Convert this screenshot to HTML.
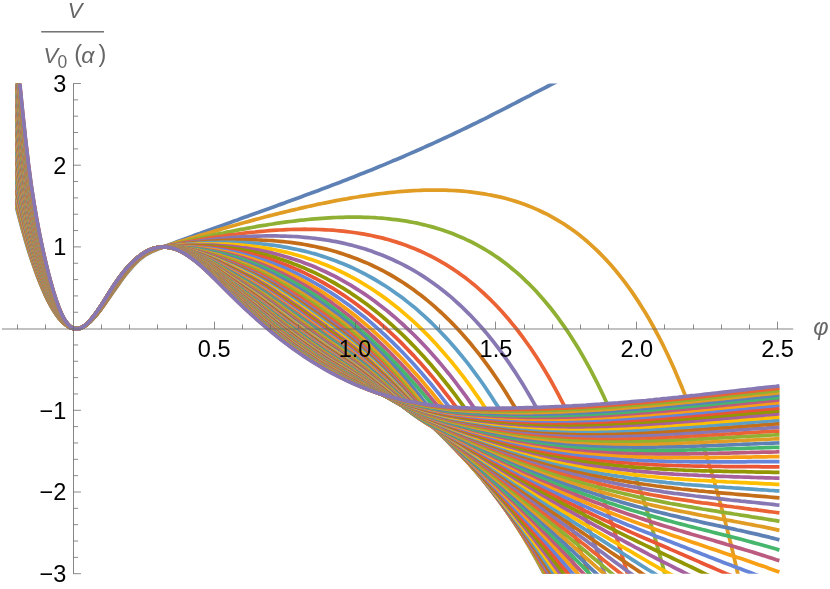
<!DOCTYPE html>
<html><head><meta charset="utf-8"><title>plot</title>
<style>
html,body{margin:0;padding:0;background:#fff;}
body{width:830px;height:589px;overflow:hidden;font-family:"Liberation Sans",sans-serif;}
svg{display:block}
#tx{position:absolute;left:0;top:0;width:830px;height:589px;will-change:transform;transform:translateZ(0);}
text{font-family:"Liberation Sans",sans-serif;fill:#000}
.it{font-style:italic;fill:#666}
</style></head><body>
<svg width="830" height="589" viewBox="0 0 830 589">
<defs><clipPath id="c"><rect x="0" y="83.4" width="830" height="490.3"/></clipPath></defs>
<rect width="830" height="589" fill="#fff"/>
<g clip-path="url(#c)" fill="none" stroke-width="3.75" stroke-linejoin="round" stroke-linecap="square">
<path d="M17.1,209.6 L19.9,220.4 L22.7,230.6 L25.5,240.4 L28.3,249.6 L31.1,258.4 L34.0,266.7 L36.8,274.5 L39.6,281.8 L42.4,288.6 L45.2,294.9 L48.0,300.7 L50.9,306.0 L53.7,310.7 L56.5,314.9 L59.3,318.6 L62.1,321.7 L64.9,324.2 L67.8,326.2 L70.6,327.7 L73.4,328.5 L76.2,328.7 L79.0,328.4 L81.9,327.4 L84.7,326.0 L87.5,324.0 L90.3,321.5 L93.1,318.7 L95.9,315.5 L98.8,312.1 L101.6,308.4 L104.4,304.5 L107.2,300.5 L110.0,296.4 L112.8,292.4 L115.7,288.3 L118.5,284.3 L121.3,280.4 L124.1,276.7 L126.9,273.1 L129.7,269.7 L132.6,266.4 L135.4,263.5 L138.2,260.7 L141.0,258.3 L143.8,256.2 L146.6,254.3 L149.5,252.8 L152.3,251.4 L155.1,250.2 L157.9,249.1 L160.7,248.0 L163.5,246.9 L167.1,245.5 L170.6,244.2 L174.1,242.9 L177.6,241.6 L181.2,240.3 L184.7,239.0 L188.2,237.7 L191.7,236.4 L195.2,235.1 L198.8,233.9 L202.3,232.6 L205.8,231.3 L209.3,230.0 L212.8,228.8 L216.4,227.5 L219.9,226.2 L223.4,225.0 L226.9,223.7 L230.4,222.4 L234.0,221.1 L237.5,219.9 L241.0,218.6 L244.5,217.3 L248.1,216.1 L251.6,214.8 L255.1,213.5 L258.6,212.3 L262.1,211.0 L265.7,209.7 L269.2,208.5 L272.7,207.2 L276.2,205.9 L279.7,204.6 L283.3,203.4 L286.8,202.1 L290.3,200.8 L293.8,199.5 L297.4,198.2 L300.9,196.9 L304.4,195.6 L307.9,194.3 L311.4,193.0 L315.0,191.7 L318.5,190.4 L322.0,189.1 L325.5,187.8 L329.0,186.4 L332.6,185.1 L336.1,183.8 L339.6,182.4 L343.1,181.0 L346.6,179.7 L350.2,178.3 L353.7,176.9 L357.2,175.5 L360.7,174.1 L364.3,172.7 L367.8,171.3 L371.3,169.9 L374.8,168.5 L378.3,167.0 L381.9,165.6 L385.4,164.1 L388.9,162.6 L392.4,161.1 L395.9,159.7 L399.5,158.2 L403.0,156.7 L406.5,155.1 L410.0,153.6 L413.6,152.1 L417.1,150.5 L420.6,149.0 L424.1,147.4 L427.6,145.8 L431.2,144.2 L434.7,142.6 L438.2,141.0 L441.7,139.4 L445.2,137.8 L448.8,136.1 L452.3,134.5 L455.8,132.8 L459.3,131.1 L462.9,129.4 L466.4,127.7 L469.9,126.0 L473.4,124.3 L476.9,122.6 L480.5,120.8 L484.0,119.1 L487.5,117.3 L491.0,115.5 L494.5,113.7 L498.1,111.9 L501.6,110.1 L505.1,108.3 L508.6,106.5 L512.1,104.7 L515.7,102.9 L519.2,101.0 L522.7,99.2 L526.2,97.4 L529.8,95.6 L533.3,93.7 L536.8,91.9 L540.3,90.1 L543.8,88.3 L547.4,86.5 L550.9,84.7 L554.4,82.9 L557.9,81.1 L561.4,79.3 L565.0,77.6 L568.5,75.8 L572.0,74.0 L575.5,72.3 L579.1,70.5 L582.6,68.8 L586.1,67.0 L589.6,65.3 L593.1,63.6 L596.7,61.9 L600.2,60.1 L603.7,58.4 L607.2,56.7 L610.7,55.0 L614.3,53.3 L617.8,51.6 L621.3,49.9 L624.8,48.2 L628.3,46.4 L631.9,44.7 L635.4,43.0 L638.9,41.3 L642.4,39.6 L646.0,37.9 L649.5,36.2 L653.0,34.5 L777.6,34.5" stroke="#5E81B5"/>
<path d="M17.1,207.7 L19.9,218.7 L22.7,229.1 L25.5,239.1 L28.3,248.5 L31.1,257.5 L34.0,265.9 L36.8,273.8 L39.6,281.2 L42.4,288.1 L45.2,294.5 L48.0,300.4 L50.9,305.7 L53.7,310.5 L56.5,314.8 L59.3,318.5 L62.1,321.6 L64.9,324.2 L67.8,326.2 L70.6,327.6 L73.4,328.5 L76.2,328.7 L79.0,328.4 L81.9,327.4 L84.7,325.9 L87.5,323.9 L90.3,321.5 L93.1,318.6 L95.9,315.4 L98.8,311.9 L101.6,308.2 L104.4,304.3 L107.2,300.2 L110.0,296.1 L112.8,291.9 L115.7,287.8 L118.5,283.8 L121.3,279.9 L124.1,276.1 L126.9,272.5 L129.7,269.1 L132.6,265.9 L135.4,262.9 L138.2,260.2 L141.0,257.8 L143.8,255.7 L146.6,253.9 L149.5,252.3 L152.3,251.0 L155.1,249.9 L157.9,248.8 L160.7,247.8 L163.5,246.9 L167.1,245.8 L170.6,244.7 L174.1,243.5 L177.6,242.4 L181.2,241.3 L184.7,240.2 L188.2,239.1 L191.7,238.0 L195.2,237.0 L198.8,235.9 L202.3,234.8 L205.8,233.8 L209.3,232.7 L212.8,231.7 L216.4,230.6 L219.9,229.6 L223.4,228.5 L226.9,227.5 L230.4,226.5 L234.0,225.5 L237.5,224.5 L241.0,223.5 L244.5,222.5 L248.1,221.6 L251.6,220.6 L255.1,219.6 L258.6,218.7 L262.1,217.8 L265.7,216.8 L269.2,215.9 L272.7,215.0 L276.2,214.1 L279.7,213.2 L283.3,212.4 L286.8,211.5 L290.3,210.6 L293.8,209.8 L297.4,209.0 L300.9,208.1 L304.4,207.3 L307.9,206.5 L311.4,205.8 L315.0,205.0 L318.5,204.2 L322.0,203.5 L325.5,202.8 L329.0,202.1 L332.6,201.4 L336.1,200.7 L339.6,200.0 L343.1,199.4 L346.6,198.8 L350.2,198.1 L353.7,197.5 L357.2,197.0 L360.7,196.4 L364.3,195.9 L367.8,195.4 L371.3,194.9 L374.8,194.4 L378.3,193.9 L381.9,193.5 L385.4,193.1 L388.9,192.7 L392.4,192.3 L395.9,192.0 L399.5,191.7 L403.0,191.4 L406.5,191.1 L410.0,190.9 L413.6,190.7 L417.1,190.5 L420.6,190.3 L424.1,190.2 L427.6,190.1 L431.2,190.1 L434.7,190.1 L438.2,190.1 L441.7,190.1 L445.2,190.2 L448.8,190.3 L452.3,190.5 L455.8,190.7 L459.3,190.9 L462.9,191.2 L466.4,191.5 L469.9,191.9 L473.4,192.3 L476.9,192.8 L480.5,193.3 L484.0,193.8 L487.5,194.5 L491.0,195.1 L494.5,195.8 L498.1,196.6 L501.6,197.4 L505.1,198.3 L508.6,199.3 L512.1,200.3 L515.7,201.4 L519.2,202.5 L522.7,203.8 L526.2,205.1 L529.8,206.4 L533.3,207.9 L536.8,209.4 L540.3,211.0 L543.8,212.7 L547.4,214.4 L550.9,216.3 L554.4,218.3 L557.9,220.3 L561.4,222.5 L565.0,224.7 L568.5,227.1 L572.0,229.5 L575.5,232.1 L579.1,234.8 L582.6,237.6 L586.1,240.5 L589.6,243.6 L593.1,246.8 L596.7,250.1 L600.2,253.6 L603.7,257.2 L607.2,260.9 L610.7,264.8 L614.3,268.9 L617.8,273.2 L621.3,277.6 L624.8,282.2 L628.3,286.9 L631.9,291.9 L635.4,297.1 L638.9,302.4 L642.4,308.0 L646.0,313.8 L649.5,319.8 L653.0,326.0 L656.5,332.5 L660.0,339.2 L663.6,346.2 L667.1,353.5 L670.6,361.0 L674.1,368.8 L677.6,376.9 L681.2,385.4 L684.7,394.1 L688.2,403.2 L691.7,412.6 L695.3,422.3 L698.8,432.5 L702.3,443.0 L705.8,453.9 L709.3,465.2 L712.9,476.9 L716.4,489.1 L719.9,501.7 L723.4,514.8 L726.9,528.4 L730.5,542.5 L734.0,557.1 L737.5,572.3 L741.0,588.0 L744.6,604.3 L748.1,621.2 L751.6,622.7 L777.6,622.7" stroke="#E19C24"/>
<path d="M17.1,205.7 L19.9,216.9 L22.7,227.6 L25.5,237.8 L28.3,247.4 L31.1,256.5 L34.0,265.1 L36.8,273.1 L39.6,280.6 L42.4,287.6 L45.2,294.1 L48.0,300.0 L50.9,305.4 L53.7,310.3 L56.5,314.6 L59.3,318.3 L62.1,321.5 L64.9,324.1 L67.8,326.2 L70.6,327.6 L73.4,328.5 L76.2,328.7 L79.0,328.4 L81.9,327.4 L84.7,325.9 L87.5,323.9 L90.3,321.5 L93.1,318.6 L95.9,315.3 L98.8,311.8 L101.6,308.0 L104.4,304.0 L107.2,299.9 L110.0,295.7 L112.8,291.5 L115.7,287.3 L118.5,283.2 L121.3,279.3 L124.1,275.5 L126.9,271.9 L129.7,268.5 L132.6,265.3 L135.4,262.4 L138.2,259.7 L141.0,257.3 L143.8,255.2 L146.6,253.4 L149.5,251.9 L152.3,250.6 L155.1,249.5 L157.9,248.5 L160.7,247.7 L163.5,246.9 L167.1,246.0 L170.6,245.1 L174.1,244.3 L177.6,243.4 L181.2,242.5 L184.7,241.7 L188.2,240.8 L191.7,240.0 L195.2,239.2 L198.8,238.4 L202.3,237.6 L205.8,236.8 L209.3,236.0 L212.8,235.2 L216.4,234.4 L219.9,233.7 L223.4,233.0 L226.9,232.2 L230.4,231.5 L234.0,230.8 L237.5,230.1 L241.0,229.4 L244.5,228.8 L248.1,228.1 L251.6,227.5 L255.1,226.9 L258.6,226.2 L262.1,225.6 L265.7,225.1 L269.2,224.5 L272.7,224.0 L276.2,223.4 L279.7,222.9 L283.3,222.4 L286.8,221.9 L290.3,221.5 L293.8,221.1 L297.4,220.6 L300.9,220.2 L304.4,219.9 L307.9,219.5 L311.4,219.2 L315.0,218.9 L318.5,218.6 L322.0,218.3 L325.5,218.1 L329.0,217.9 L332.6,217.7 L336.1,217.5 L339.6,217.4 L343.1,217.3 L346.6,217.2 L350.2,217.1 L353.7,217.1 L357.2,217.1 L360.7,217.2 L364.3,217.3 L367.8,217.4 L371.3,217.5 L374.8,217.7 L378.3,218.0 L381.9,218.2 L385.4,218.5 L388.9,218.9 L392.4,219.3 L395.9,219.7 L399.5,220.2 L403.0,220.7 L406.5,221.2 L410.0,221.9 L413.6,222.5 L417.1,223.2 L420.6,224.0 L424.1,224.8 L427.6,225.7 L431.2,226.6 L434.7,227.6 L438.2,228.7 L441.7,229.8 L445.2,231.0 L448.8,232.2 L452.3,233.6 L455.8,235.0 L459.3,236.4 L462.9,237.9 L466.4,239.6 L469.9,241.2 L473.4,243.0 L476.9,244.9 L480.5,246.8 L484.0,248.9 L487.5,251.0 L491.0,253.2 L494.5,255.5 L498.1,257.9 L501.6,260.4 L505.1,263.1 L508.6,265.8 L512.1,268.7 L515.7,271.6 L519.2,274.7 L522.7,277.9 L526.2,281.3 L529.8,284.7 L533.3,288.3 L536.8,292.1 L540.3,296.0 L543.8,300.0 L547.4,304.2 L550.9,308.5 L554.4,313.0 L557.9,317.7 L561.4,322.6 L565.0,327.6 L568.5,332.8 L572.0,338.2 L575.5,343.8 L579.1,349.6 L582.6,355.6 L586.1,361.8 L589.6,368.2 L593.1,374.9 L596.7,381.8 L600.2,389.0 L603.7,396.3 L607.2,404.0 L610.7,411.9 L614.3,420.1 L617.8,428.6 L621.3,437.4 L624.8,446.4 L628.3,455.8 L631.9,465.5 L635.4,475.5 L638.9,485.9 L642.4,496.7 L646.0,507.7 L649.5,519.2 L653.0,531.1 L656.5,543.3 L660.0,556.0 L663.6,569.1 L667.1,582.7 L670.6,596.7 L674.1,611.1 L677.6,622.7 L777.6,622.7" stroke="#8FB032"/>
<path d="M17.1,203.8 L19.9,215.2 L22.7,226.1 L25.5,236.5 L28.3,246.3 L31.1,255.6 L34.0,264.3 L36.8,272.4 L39.6,280.0 L42.4,287.1 L45.2,293.6 L48.0,299.6 L50.9,305.1 L53.7,310.0 L56.5,314.4 L59.3,318.2 L62.1,321.4 L64.9,324.1 L67.8,326.2 L70.6,327.6 L73.4,328.5 L76.2,328.7 L79.0,328.4 L81.9,327.4 L84.7,325.9 L87.5,323.9 L90.3,321.4 L93.1,318.5 L95.9,315.3 L98.8,311.7 L101.6,307.9 L104.4,303.9 L107.2,299.7 L110.0,295.5 L112.8,291.2 L115.7,287.0 L118.5,282.9 L121.3,278.9 L124.1,275.1 L126.9,271.5 L129.7,268.1 L132.6,264.9 L135.4,262.0 L138.2,259.4 L141.0,257.0 L143.8,254.9 L146.6,253.1 L149.5,251.6 L152.3,250.3 L155.1,249.3 L157.9,248.3 L160.7,247.6 L163.5,246.9 L167.1,246.2 L170.6,245.4 L174.1,244.7 L177.6,244.0 L181.2,243.3 L184.7,242.6 L188.2,241.9 L191.7,241.3 L195.2,240.6 L198.8,240.0 L202.3,239.4 L205.8,238.8 L209.3,238.2 L212.8,237.6 L216.4,237.0 L219.9,236.5 L223.4,236.0 L226.9,235.4 L230.4,234.9 L234.0,234.5 L237.5,234.0 L241.0,233.5 L244.5,233.1 L248.1,232.7 L251.6,232.3 L255.1,232.0 L258.6,231.6 L262.1,231.3 L265.7,231.0 L269.2,230.7 L272.7,230.4 L276.2,230.2 L279.7,230.0 L283.3,229.8 L286.8,229.6 L290.3,229.5 L293.8,229.4 L297.4,229.3 L300.9,229.3 L304.4,229.2 L307.9,229.3 L311.4,229.3 L315.0,229.4 L318.5,229.5 L322.0,229.6 L325.5,229.8 L329.0,230.0 L332.6,230.2 L336.1,230.5 L339.6,230.8 L343.1,231.2 L346.6,231.6 L350.2,232.0 L353.7,232.5 L357.2,233.0 L360.7,233.6 L364.3,234.2 L367.8,234.8 L371.3,235.5 L374.8,236.3 L378.3,237.1 L381.9,237.9 L385.4,238.9 L388.9,239.8 L392.4,240.9 L395.9,241.9 L399.5,243.1 L403.0,244.3 L406.5,245.5 L410.0,246.9 L413.6,248.3 L417.1,249.7 L420.6,251.3 L424.1,252.9 L427.6,254.6 L431.2,256.3 L434.7,258.2 L438.2,260.1 L441.7,262.1 L445.2,264.2 L448.8,266.4 L452.3,268.6 L455.8,271.0 L459.3,273.4 L462.9,276.0 L466.4,278.6 L469.9,281.4 L473.4,284.2 L476.9,287.2 L480.5,290.3 L484.0,293.5 L487.5,296.8 L491.0,300.2 L494.5,303.8 L498.1,307.5 L501.6,311.3 L505.1,315.2 L508.6,319.3 L512.1,323.6 L515.7,327.9 L519.2,332.5 L522.7,337.2 L526.2,342.0 L529.8,347.0 L533.3,352.2 L536.8,357.5 L540.3,363.1 L543.8,368.8 L547.4,374.7 L550.9,380.8 L554.4,387.1 L557.9,393.6 L561.4,400.3 L565.0,407.2 L568.5,414.4 L572.0,421.8 L575.5,429.4 L579.1,437.2 L582.6,445.3 L586.1,453.7 L589.6,462.3 L593.1,471.2 L596.7,480.4 L600.2,489.9 L603.7,499.6 L607.2,509.7 L610.7,520.0 L614.3,530.7 L617.8,541.7 L621.3,553.1 L624.8,564.8 L628.3,576.9 L631.9,589.3 L635.4,602.1 L638.9,615.3 L642.4,622.7 L777.6,622.7" stroke="#EB6235"/>
<path d="M17.1,201.8 L19.9,213.5 L22.7,224.6 L25.5,235.2 L28.3,245.2 L31.1,254.7 L34.0,263.5 L36.8,271.7 L39.6,279.4 L42.4,286.6 L45.2,293.2 L48.0,299.3 L50.9,304.8 L53.7,309.8 L56.5,314.2 L59.3,318.1 L62.1,321.4 L64.9,324.0 L67.8,326.1 L70.6,327.6 L73.4,328.5 L76.2,328.7 L79.0,328.4 L81.9,327.4 L84.7,325.9 L87.5,323.9 L90.3,321.4 L93.1,318.5 L95.9,315.2 L98.8,311.6 L101.6,307.8 L104.4,303.7 L107.2,299.6 L110.0,295.3 L112.8,291.0 L115.7,286.8 L118.5,282.6 L121.3,278.7 L124.1,274.9 L126.9,271.2 L129.7,267.8 L132.6,264.7 L135.4,261.8 L138.2,259.1 L141.0,256.7 L143.8,254.7 L146.6,252.9 L149.5,251.4 L152.3,250.1 L155.1,249.1 L157.9,248.2 L160.7,247.5 L163.5,246.9 L167.1,246.3 L170.6,245.6 L174.1,245.0 L177.6,244.5 L181.2,243.9 L184.7,243.3 L188.2,242.8 L191.7,242.3 L195.2,241.8 L198.8,241.3 L202.3,240.8 L205.8,240.3 L209.3,239.9 L212.8,239.5 L216.4,239.1 L219.9,238.7 L223.4,238.4 L226.9,238.0 L230.4,237.7 L234.0,237.4 L237.5,237.2 L241.0,236.9 L244.5,236.7 L248.1,236.5 L251.6,236.3 L255.1,236.2 L258.6,236.1 L262.1,236.0 L265.7,235.9 L269.2,235.9 L272.7,235.9 L276.2,235.9 L279.7,236.0 L283.3,236.0 L286.8,236.2 L290.3,236.3 L293.8,236.5 L297.4,236.7 L300.9,237.0 L304.4,237.3 L307.9,237.6 L311.4,238.0 L315.0,238.4 L318.5,238.8 L322.0,239.3 L325.5,239.9 L329.0,240.4 L332.6,241.1 L336.1,241.7 L339.6,242.4 L343.1,243.2 L346.6,244.0 L350.2,244.8 L353.7,245.8 L357.2,246.7 L360.7,247.7 L364.3,248.8 L367.8,249.9 L371.3,251.1 L374.8,252.4 L378.3,253.7 L381.9,255.0 L385.4,256.5 L388.9,258.0 L392.4,259.5 L395.9,261.2 L399.5,262.9 L403.0,264.6 L406.5,266.5 L410.0,268.4 L413.6,270.4 L417.1,272.5 L420.6,274.7 L424.1,276.9 L427.6,279.3 L431.2,281.7 L434.7,284.2 L438.2,286.8 L441.7,289.5 L445.2,292.3 L448.8,295.2 L452.3,298.2 L455.8,301.3 L459.3,304.5 L462.9,307.9 L466.4,311.3 L469.9,314.8 L473.4,318.5 L476.9,322.3 L480.5,326.2 L484.0,330.3 L487.5,334.4 L491.0,338.7 L494.5,343.2 L498.1,347.8 L501.6,352.5 L505.1,357.4 L508.6,362.4 L512.1,367.6 L515.7,372.9 L519.2,378.4 L522.7,384.1 L526.2,389.9 L529.8,396.0 L533.3,402.1 L536.8,408.5 L540.3,415.1 L543.8,421.9 L547.4,428.8 L550.9,436.0 L554.4,443.4 L557.9,450.9 L561.4,458.8 L565.0,466.8 L568.5,475.0 L572.0,483.5 L575.5,492.3 L579.1,501.3 L582.6,510.5 L586.1,520.0 L589.6,529.8 L593.1,539.8 L596.7,550.1 L600.2,560.7 L603.7,571.6 L607.2,582.8 L610.7,594.3 L614.3,606.2 L617.8,618.3 L621.3,622.7 L777.6,622.7" stroke="#8778B3"/>
<path d="M17.1,199.9 L19.9,211.8 L22.7,223.1 L25.5,234.0 L28.3,244.1 L31.1,253.7 L34.0,262.7 L36.8,271.0 L39.6,278.8 L42.4,286.0 L45.2,292.7 L48.0,298.9 L50.9,304.5 L53.7,309.6 L56.5,314.0 L59.3,318.0 L62.1,321.3 L64.9,324.0 L67.8,326.1 L70.6,327.6 L73.4,328.5 L76.2,328.8 L79.0,328.4 L81.9,327.5 L84.7,325.9 L87.5,323.9 L90.3,321.4 L93.1,318.5 L95.9,315.2 L98.8,311.6 L101.6,307.7 L104.4,303.6 L107.2,299.4 L110.0,295.1 L112.8,290.8 L115.7,286.6 L118.5,282.4 L121.3,278.4 L124.1,274.6 L126.9,271.0 L129.7,267.6 L132.6,264.4 L135.4,261.5 L138.2,258.9 L141.0,256.6 L143.8,254.5 L146.6,252.7 L149.5,251.2 L152.3,250.0 L155.1,248.9 L157.9,248.1 L160.7,247.4 L163.5,246.9 L167.1,246.4 L170.6,245.8 L174.1,245.3 L177.6,244.8 L181.2,244.4 L184.7,243.9 L188.2,243.5 L191.7,243.1 L195.2,242.7 L198.8,242.3 L202.3,242.0 L205.8,241.7 L209.3,241.4 L212.8,241.1 L216.4,240.9 L219.9,240.6 L223.4,240.5 L226.9,240.3 L230.4,240.1 L234.0,240.0 L237.5,239.9 L241.0,239.9 L244.5,239.8 L248.1,239.8 L251.6,239.9 L255.1,239.9 L258.6,240.0 L262.1,240.2 L265.7,240.3 L269.2,240.5 L272.7,240.7 L276.2,241.0 L279.7,241.3 L283.3,241.6 L286.8,242.0 L290.3,242.4 L293.8,242.9 L297.4,243.4 L300.9,243.9 L304.4,244.5 L307.9,245.1 L311.4,245.8 L315.0,246.5 L318.5,247.3 L322.0,248.1 L325.5,248.9 L329.0,249.8 L332.6,250.8 L336.1,251.8 L339.6,252.9 L343.1,254.0 L346.6,255.2 L350.2,256.4 L353.7,257.7 L357.2,259.0 L360.7,260.4 L364.3,261.9 L367.8,263.4 L371.3,265.0 L374.8,266.7 L378.3,268.4 L381.9,270.2 L385.4,272.1 L388.9,274.0 L392.4,276.0 L395.9,278.1 L399.5,280.3 L403.0,282.5 L406.5,284.9 L410.0,287.3 L413.6,289.8 L417.1,292.4 L420.6,295.0 L424.1,297.8 L427.6,300.6 L431.2,303.6 L434.7,306.6 L438.2,309.8 L441.7,313.0 L445.2,316.4 L448.8,319.8 L452.3,323.4 L455.8,327.0 L459.3,330.8 L462.9,334.7 L466.4,338.7 L469.9,342.8 L473.4,347.1 L476.9,351.4 L480.5,355.9 L484.0,360.6 L487.5,365.3 L491.0,370.2 L494.5,375.3 L498.1,380.5 L501.6,385.8 L505.1,391.3 L508.6,396.9 L512.1,402.7 L515.7,408.6 L519.2,414.7 L522.7,421.0 L526.2,427.4 L529.8,434.0 L533.3,440.8 L536.8,447.8 L540.3,454.9 L543.8,462.3 L547.4,469.8 L550.9,477.5 L554.4,485.5 L557.9,493.6 L561.4,501.9 L565.0,510.5 L568.5,519.3 L572.0,528.3 L575.5,537.5 L579.1,547.0 L582.6,556.7 L586.1,566.6 L589.6,576.8 L593.1,587.3 L596.7,598.0 L600.2,608.9 L603.7,620.2 L607.2,622.7 L777.6,622.7" stroke="#C56E1A"/>
<path d="M17.1,198.0 L19.9,210.1 L22.7,221.6 L25.5,232.7 L28.3,243.0 L31.1,252.8 L34.0,261.9 L36.8,270.3 L39.6,278.2 L42.4,285.5 L45.2,292.3 L48.0,298.5 L50.9,304.2 L53.7,309.3 L56.5,313.9 L59.3,317.8 L62.1,321.2 L64.9,323.9 L67.8,326.1 L70.6,327.6 L73.4,328.5 L76.2,328.8 L79.0,328.4 L81.9,327.5 L84.7,325.9 L87.5,323.9 L90.3,321.4 L93.1,318.4 L95.9,315.1 L98.8,311.5 L101.6,307.6 L104.4,303.5 L107.2,299.3 L110.0,295.0 L112.8,290.6 L115.7,286.4 L118.5,282.2 L121.3,278.2 L124.1,274.4 L126.9,270.8 L129.7,267.4 L132.6,264.2 L135.4,261.4 L138.2,258.7 L141.0,256.4 L143.8,254.3 L146.6,252.6 L149.5,251.1 L152.3,249.9 L155.1,248.8 L157.9,248.0 L160.7,247.4 L163.5,246.9 L167.1,246.4 L170.6,246.0 L174.1,245.6 L177.6,245.2 L181.2,244.8 L184.7,244.5 L188.2,244.1 L191.7,243.8 L195.2,243.6 L198.8,243.3 L202.3,243.1 L205.8,242.9 L209.3,242.7 L212.8,242.6 L216.4,242.5 L219.9,242.4 L223.4,242.4 L226.9,242.3 L230.4,242.4 L234.0,242.4 L237.5,242.5 L241.0,242.6 L244.5,242.7 L248.1,242.9 L251.6,243.1 L255.1,243.4 L258.6,243.7 L262.1,244.0 L265.7,244.4 L269.2,244.8 L272.7,245.2 L276.2,245.7 L279.7,246.2 L283.3,246.8 L286.8,247.4 L290.3,248.1 L293.8,248.8 L297.4,249.5 L300.9,250.3 L304.4,251.1 L307.9,252.0 L311.4,253.0 L315.0,253.9 L318.5,255.0 L322.0,256.1 L325.5,257.2 L329.0,258.4 L332.6,259.7 L336.1,261.0 L339.6,262.4 L343.1,263.8 L346.6,265.3 L350.2,266.8 L353.7,268.4 L357.2,270.1 L360.7,271.9 L364.3,273.7 L367.8,275.6 L371.3,277.5 L374.8,279.5 L378.3,281.6 L381.9,283.8 L385.4,286.0 L388.9,288.3 L392.4,290.7 L395.9,293.2 L399.5,295.7 L403.0,298.3 L406.5,301.1 L410.0,303.9 L413.6,306.7 L417.1,309.7 L420.6,312.8 L424.1,315.9 L427.6,319.2 L431.2,322.5 L434.7,326.0 L438.2,329.5 L441.7,333.2 L445.2,336.9 L448.8,340.8 L452.3,344.7 L455.8,348.8 L459.3,353.0 L462.9,357.3 L466.4,361.7 L469.9,366.2 L473.4,370.8 L476.9,375.6 L480.5,380.5 L484.0,385.5 L487.5,390.7 L491.0,396.0 L494.5,401.4 L498.1,406.9 L501.6,412.6 L505.1,418.5 L508.6,424.4 L512.1,430.6 L515.7,436.8 L519.2,443.3 L522.7,449.9 L526.2,456.6 L529.8,463.5 L533.3,470.6 L536.8,477.8 L540.3,485.3 L543.8,492.9 L547.4,500.6 L550.9,508.6 L554.4,516.7 L557.9,525.0 L561.4,533.5 L565.0,542.3 L568.5,551.2 L572.0,560.3 L575.5,569.6 L579.1,579.1 L582.6,588.9 L586.1,598.8 L589.6,609.0 L593.1,619.4 L596.7,622.7 L777.6,622.7" stroke="#5D9EC7"/>
<path d="M17.1,196.0 L19.9,208.3 L22.7,220.1 L25.5,231.4 L28.3,242.0 L31.1,251.8 L34.0,261.0 L36.8,269.6 L39.6,277.6 L42.4,285.0 L45.2,291.8 L48.0,298.2 L50.9,303.9 L53.7,309.1 L56.5,313.7 L59.3,317.7 L62.1,321.1 L64.9,323.9 L67.8,326.0 L70.6,327.6 L73.4,328.5 L76.2,328.8 L79.0,328.4 L81.9,327.5 L84.7,325.9 L87.5,323.9 L90.3,321.3 L93.1,318.4 L95.9,315.1 L98.8,311.4 L101.6,307.5 L104.4,303.4 L107.2,299.2 L110.0,294.8 L112.8,290.5 L115.7,286.2 L118.5,282.0 L121.3,278.0 L124.1,274.2 L126.9,270.6 L129.7,267.2 L132.6,264.1 L135.4,261.2 L138.2,258.6 L141.0,256.2 L143.8,254.2 L146.6,252.4 L149.5,251.0 L152.3,249.7 L155.1,248.7 L157.9,247.9 L160.7,247.3 L163.5,246.9 L167.1,246.5 L170.6,246.1 L174.1,245.8 L177.6,245.5 L181.2,245.2 L184.7,244.9 L188.2,244.7 L191.7,244.5 L195.2,244.3 L198.8,244.2 L202.3,244.1 L205.8,244.0 L209.3,244.0 L212.8,244.0 L216.4,244.0 L219.9,244.0 L223.4,244.1 L226.9,244.2 L230.4,244.4 L234.0,244.6 L237.5,244.8 L241.0,245.1 L244.5,245.4 L248.1,245.8 L251.6,246.2 L255.1,246.6 L258.6,247.1 L262.1,247.6 L265.7,248.1 L269.2,248.7 L272.7,249.4 L276.2,250.0 L279.7,250.8 L283.3,251.6 L286.8,252.4 L290.3,253.3 L293.8,254.2 L297.4,255.2 L300.9,256.2 L304.4,257.2 L307.9,258.4 L311.4,259.6 L315.0,260.8 L318.5,262.1 L322.0,263.4 L325.5,264.8 L329.0,266.3 L332.6,267.8 L336.1,269.4 L339.6,271.0 L343.1,272.7 L346.6,274.5 L350.2,276.3 L353.7,278.2 L357.2,280.2 L360.7,282.2 L364.3,284.3 L367.8,286.5 L371.3,288.7 L374.8,291.0 L378.3,293.4 L381.9,295.9 L385.4,298.4 L388.9,301.0 L392.4,303.7 L395.9,306.5 L399.5,309.3 L403.0,312.3 L406.5,315.3 L410.0,318.4 L413.6,321.6 L417.1,324.9 L420.6,328.2 L424.1,331.7 L427.6,335.2 L431.2,338.9 L434.7,342.6 L438.2,346.5 L441.7,350.4 L445.2,354.4 L448.8,358.6 L452.3,362.8 L455.8,367.2 L459.3,371.6 L462.9,376.2 L466.4,380.9 L469.9,385.7 L473.4,390.6 L476.9,395.6 L480.5,400.7 L484.0,406.0 L487.5,411.4 L491.0,416.9 L494.5,422.5 L498.1,428.3 L501.6,434.2 L505.1,440.2 L508.6,446.4 L512.1,452.7 L515.7,459.1 L519.2,465.7 L522.7,472.4 L526.2,479.3 L529.8,486.3 L533.3,493.4 L536.8,500.8 L540.3,508.2 L543.8,515.9 L547.4,523.7 L550.9,531.6 L554.4,539.7 L557.9,548.0 L561.4,556.5 L565.0,565.1 L568.5,573.9 L572.0,582.9 L575.5,592.1 L579.1,601.4 L582.6,611.0 L586.1,620.7 L589.6,622.7 L777.6,622.7" stroke="#FFBF00"/>
<path d="M17.1,194.1 L19.9,206.6 L22.7,218.6 L25.5,230.1 L28.3,240.9 L31.1,250.9 L34.0,260.2 L36.8,268.9 L39.6,277.0 L42.4,284.5 L45.2,291.4 L48.0,297.8 L50.9,303.6 L53.7,308.9 L56.5,313.5 L59.3,317.6 L62.1,321.0 L64.9,323.8 L67.8,326.0 L70.6,327.6 L73.4,328.5 L76.2,328.8 L79.0,328.4 L81.9,327.5 L84.7,325.9 L87.5,323.9 L90.3,321.3 L93.1,318.4 L95.9,315.0 L98.8,311.4 L101.6,307.4 L104.4,303.3 L107.2,299.1 L110.0,294.7 L112.8,290.4 L115.7,286.1 L118.5,281.9 L121.3,277.9 L124.1,274.0 L126.9,270.4 L129.7,267.0 L132.6,263.9 L135.4,261.0 L138.2,258.4 L141.0,256.1 L143.8,254.1 L146.6,252.3 L149.5,250.8 L152.3,249.6 L155.1,248.6 L157.9,247.8 L160.7,247.3 L163.5,246.9 L167.1,246.6 L170.6,246.3 L174.1,246.0 L177.6,245.8 L181.2,245.6 L184.7,245.4 L188.2,245.2 L191.7,245.1 L195.2,245.1 L198.8,245.0 L202.3,245.0 L205.8,245.1 L209.3,245.1 L212.8,245.2 L216.4,245.4 L219.9,245.6 L223.4,245.8 L226.9,246.0 L230.4,246.3 L234.0,246.7 L237.5,247.0 L241.0,247.5 L244.5,247.9 L248.1,248.4 L251.6,249.0 L255.1,249.6 L258.6,250.2 L262.1,250.9 L265.7,251.6 L269.2,252.4 L272.7,253.2 L276.2,254.1 L279.7,255.0 L283.3,256.0 L286.8,257.0 L290.3,258.1 L293.8,259.2 L297.4,260.4 L300.9,261.6 L304.4,262.9 L307.9,264.2 L311.4,265.6 L315.0,267.1 L318.5,268.6 L322.0,270.2 L325.5,271.8 L329.0,273.5 L332.6,275.2 L336.1,277.0 L339.6,278.9 L343.1,280.9 L346.6,282.9 L350.2,284.9 L353.7,287.1 L357.2,289.3 L360.7,291.5 L364.3,293.9 L367.8,296.3 L371.3,298.8 L374.8,301.3 L378.3,304.0 L381.9,306.7 L385.4,309.4 L388.9,312.3 L392.4,315.2 L395.9,318.2 L399.5,321.3 L403.0,324.5 L406.5,327.8 L410.0,331.1 L413.6,334.5 L417.1,338.0 L420.6,341.6 L424.1,345.3 L427.6,349.1 L431.2,353.0 L434.7,356.9 L438.2,361.0 L441.7,365.1 L445.2,369.4 L448.8,373.7 L452.3,378.2 L455.8,382.7 L459.3,387.3 L462.9,392.1 L466.4,396.9 L469.9,401.9 L473.4,406.9 L476.9,412.1 L480.5,417.4 L484.0,422.8 L487.5,428.3 L491.0,433.9 L494.5,439.6 L498.1,445.5 L501.6,451.5 L505.1,457.6 L508.6,463.8 L512.1,470.1 L515.7,476.6 L519.2,483.2 L522.7,489.9 L526.2,496.8 L529.8,503.8 L533.3,510.9 L536.8,518.2 L540.3,525.6 L543.8,533.1 L547.4,540.8 L550.9,548.6 L554.4,556.6 L557.9,564.7 L561.4,573.0 L565.0,581.4 L568.5,590.0 L572.0,598.7 L575.5,607.6 L579.1,616.6 L582.6,622.7 L777.6,622.7" stroke="#A5609D"/>
<path d="M17.1,192.1 L19.9,204.9 L22.7,217.1 L25.5,228.8 L28.3,239.8 L31.1,250.0 L34.0,259.4 L36.8,268.2 L39.6,276.4 L42.4,284.0 L45.2,291.0 L48.0,297.4 L50.9,303.3 L53.7,308.6 L56.5,313.3 L59.3,317.4 L62.1,320.9 L64.9,323.8 L67.8,326.0 L70.6,327.6 L73.4,328.5 L76.2,328.8 L79.0,328.4 L81.9,327.5 L84.7,325.9 L87.5,323.8 L90.3,321.3 L93.1,318.3 L95.9,315.0 L98.8,311.3 L101.6,307.4 L104.4,303.2 L107.2,299.0 L110.0,294.6 L112.8,290.2 L115.7,285.9 L118.5,281.7 L121.3,277.7 L124.1,273.9 L126.9,270.3 L129.7,266.9 L132.6,263.8 L135.4,260.9 L138.2,258.3 L141.0,256.0 L143.8,254.0 L146.6,252.2 L149.5,250.7 L152.3,249.5 L155.1,248.5 L157.9,247.8 L160.7,247.2 L163.5,246.9 L167.1,246.6 L170.6,246.4 L174.1,246.2 L177.6,246.0 L181.2,245.9 L184.7,245.8 L188.2,245.7 L191.7,245.7 L195.2,245.7 L198.8,245.8 L202.3,245.9 L205.8,246.0 L209.3,246.2 L212.8,246.4 L216.4,246.7 L219.9,247.0 L223.4,247.3 L226.9,247.7 L230.4,248.1 L234.0,248.6 L237.5,249.1 L241.0,249.7 L244.5,250.3 L248.1,250.9 L251.6,251.6 L255.1,252.4 L258.6,253.2 L262.1,254.0 L265.7,254.9 L269.2,255.9 L272.7,256.8 L276.2,257.9 L279.7,259.0 L283.3,260.1 L286.8,261.3 L290.3,262.6 L293.8,263.9 L297.4,265.2 L300.9,266.7 L304.4,268.1 L307.9,269.7 L311.4,271.2 L315.0,272.9 L318.5,274.6 L322.0,276.4 L325.5,278.2 L329.0,280.1 L332.6,282.0 L336.1,284.0 L339.6,286.1 L343.1,288.2 L346.6,290.4 L350.2,292.7 L353.7,295.1 L357.2,297.5 L360.7,299.9 L364.3,302.5 L367.8,305.1 L371.3,307.8 L374.8,310.5 L378.3,313.4 L381.9,316.3 L385.4,319.2 L388.9,322.3 L392.4,325.4 L395.9,328.6 L399.5,331.9 L403.0,335.2 L406.5,338.7 L410.0,342.2 L413.6,345.8 L417.1,349.5 L420.6,353.3 L424.1,357.1 L427.6,361.0 L431.2,365.1 L434.7,369.2 L438.2,373.4 L441.7,377.7 L445.2,382.0 L448.8,386.5 L452.3,391.1 L455.8,395.7 L459.3,400.5 L462.9,405.3 L466.4,410.3 L469.9,415.3 L473.4,420.5 L476.9,425.7 L480.5,431.0 L484.0,436.5 L487.5,442.0 L491.0,447.7 L494.5,453.5 L498.1,459.3 L501.6,465.3 L505.1,471.4 L508.6,477.6 L512.1,483.9 L515.7,490.3 L519.2,496.8 L522.7,503.5 L526.2,510.2 L529.8,517.1 L533.3,524.1 L536.8,531.2 L540.3,538.5 L543.8,545.9 L547.4,553.4 L550.9,561.0 L554.4,568.7 L557.9,576.6 L561.4,584.6 L565.0,592.7 L568.5,601.0 L572.0,609.4 L575.5,617.9 L579.1,622.7 L777.6,622.7" stroke="#929600"/>
<path d="M17.1,190.2 L19.9,203.2 L22.7,215.6 L25.5,227.5 L28.3,238.7 L31.1,249.0 L34.0,258.6 L36.8,267.5 L39.6,275.8 L42.4,283.4 L45.2,290.5 L48.0,297.0 L50.9,303.0 L53.7,308.4 L56.5,313.2 L59.3,317.3 L62.1,320.9 L64.9,323.7 L67.8,326.0 L70.6,327.5 L73.4,328.5 L76.2,328.8 L79.0,328.4 L81.9,327.5 L84.7,325.9 L87.5,323.8 L90.3,321.3 L93.1,318.3 L95.9,314.9 L98.8,311.3 L101.6,307.3 L104.4,303.1 L107.2,298.8 L110.0,294.5 L112.8,290.1 L115.7,285.8 L118.5,281.6 L121.3,277.5 L124.1,273.7 L126.9,270.1 L129.7,266.7 L132.6,263.6 L135.4,260.8 L138.2,258.2 L141.0,255.9 L143.8,253.8 L146.6,252.1 L149.5,250.6 L152.3,249.4 L155.1,248.4 L157.9,247.7 L160.7,247.2 L163.5,246.9 L167.1,246.7 L170.6,246.5 L174.1,246.4 L177.6,246.3 L181.2,246.2 L184.7,246.2 L188.2,246.2 L191.7,246.3 L195.2,246.4 L198.8,246.5 L202.3,246.7 L205.8,247.0 L209.3,247.3 L212.8,247.6 L216.4,247.9 L219.9,248.3 L223.4,248.8 L226.9,249.3 L230.4,249.9 L234.0,250.4 L237.5,251.1 L241.0,251.8 L244.5,252.5 L248.1,253.3 L251.6,254.1 L255.1,255.0 L258.6,256.0 L262.1,256.9 L265.7,258.0 L269.2,259.1 L272.7,260.2 L276.2,261.4 L279.7,262.7 L283.3,264.0 L286.8,265.3 L290.3,266.7 L293.8,268.2 L297.4,269.7 L300.9,271.3 L304.4,272.9 L307.9,274.6 L311.4,276.4 L315.0,278.2 L318.5,280.1 L322.0,282.0 L325.5,284.0 L329.0,286.1 L332.6,288.2 L336.1,290.4 L339.6,292.6 L343.1,294.9 L346.6,297.3 L350.2,299.7 L353.7,302.2 L357.2,304.8 L360.7,307.5 L364.3,310.2 L367.8,312.9 L371.3,315.8 L374.8,318.7 L378.3,321.7 L381.9,324.8 L385.4,327.9 L388.9,331.1 L392.4,334.4 L395.9,337.7 L399.5,341.1 L403.0,344.6 L406.5,348.2 L410.0,351.9 L413.6,355.6 L417.1,359.4 L420.6,363.3 L424.1,367.3 L427.6,371.3 L431.2,375.4 L434.7,379.6 L438.2,383.9 L441.7,388.3 L445.2,392.8 L448.8,397.3 L452.3,402.0 L455.8,406.7 L459.3,411.5 L462.9,416.4 L466.4,421.4 L469.9,426.4 L473.4,431.6 L476.9,436.9 L480.5,442.2 L484.0,447.6 L487.5,453.2 L491.0,458.8 L494.5,464.5 L498.1,470.4 L501.6,476.3 L505.1,482.3 L508.6,488.4 L512.1,494.6 L515.7,500.9 L519.2,507.4 L522.7,513.9 L526.2,520.5 L529.8,527.2 L533.3,534.0 L536.8,541.0 L540.3,548.0 L543.8,555.2 L547.4,562.4 L550.9,569.8 L554.4,577.3 L557.9,584.9 L561.4,592.6 L565.0,600.4 L568.5,608.3 L572.0,616.4 L575.5,622.7 L777.6,622.7" stroke="#E95536"/>
<path d="M17.1,188.3 L19.9,201.5 L22.7,214.1 L25.5,226.2 L28.3,237.6 L31.1,248.1 L34.0,257.8 L36.8,266.8 L39.6,275.2 L42.4,282.9 L45.2,290.1 L48.0,296.7 L50.9,302.7 L53.7,308.1 L56.5,313.0 L59.3,317.2 L62.1,320.8 L64.9,323.7 L67.8,325.9 L70.6,327.5 L73.4,328.5 L76.2,328.8 L79.0,328.4 L81.9,327.5 L84.7,325.9 L87.5,323.8 L90.3,321.3 L93.1,318.3 L95.9,314.9 L98.8,311.2 L101.6,307.2 L104.4,303.1 L107.2,298.7 L110.0,294.4 L112.8,290.0 L115.7,285.6 L118.5,281.4 L121.3,277.4 L124.1,273.6 L126.9,270.0 L129.7,266.6 L132.6,263.5 L135.4,260.6 L138.2,258.0 L141.0,255.7 L143.8,253.7 L146.6,252.0 L149.5,250.5 L152.3,249.3 L155.1,248.4 L157.9,247.6 L160.7,247.2 L163.5,246.9 L167.1,246.7 L170.6,246.6 L174.1,246.5 L177.6,246.5 L181.2,246.5 L184.7,246.6 L188.2,246.7 L191.7,246.8 L195.2,247.0 L198.8,247.3 L202.3,247.5 L205.8,247.9 L209.3,248.2 L212.8,248.7 L216.4,249.1 L219.9,249.6 L223.4,250.2 L226.9,250.8 L230.4,251.5 L234.0,252.2 L237.5,252.9 L241.0,253.7 L244.5,254.6 L248.1,255.5 L251.6,256.5 L255.1,257.5 L258.6,258.6 L262.1,259.7 L265.7,260.8 L269.2,262.1 L272.7,263.3 L276.2,264.7 L279.7,266.1 L283.3,267.5 L286.8,269.0 L290.3,270.6 L293.8,272.2 L297.4,273.9 L300.9,275.6 L304.4,277.4 L307.9,279.2 L311.4,281.1 L315.0,283.1 L318.5,285.1 L322.0,287.2 L325.5,289.3 L329.0,291.5 L332.6,293.8 L336.1,296.1 L339.6,298.5 L343.1,301.0 L346.6,303.5 L350.2,306.1 L353.7,308.7 L357.2,311.4 L360.7,314.2 L364.3,317.0 L367.8,319.9 L371.3,322.9 L374.8,326.0 L378.3,329.1 L381.9,332.3 L385.4,335.5 L388.9,338.8 L392.4,342.2 L395.9,345.7 L399.5,349.2 L403.0,352.8 L406.5,356.5 L410.0,360.2 L413.6,364.1 L417.1,368.0 L420.6,371.9 L424.1,376.0 L427.6,380.1 L431.2,384.3 L434.7,388.6 L438.2,392.9 L441.7,397.3 L445.2,401.8 L448.8,406.4 L452.3,411.1 L455.8,415.8 L459.3,420.6 L462.9,425.5 L466.4,430.5 L469.9,435.6 L473.4,440.7 L476.9,446.0 L480.5,451.3 L484.0,456.7 L487.5,462.1 L491.0,467.7 L494.5,473.4 L498.1,479.1 L501.6,484.9 L505.1,490.8 L508.6,496.8 L512.1,502.9 L515.7,509.1 L519.2,515.4 L522.7,521.7 L526.2,528.2 L529.8,534.7 L533.3,541.4 L536.8,548.1 L540.3,554.9 L543.8,561.8 L547.4,568.8 L550.9,575.9 L554.4,583.1 L557.9,590.4 L561.4,597.8 L565.0,605.3 L568.5,612.8 L572.0,620.5 L575.5,622.7 L777.6,622.7" stroke="#6685D9"/>
<path d="M17.1,186.3 L19.9,199.7 L22.7,212.6 L25.5,224.9 L28.3,236.5 L31.1,247.1 L34.0,257.0 L36.8,266.1 L39.6,274.6 L42.4,282.4 L45.2,289.6 L48.0,296.3 L50.9,302.4 L53.7,307.9 L56.5,312.8 L59.3,317.1 L62.1,320.7 L64.9,323.6 L67.8,325.9 L70.6,327.5 L73.4,328.5 L76.2,328.8 L79.0,328.4 L81.9,327.5 L84.7,325.9 L87.5,323.8 L90.3,321.2 L93.1,318.2 L95.9,314.9 L98.8,311.1 L101.6,307.2 L104.4,303.0 L107.2,298.7 L110.0,294.2 L112.8,289.8 L115.7,285.5 L118.5,281.3 L121.3,277.3 L124.1,273.4 L126.9,269.8 L129.7,266.4 L132.6,263.3 L135.4,260.5 L138.2,257.9 L141.0,255.6 L143.8,253.6 L146.6,251.9 L149.5,250.4 L152.3,249.2 L155.1,248.3 L157.9,247.6 L160.7,247.1 L163.5,246.9 L167.1,246.8 L170.6,246.7 L174.1,246.7 L177.6,246.7 L181.2,246.8 L184.7,247.0 L188.2,247.1 L191.7,247.3 L195.2,247.6 L198.8,247.9 L202.3,248.3 L205.8,248.7 L209.3,249.2 L212.8,249.7 L216.4,250.2 L219.9,250.9 L223.4,251.5 L226.9,252.2 L230.4,253.0 L234.0,253.8 L237.5,254.7 L241.0,255.6 L244.5,256.6 L248.1,257.6 L251.6,258.7 L255.1,259.8 L258.6,261.0 L262.1,262.2 L265.7,263.5 L269.2,264.9 L272.7,266.3 L276.2,267.7 L279.7,269.2 L283.3,270.8 L286.8,272.4 L290.3,274.1 L293.8,275.9 L297.4,277.7 L300.9,279.5 L304.4,281.4 L307.9,283.4 L311.4,285.4 L315.0,287.5 L318.5,289.7 L322.0,291.9 L325.5,294.1 L329.0,296.5 L332.6,298.9 L336.1,301.3 L339.6,303.8 L343.1,306.4 L346.6,309.0 L350.2,311.7 L353.7,314.5 L357.2,317.3 L360.7,320.2 L364.3,323.1 L367.8,326.2 L371.3,329.2 L374.8,332.4 L378.3,335.6 L381.9,338.9 L385.4,342.2 L388.9,345.6 L392.4,349.1 L395.9,352.6 L399.5,356.2 L403.0,359.9 L406.5,363.7 L410.0,367.5 L413.6,371.4 L417.1,375.3 L420.6,379.3 L424.1,383.4 L427.6,387.6 L431.2,391.8 L434.7,396.1 L438.2,400.5 L441.7,404.9 L445.2,409.4 L448.8,414.0 L452.3,418.7 L455.8,423.4 L459.3,428.2 L462.9,433.1 L466.4,438.0 L469.9,443.1 L473.4,448.2 L476.9,453.3 L480.5,458.6 L484.0,463.9 L487.5,469.3 L491.0,474.8 L494.5,480.3 L498.1,486.0 L501.6,491.7 L505.1,497.5 L508.6,503.3 L512.1,509.3 L515.7,515.3 L519.2,521.4 L522.7,527.6 L526.2,533.8 L529.8,540.2 L533.3,546.6 L536.8,553.1 L540.3,559.6 L543.8,566.3 L547.4,573.0 L550.9,579.9 L554.4,586.8 L557.9,593.8 L561.4,600.8 L565.0,608.0 L568.5,615.2 L572.0,622.5 L575.5,622.7 L777.6,622.7" stroke="#F89F13"/>
<path d="M17.1,184.4 L19.9,198.0 L22.7,211.1 L25.5,223.6 L28.3,235.4 L31.1,246.2 L34.0,256.2 L36.8,265.4 L39.6,274.0 L42.4,281.9 L45.2,289.2 L48.0,295.9 L50.9,302.1 L53.7,307.7 L56.5,312.6 L59.3,316.9 L62.1,320.6 L64.9,323.6 L67.8,325.9 L70.6,327.5 L73.4,328.5 L76.2,328.8 L79.0,328.4 L81.9,327.5 L84.7,325.9 L87.5,323.8 L90.3,321.2 L93.1,318.2 L95.9,314.8 L98.8,311.1 L101.6,307.1 L104.4,302.9 L107.2,298.6 L110.0,294.1 L112.8,289.7 L115.7,285.4 L118.5,281.1 L121.3,277.1 L124.1,273.3 L126.9,269.7 L129.7,266.3 L132.6,263.2 L135.4,260.4 L138.2,257.8 L141.0,255.5 L143.8,253.5 L146.6,251.8 L149.5,250.3 L152.3,249.1 L155.1,248.2 L157.9,247.5 L160.7,247.1 L163.5,246.9 L167.1,246.8 L170.6,246.8 L174.1,246.9 L177.6,247.0 L181.2,247.1 L184.7,247.3 L188.2,247.5 L191.7,247.8 L195.2,248.2 L198.8,248.6 L202.3,249.0 L205.8,249.5 L209.3,250.1 L212.8,250.7 L216.4,251.3 L219.9,252.0 L223.4,252.8 L226.9,253.6 L230.4,254.4 L234.0,255.3 L237.5,256.3 L241.0,257.3 L244.5,258.4 L248.1,259.5 L251.6,260.7 L255.1,262.0 L258.6,263.2 L262.1,264.6 L265.7,266.0 L269.2,267.5 L272.7,269.0 L276.2,270.5 L279.7,272.2 L283.3,273.8 L286.8,275.6 L290.3,277.4 L293.8,279.2 L297.4,281.1 L300.9,283.1 L304.4,285.1 L307.9,287.2 L311.4,289.4 L315.0,291.5 L318.5,293.8 L322.0,296.1 L325.5,298.5 L329.0,300.9 L332.6,303.4 L336.1,306.0 L339.6,308.6 L343.1,311.3 L346.6,314.0 L350.2,316.8 L353.7,319.6 L357.2,322.6 L360.7,325.5 L364.3,328.6 L367.8,331.7 L371.3,334.8 L374.8,338.0 L378.3,341.3 L381.9,344.7 L385.4,348.1 L388.9,351.5 L392.4,355.1 L395.9,358.7 L399.5,362.3 L403.0,366.1 L406.5,369.8 L410.0,373.7 L413.6,377.6 L417.1,381.6 L420.6,385.6 L424.1,389.7 L427.6,393.9 L431.2,398.2 L434.7,402.5 L438.2,406.8 L441.7,411.3 L445.2,415.8 L448.8,420.3 L452.3,425.0 L455.8,429.6 L459.3,434.4 L462.9,439.2 L466.4,444.1 L469.9,449.1 L473.4,454.1 L476.9,459.2 L480.5,464.4 L484.0,469.6 L487.5,474.9 L491.0,480.3 L494.5,485.8 L498.1,491.3 L501.6,496.8 L505.1,502.5 L508.6,508.2 L512.1,514.0 L515.7,519.8 L519.2,525.7 L522.7,531.7 L526.2,537.8 L529.8,543.9 L533.3,550.1 L536.8,556.4 L540.3,562.7 L543.8,569.1 L547.4,575.6 L550.9,582.2 L554.4,588.8 L557.9,595.5 L561.4,602.3 L565.0,609.1 L568.5,616.0 L572.0,622.7 L777.6,622.7" stroke="#BC5B80"/>
<path d="M17.1,182.4 L19.9,196.3 L22.7,209.6 L25.5,222.4 L28.3,234.3 L31.1,245.2 L34.0,255.4 L36.8,264.7 L39.6,273.4 L42.4,281.4 L45.2,288.8 L48.0,295.6 L50.9,301.8 L53.7,307.4 L56.5,312.4 L59.3,316.8 L62.1,320.5 L64.9,323.5 L67.8,325.9 L70.6,327.5 L73.4,328.5 L76.2,328.8 L79.0,328.4 L81.9,327.5 L84.7,325.9 L87.5,323.8 L90.3,321.2 L93.1,318.2 L95.9,314.8 L98.8,311.0 L101.6,307.0 L104.4,302.8 L107.2,298.5 L110.0,294.0 L112.8,289.6 L115.7,285.2 L118.5,281.0 L121.3,277.0 L124.1,273.1 L126.9,269.5 L129.7,266.2 L132.6,263.1 L135.4,260.2 L138.2,257.7 L141.0,255.4 L143.8,253.4 L146.6,251.7 L149.5,250.2 L152.3,249.1 L155.1,248.1 L157.9,247.5 L160.7,247.1 L163.5,246.9 L167.1,246.9 L170.6,246.9 L174.1,247.0 L177.6,247.2 L181.2,247.4 L184.7,247.6 L188.2,247.9 L191.7,248.3 L195.2,248.7 L198.8,249.2 L202.3,249.7 L205.8,250.3 L209.3,250.9 L212.8,251.6 L216.4,252.3 L219.9,253.1 L223.4,253.9 L226.9,254.8 L230.4,255.8 L234.0,256.8 L237.5,257.9 L241.0,259.0 L244.5,260.1 L248.1,261.4 L251.6,262.6 L255.1,264.0 L258.6,265.4 L262.1,266.8 L265.7,268.3 L269.2,269.9 L272.7,271.5 L276.2,273.1 L279.7,274.9 L283.3,276.6 L286.8,278.5 L290.3,280.4 L293.8,282.3 L297.4,284.3 L300.9,286.4 L304.4,288.5 L307.9,290.7 L311.4,292.9 L315.0,295.2 L318.5,297.6 L322.0,300.0 L325.5,302.4 L329.0,305.0 L332.6,307.5 L336.1,310.2 L339.6,312.9 L343.1,315.6 L346.6,318.4 L350.2,321.3 L353.7,324.2 L357.2,327.2 L360.7,330.3 L364.3,333.4 L367.8,336.5 L371.3,339.7 L374.8,343.0 L378.3,346.3 L381.9,349.7 L385.4,353.2 L388.9,356.7 L392.4,360.3 L395.9,363.9 L399.5,367.6 L403.0,371.3 L406.5,375.2 L410.0,379.0 L413.6,383.0 L417.1,386.9 L420.6,391.0 L424.1,395.1 L427.6,399.3 L431.2,403.5 L434.7,407.8 L438.2,412.1 L441.7,416.5 L445.2,421.0 L448.8,425.5 L452.3,430.1 L455.8,434.8 L459.3,439.5 L462.9,444.2 L466.4,449.1 L469.9,454.0 L473.4,458.9 L476.9,463.9 L480.5,469.0 L484.0,474.1 L487.5,479.3 L491.0,484.6 L494.5,489.9 L498.1,495.2 L501.6,500.7 L505.1,506.2 L508.6,511.7 L512.1,517.4 L515.7,523.0 L519.2,528.8 L522.7,534.6 L526.2,540.4 L529.8,546.4 L533.3,552.3 L536.8,558.4 L540.3,564.5 L543.8,570.7 L547.4,576.9 L550.9,583.2 L554.4,589.5 L557.9,595.9 L561.4,602.4 L565.0,608.9 L568.5,615.5 L572.0,622.2 L575.5,622.7 L777.6,622.7" stroke="#47B66D"/>
<path d="M17.1,180.5 L19.9,194.6 L22.7,208.1 L25.5,221.1 L28.3,233.2 L31.1,244.3 L34.0,254.6 L36.8,264.0 L39.6,272.8 L42.4,280.8 L45.2,288.3 L48.0,295.2 L50.9,301.5 L53.7,307.2 L56.5,312.3 L59.3,316.7 L62.1,320.4 L64.9,323.5 L67.8,325.8 L70.6,327.5 L73.4,328.5 L76.2,328.8 L79.0,328.4 L81.9,327.5 L84.7,325.9 L87.5,323.8 L90.3,321.2 L93.1,318.2 L95.9,314.7 L98.8,311.0 L101.6,307.0 L104.4,302.8 L107.2,298.4 L110.0,294.0 L112.8,289.5 L115.7,285.2 L118.5,281.0 L121.3,276.9 L124.1,273.1 L126.9,269.5 L129.7,266.2 L132.6,263.1 L135.4,260.2 L138.2,257.7 L141.0,255.4 L143.8,253.4 L146.6,251.7 L149.5,250.2 L152.3,249.0 L155.1,248.1 L157.9,247.5 L160.7,247.1 L163.5,246.9 L167.1,246.9 L170.6,247.0 L174.1,247.1 L177.6,247.3 L181.2,247.5 L184.7,247.9 L188.2,248.2 L191.7,248.7 L195.2,249.2 L198.8,249.8 L202.3,250.4 L205.8,251.0 L209.3,251.8 L212.8,252.6 L216.4,253.4 L219.9,254.3 L223.4,255.2 L226.9,256.2 L230.4,257.3 L234.0,258.4 L237.5,259.5 L241.0,260.7 L244.5,262.0 L248.1,263.3 L251.6,264.6 L255.1,266.0 L258.6,267.5 L262.1,269.0 L265.7,270.6 L269.2,272.3 L272.7,274.0 L276.2,275.8 L279.7,277.6 L283.3,279.5 L286.8,281.4 L290.3,283.4 L293.8,285.4 L297.4,287.5 L300.9,289.6 L304.4,291.8 L307.9,294.0 L311.4,296.3 L315.0,298.7 L318.5,301.1 L322.0,303.5 L325.5,306.0 L329.0,308.5 L332.6,311.1 L336.1,313.7 L339.6,316.4 L343.1,319.2 L346.6,322.0 L350.2,324.9 L353.7,327.9 L357.2,330.9 L360.7,334.0 L364.3,337.2 L367.8,340.4 L371.3,343.7 L374.8,347.1 L378.3,350.5 L381.9,354.0 L385.4,357.5 L388.9,361.2 L392.4,364.8 L395.9,368.6 L399.5,372.4 L403.0,376.3 L406.5,380.3 L410.0,384.3 L413.6,388.4 L417.1,392.6 L420.6,396.9 L424.1,401.3 L427.6,405.7 L431.2,410.3 L434.7,414.9 L438.2,419.7 L441.7,424.5 L445.2,429.4 L448.8,434.3 L452.3,439.1 L455.8,443.6 L459.3,447.7 L462.9,451.8 L466.4,456.0 L469.9,460.2 L473.4,464.5 L476.9,468.9 L480.5,473.5 L484.0,478.1 L487.5,482.8 L491.0,487.6 L494.5,492.5 L498.1,497.5 L501.6,502.6 L505.1,507.8 L508.6,513.1 L512.1,518.5 L515.7,524.1 L519.2,529.8 L522.7,535.5 L526.2,541.5 L529.8,547.6 L533.3,553.8 L536.8,560.1 L540.3,566.6 L543.8,573.1 L547.4,579.6 L550.9,585.9 L554.4,591.8 L557.9,597.3 L561.4,602.5 L565.0,607.4 L568.5,611.9 L572.0,616.1 L575.5,620.0 L579.1,622.7 L777.6,622.7" stroke="#5E81B5"/>
<path d="M17.1,178.6 L19.9,192.9 L22.7,206.6 L25.5,219.8 L28.3,232.1 L31.1,243.4 L34.0,253.8 L36.8,263.3 L39.6,272.2 L42.4,280.3 L45.2,287.9 L48.0,294.8 L50.9,301.2 L53.7,307.0 L56.5,312.1 L59.3,316.6 L62.1,320.3 L64.9,323.4 L67.8,325.8 L70.6,327.5 L73.4,328.5 L76.2,328.8 L79.0,328.4 L81.9,327.5 L84.7,325.9 L87.5,323.8 L90.3,321.2 L93.1,318.1 L95.9,314.7 L98.8,311.0 L101.6,307.0 L104.4,302.7 L107.2,298.4 L110.0,293.9 L112.8,289.5 L115.7,285.1 L118.5,280.9 L121.3,276.9 L124.1,273.1 L126.9,269.5 L129.7,266.1 L132.6,263.0 L135.4,260.2 L138.2,257.7 L141.0,255.4 L143.8,253.4 L146.6,251.7 L149.5,250.2 L152.3,249.0 L155.1,248.1 L157.9,247.5 L160.7,247.0 L163.5,246.9 L167.1,246.9 L170.6,247.0 L174.1,247.2 L177.6,247.4 L181.2,247.7 L184.7,248.1 L188.2,248.5 L191.7,249.1 L195.2,249.6 L198.8,250.3 L202.3,251.0 L205.8,251.8 L209.3,252.6 L212.8,253.5 L216.4,254.4 L219.9,255.4 L223.4,256.5 L226.9,257.6 L230.4,258.7 L234.0,259.9 L237.5,261.1 L241.0,262.4 L244.5,263.7 L248.1,265.1 L251.6,266.5 L255.1,268.0 L258.6,269.5 L262.1,271.1 L265.7,272.8 L269.2,274.6 L272.7,276.4 L276.2,278.3 L279.7,280.2 L283.3,282.1 L286.8,284.1 L290.3,286.2 L293.8,288.3 L297.4,290.4 L300.9,292.6 L304.4,294.8 L307.9,297.1 L311.4,299.5 L315.0,301.8 L318.5,304.3 L322.0,306.7 L325.5,309.2 L329.0,311.8 L332.6,314.4 L336.1,317.0 L339.6,319.6 L343.1,322.4 L346.6,325.2 L350.2,328.1 L353.7,331.1 L357.2,334.1 L360.7,337.2 L364.3,340.5 L367.8,343.7 L371.3,347.1 L374.8,350.5 L378.3,354.0 L381.9,357.6 L385.4,361.2 L388.9,364.9 L392.4,368.7 L395.9,372.5 L399.5,376.4 L403.0,380.4 L406.5,384.5 L410.0,388.6 L413.6,392.8 L417.1,397.1 L420.6,401.4 L424.1,405.8 L427.6,410.2 L431.2,414.7 L434.7,419.2 L438.2,423.7 L441.7,428.2 L445.2,432.7 L448.8,437.1 L452.3,441.4 L455.8,445.6 L459.3,449.7 L462.9,453.7 L466.4,457.8 L469.9,461.9 L473.4,466.2 L476.9,470.6 L480.5,475.1 L484.0,479.6 L487.5,484.3 L491.0,489.0 L494.5,493.8 L498.1,498.7 L501.6,503.7 L505.1,508.8 L508.6,514.0 L512.1,519.3 L515.7,524.7 L519.2,530.2 L522.7,535.8 L526.2,541.6 L529.8,547.5 L533.3,553.5 L536.8,559.6 L540.3,565.9 L543.8,572.3 L547.4,578.5 L550.9,584.6 L554.4,590.4 L557.9,595.9 L561.4,601.0 L565.0,605.7 L568.5,610.2 L572.0,614.4 L575.5,618.3 L579.1,621.9 L582.6,622.7 L777.6,622.7" stroke="#E19C24"/>
<path d="M17.1,176.6 L19.9,191.1 L22.7,205.1 L25.5,218.5 L28.3,231.0 L31.1,242.4 L34.0,253.0 L36.8,262.6 L39.6,271.6 L42.4,279.8 L45.2,287.4 L48.0,294.5 L50.9,300.9 L53.7,306.7 L56.5,311.9 L59.3,316.4 L62.1,320.3 L64.9,323.4 L67.8,325.8 L70.6,327.5 L73.4,328.5 L76.2,328.8 L79.0,328.5 L81.9,327.5 L84.7,325.9 L87.5,323.8 L90.3,321.2 L93.1,318.1 L95.9,314.7 L98.8,310.9 L101.6,306.9 L104.4,302.7 L107.2,298.3 L110.0,293.9 L112.8,289.5 L115.7,285.1 L118.5,280.9 L121.3,276.9 L124.1,273.0 L126.9,269.5 L129.7,266.1 L132.6,263.0 L135.4,260.2 L138.2,257.7 L141.0,255.4 L143.8,253.4 L146.6,251.7 L149.5,250.2 L152.3,249.0 L155.1,248.1 L157.9,247.5 L160.7,247.0 L163.5,246.9 L167.1,246.9 L170.6,247.0 L174.1,247.2 L177.6,247.5 L181.2,247.8 L184.7,248.3 L188.2,248.8 L191.7,249.4 L195.2,250.1 L198.8,250.8 L202.3,251.6 L205.8,252.5 L209.3,253.4 L212.8,254.4 L216.4,255.4 L219.9,256.5 L223.4,257.6 L226.9,258.8 L230.4,260.0 L234.0,261.3 L237.5,262.6 L241.0,264.0 L244.5,265.4 L248.1,266.8 L251.6,268.3 L255.1,269.8 L258.6,271.4 L262.1,273.1 L265.7,274.9 L269.2,276.7 L272.7,278.6 L276.2,280.6 L279.7,282.5 L283.3,284.6 L286.8,286.6 L290.3,288.7 L293.8,290.9 L297.4,293.1 L300.9,295.4 L304.4,297.6 L307.9,300.0 L311.4,302.3 L315.0,304.8 L318.5,307.2 L322.0,309.7 L325.5,312.2 L329.0,314.8 L332.6,317.4 L336.1,320.0 L339.6,322.6 L343.1,325.3 L346.6,328.1 L350.2,331.0 L353.7,334.0 L357.2,337.0 L360.7,340.2 L364.3,343.4 L367.8,346.7 L371.3,350.0 L374.8,353.5 L378.3,357.0 L381.9,360.6 L385.4,364.3 L388.9,368.0 L392.4,371.8 L395.9,375.6 L399.5,379.6 L403.0,383.6 L406.5,387.6 L410.0,391.7 L413.6,395.9 L417.1,400.1 L420.6,404.3 L424.1,408.6 L427.6,412.9 L431.2,417.2 L434.7,421.5 L438.2,425.8 L441.7,430.1 L445.2,434.3 L448.8,438.5 L452.3,442.7 L455.8,446.8 L459.3,450.8 L462.9,454.9 L466.4,458.9 L469.9,463.1 L473.4,467.3 L476.9,471.7 L480.5,476.1 L484.0,480.6 L487.5,485.2 L491.0,489.8 L494.5,494.6 L498.1,499.4 L501.6,504.3 L505.1,509.2 L508.6,514.3 L512.1,519.5 L515.7,524.7 L519.2,530.1 L522.7,535.5 L526.2,541.1 L529.8,546.7 L533.3,552.5 L536.8,558.4 L540.3,564.4 L543.8,570.6 L547.4,576.6 L550.9,582.5 L554.4,588.2 L557.9,593.5 L561.4,598.5 L565.0,603.2 L568.5,607.6 L572.0,611.8 L575.5,615.6 L579.1,619.3 L582.6,622.6 L586.1,622.7 L777.6,622.7" stroke="#8FB032"/>
<path d="M17.1,174.7 L19.9,189.4 L22.7,203.7 L25.5,217.2 L28.3,229.9 L31.1,241.5 L34.0,252.2 L36.8,261.9 L39.6,271.0 L42.4,279.3 L45.2,287.0 L48.0,294.1 L50.9,300.6 L53.7,306.5 L56.5,311.7 L59.3,316.3 L62.1,320.2 L64.9,323.3 L67.8,325.8 L70.6,327.5 L73.4,328.5 L76.2,328.8 L79.0,328.5 L81.9,327.5 L84.7,325.9 L87.5,323.8 L90.3,321.1 L93.1,318.1 L95.9,314.7 L98.8,310.9 L101.6,306.9 L104.4,302.7 L107.2,298.3 L110.0,293.9 L112.8,289.4 L115.7,285.1 L118.5,280.9 L121.3,276.8 L124.1,273.0 L126.9,269.4 L129.7,266.1 L132.6,263.0 L135.4,260.2 L138.2,257.6 L141.0,255.4 L143.8,253.4 L146.6,251.7 L149.5,250.2 L152.3,249.0 L155.1,248.1 L157.9,247.5 L160.7,247.0 L163.5,246.9 L167.1,246.9 L170.6,247.0 L174.1,247.3 L177.6,247.6 L181.2,248.0 L184.7,248.5 L188.2,249.1 L191.7,249.7 L195.2,250.5 L198.8,251.3 L202.3,252.2 L205.8,253.1 L209.3,254.1 L212.8,255.2 L216.4,256.3 L219.9,257.5 L223.4,258.7 L226.9,260.0 L230.4,261.3 L234.0,262.6 L237.5,264.0 L241.0,265.5 L244.5,266.9 L248.1,268.4 L251.6,270.0 L255.1,271.6 L258.6,273.2 L262.1,275.0 L265.7,276.8 L269.2,278.7 L272.7,280.7 L276.2,282.7 L279.7,284.8 L283.3,286.9 L286.8,289.0 L290.3,291.2 L293.8,293.4 L297.4,295.6 L300.9,297.9 L304.4,300.2 L307.9,302.6 L311.4,305.0 L315.0,307.5 L318.5,309.9 L322.0,312.5 L325.5,315.0 L329.0,317.6 L332.6,320.1 L336.1,322.7 L339.6,325.3 L343.1,328.0 L346.6,330.8 L350.2,333.7 L353.7,336.6 L357.2,339.7 L360.7,342.8 L364.3,346.0 L367.8,349.3 L371.3,352.7 L374.8,356.1 L378.3,359.6 L381.9,363.2 L385.4,366.8 L388.9,370.5 L392.4,374.3 L395.9,378.1 L399.5,382.0 L403.0,386.0 L406.5,390.0 L410.0,394.0 L413.6,398.1 L417.1,402.2 L420.6,406.4 L424.1,410.6 L427.6,414.7 L431.2,418.9 L434.7,423.1 L438.2,427.3 L441.7,431.5 L445.2,435.6 L448.8,439.7 L452.3,443.8 L455.8,447.8 L459.3,451.8 L462.9,455.8 L466.4,459.9 L469.9,464.0 L473.4,468.2 L476.9,472.4 L480.5,476.8 L484.0,481.2 L487.5,485.7 L491.0,490.2 L494.5,494.9 L498.1,499.6 L501.6,504.3 L505.1,509.2 L508.6,514.1 L512.1,519.1 L515.7,524.2 L519.2,529.4 L522.7,534.6 L526.2,540.0 L529.8,545.4 L533.3,551.0 L536.8,556.6 L540.3,562.5 L543.8,568.3 L547.4,574.2 L550.9,580.0 L554.4,585.5 L557.9,590.7 L561.4,595.7 L565.0,600.4 L568.5,604.8 L572.0,608.9 L575.5,612.8 L579.1,616.4 L582.6,619.8 L586.1,622.7 L777.6,622.7" stroke="#EB6235"/>
<path d="M17.1,172.7 L19.9,187.7 L22.7,202.2 L25.5,215.9 L28.3,228.8 L31.1,240.5 L34.0,251.3 L36.8,261.2 L39.6,270.3 L42.4,278.8 L45.2,286.5 L48.0,293.7 L50.9,300.3 L53.7,306.3 L56.5,311.6 L59.3,316.2 L62.1,320.1 L64.9,323.3 L67.8,325.7 L70.6,327.5 L73.4,328.5 L76.2,328.8 L79.0,328.5 L81.9,327.5 L84.7,325.9 L87.5,323.7 L90.3,321.1 L93.1,318.1 L95.9,314.6 L98.8,310.9 L101.6,306.8 L104.4,302.6 L107.2,298.2 L110.0,293.8 L112.8,289.4 L115.7,285.0 L118.5,280.8 L121.3,276.8 L124.1,273.0 L126.9,269.4 L129.7,266.1 L132.6,263.0 L135.4,260.2 L138.2,257.6 L141.0,255.4 L143.8,253.4 L146.6,251.7 L149.5,250.2 L152.3,249.0 L155.1,248.1 L157.9,247.4 L160.7,247.0 L163.5,246.9 L167.1,246.9 L170.6,247.1 L174.1,247.3 L177.6,247.7 L181.2,248.1 L184.7,248.7 L188.2,249.3 L191.7,250.0 L195.2,250.8 L198.8,251.7 L202.3,252.7 L205.8,253.7 L209.3,254.8 L212.8,256.0 L216.4,257.2 L219.9,258.4 L223.4,259.7 L226.9,261.1 L230.4,262.5 L234.0,263.9 L237.5,265.4 L241.0,266.9 L244.5,268.4 L248.1,270.0 L251.6,271.6 L255.1,273.2 L258.6,274.9 L262.1,276.8 L265.7,278.7 L269.2,280.7 L272.7,282.7 L276.2,284.8 L279.7,286.9 L283.3,289.0 L286.8,291.2 L290.3,293.4 L293.8,295.7 L297.4,298.0 L300.9,300.3 L304.4,302.7 L307.9,305.1 L311.4,307.5 L315.0,310.0 L318.5,312.5 L322.0,315.0 L325.5,317.5 L329.0,320.1 L332.6,322.7 L336.1,325.3 L339.6,327.9 L343.1,330.5 L346.6,333.3 L350.2,336.2 L353.7,339.1 L357.2,342.1 L360.7,345.2 L364.3,348.4 L367.8,351.7 L371.3,355.0 L374.8,358.4 L378.3,361.9 L381.9,365.4 L385.4,369.0 L388.9,372.7 L392.4,376.4 L395.9,380.2 L399.5,384.1 L403.0,388.0 L406.5,391.9 L410.0,395.9 L413.6,399.9 L417.1,403.9 L420.6,408.0 L424.1,412.1 L427.6,416.2 L431.2,420.3 L434.7,424.4 L438.2,428.5 L441.7,432.5 L445.2,436.6 L448.8,440.7 L452.3,444.7 L455.8,448.6 L459.3,452.6 L462.9,456.5 L466.4,460.5 L469.9,464.5 L473.4,468.6 L476.9,472.8 L480.5,477.1 L484.0,481.4 L487.5,485.8 L491.0,490.2 L494.5,494.7 L498.1,499.3 L501.6,503.9 L505.1,508.7 L508.6,513.4 L512.1,518.3 L515.7,523.2 L519.2,528.2 L522.7,533.3 L526.2,538.4 L529.8,543.7 L533.3,549.0 L536.8,554.4 L540.3,560.0 L543.8,565.7 L547.4,571.3 L550.9,576.9 L554.4,582.3 L557.9,587.4 L561.4,592.4 L565.0,597.0 L568.5,601.5 L572.0,605.6 L575.5,609.5 L579.1,613.2 L582.6,616.6 L586.1,619.9 L589.6,622.7 L777.6,622.7" stroke="#8778B3"/>
<path d="M17.1,170.8 L19.9,186.0 L22.7,200.7 L25.5,214.6 L28.3,227.7 L31.1,239.6 L34.0,250.5 L36.8,260.5 L39.6,269.7 L42.4,278.2 L45.2,286.1 L48.0,293.4 L50.9,300.0 L53.7,306.0 L56.5,311.4 L59.3,316.1 L62.1,320.0 L64.9,323.2 L67.8,325.7 L70.6,327.4 L73.4,328.5 L76.2,328.8 L79.0,328.5 L81.9,327.5 L84.7,325.9 L87.5,323.7 L90.3,321.1 L93.1,318.0 L95.9,314.6 L98.8,310.8 L101.6,306.8 L104.4,302.6 L107.2,298.2 L110.0,293.8 L112.8,289.3 L115.7,285.0 L118.5,280.8 L121.3,276.8 L124.1,273.0 L126.9,269.4 L129.7,266.0 L132.6,263.0 L135.4,260.2 L138.2,257.6 L141.0,255.4 L143.8,253.4 L146.6,251.7 L149.5,250.2 L152.3,249.0 L155.1,248.1 L157.9,247.4 L160.7,247.0 L163.5,246.9 L167.1,246.9 L170.6,247.1 L174.1,247.4 L177.6,247.7 L181.2,248.2 L184.7,248.8 L188.2,249.5 L191.7,250.3 L195.2,251.2 L198.8,252.2 L202.3,253.2 L205.8,254.3 L209.3,255.5 L212.8,256.7 L216.4,258.0 L219.9,259.3 L223.4,260.7 L226.9,262.1 L230.4,263.6 L234.0,265.1 L237.5,266.6 L241.0,268.2 L244.5,269.8 L248.1,271.4 L251.6,273.1 L255.1,274.8 L258.6,276.6 L262.1,278.5 L265.7,280.4 L269.2,282.5 L272.7,284.5 L276.2,286.7 L279.7,288.8 L283.3,291.0 L286.8,293.3 L290.3,295.6 L293.8,297.9 L297.4,300.2 L300.9,302.6 L304.4,305.0 L307.9,307.4 L311.4,309.8 L315.0,312.3 L318.5,314.8 L322.0,317.4 L325.5,319.9 L329.0,322.5 L332.6,325.0 L336.1,327.6 L339.6,330.2 L343.1,332.9 L346.6,335.7 L350.2,338.5 L353.7,341.4 L357.2,344.4 L360.7,347.4 L364.3,350.6 L367.8,353.8 L371.3,357.1 L374.8,360.5 L378.3,363.9 L381.9,367.4 L385.4,371.0 L388.9,374.6 L392.4,378.3 L395.9,382.0 L399.5,385.8 L403.0,389.6 L406.5,393.5 L410.0,397.4 L413.6,401.3 L417.1,405.3 L420.6,409.3 L424.1,413.3 L427.6,417.3 L431.2,421.3 L434.7,425.4 L438.2,429.4 L441.7,433.4 L445.2,437.3 L448.8,441.3 L452.3,445.2 L455.8,449.1 L459.3,453.0 L462.9,456.9 L466.4,460.8 L469.9,464.8 L473.4,468.8 L476.9,472.9 L480.5,477.1 L484.0,481.3 L487.5,485.6 L491.0,489.9 L494.5,494.3 L498.1,498.7 L501.6,503.2 L505.1,507.8 L508.6,512.4 L512.1,517.1 L515.7,521.9 L519.2,526.7 L522.7,531.6 L526.2,536.5 L529.8,541.6 L533.3,546.7 L536.8,551.9 L540.3,557.2 L543.8,562.6 L547.4,568.0 L550.9,573.3 L554.4,578.5 L557.9,583.6 L561.4,588.5 L565.0,593.2 L568.5,597.7 L572.0,601.9 L575.5,605.9 L579.1,609.6 L582.6,613.1 L586.1,616.4 L589.6,619.5 L593.1,622.5 L596.7,622.7 L777.6,622.7" stroke="#C56E1A"/>
<path d="M17.1,168.9 L19.9,184.2 L22.7,199.2 L25.5,213.3 L28.3,226.6 L31.1,238.7 L34.0,249.7 L36.8,259.8 L39.6,269.1 L42.4,277.7 L45.2,285.7 L48.0,293.0 L50.9,299.7 L53.7,305.8 L56.5,311.2 L59.3,315.9 L62.1,319.9 L64.9,323.2 L67.8,325.7 L70.6,327.4 L73.4,328.5 L76.2,328.8 L79.0,328.5 L81.9,327.5 L84.7,325.9 L87.5,323.7 L90.3,321.1 L93.1,318.0 L95.9,314.6 L98.8,310.8 L101.6,306.8 L104.4,302.5 L107.2,298.2 L110.0,293.7 L112.8,289.3 L115.7,284.9 L118.5,280.7 L121.3,276.7 L124.1,272.9 L126.9,269.4 L129.7,266.0 L132.6,263.0 L135.4,260.1 L138.2,257.6 L141.0,255.4 L143.8,253.4 L146.6,251.7 L149.5,250.2 L152.3,249.0 L155.1,248.1 L157.9,247.4 L160.7,247.0 L163.5,246.9 L167.1,246.9 L170.6,247.1 L174.1,247.4 L177.6,247.8 L181.2,248.4 L184.7,249.0 L188.2,249.8 L191.7,250.6 L195.2,251.5 L198.8,252.6 L202.3,253.7 L205.8,254.9 L209.3,256.1 L212.8,257.4 L216.4,258.8 L219.9,260.2 L223.4,261.7 L226.9,263.2 L230.4,264.7 L234.0,266.3 L237.5,267.9 L241.0,269.5 L244.5,271.1 L248.1,272.8 L251.6,274.5 L255.1,276.3 L258.6,278.1 L262.1,280.1 L265.7,282.1 L269.2,284.2 L272.7,286.3 L276.2,288.5 L279.7,290.7 L283.3,293.0 L286.8,295.3 L290.3,297.6 L293.8,299.9 L297.4,302.3 L300.9,304.7 L304.4,307.1 L307.9,309.5 L311.4,312.0 L315.0,314.5 L318.5,317.0 L322.0,319.6 L325.5,322.2 L329.0,324.7 L332.6,327.3 L336.1,329.8 L339.6,332.4 L343.1,335.0 L346.6,337.8 L350.2,340.6 L353.7,343.5 L357.2,346.4 L360.7,349.5 L364.3,352.6 L367.8,355.8 L371.3,359.0 L374.8,362.3 L378.3,365.7 L381.9,369.2 L385.4,372.7 L388.9,376.3 L392.4,379.9 L395.9,383.6 L399.5,387.3 L403.0,391.1 L406.5,394.9 L410.0,398.7 L413.6,402.6 L417.1,406.5 L420.6,410.4 L424.1,414.3 L427.6,418.3 L431.2,422.2 L434.7,426.2 L438.2,430.1 L441.7,434.0 L445.2,438.0 L448.8,441.8 L452.3,445.7 L455.8,449.5 L459.3,453.3 L462.9,457.1 L466.4,460.9 L469.9,464.8 L473.4,468.7 L476.9,472.7 L480.5,476.8 L484.0,480.9 L487.5,485.1 L491.0,489.3 L494.5,493.5 L498.1,497.8 L501.6,502.2 L505.1,506.6 L508.6,511.1 L512.1,515.6 L515.7,520.2 L519.2,524.8 L522.7,529.5 L526.2,534.3 L529.8,539.1 L533.3,544.0 L536.8,548.9 L540.3,554.0 L543.8,559.1 L547.4,564.3 L550.9,569.4 L554.4,574.6 L557.9,579.6 L561.4,584.5 L565.0,589.3 L568.5,593.7 L572.0,597.9 L575.5,601.9 L579.1,605.7 L582.6,609.3 L586.1,612.6 L589.6,615.8 L593.1,618.8 L596.7,621.6 L600.2,622.7 L777.6,622.7" stroke="#5D9EC7"/>
<path d="M17.1,166.9 L19.9,182.5 L22.7,197.7 L25.5,212.1 L28.3,225.5 L31.1,237.7 L34.0,248.9 L36.8,259.1 L39.6,268.5 L42.4,277.2 L45.2,285.2 L48.0,292.6 L50.9,299.4 L53.7,305.6 L56.5,311.0 L59.3,315.8 L62.1,319.8 L64.9,323.1 L67.8,325.7 L70.6,327.4 L73.4,328.5 L76.2,328.8 L79.0,328.5 L81.9,327.5 L84.7,325.9 L87.5,323.7 L90.3,321.1 L93.1,318.0 L95.9,314.6 L98.8,310.8 L101.6,306.7 L104.4,302.5 L107.2,298.1 L110.0,293.7 L112.8,289.2 L115.7,284.9 L118.5,280.7 L121.3,276.7 L124.1,272.9 L126.9,269.3 L129.7,266.0 L132.6,262.9 L135.4,260.1 L138.2,257.6 L141.0,255.3 L143.8,253.4 L146.6,251.6 L149.5,250.2 L152.3,249.0 L155.1,248.1 L157.9,247.4 L160.7,247.0 L163.5,246.9 L167.1,246.9 L170.6,247.1 L174.1,247.4 L177.6,247.9 L181.2,248.5 L184.7,249.2 L188.2,250.0 L191.7,250.9 L195.2,251.9 L198.8,253.0 L202.3,254.1 L205.8,255.4 L209.3,256.7 L212.8,258.1 L216.4,259.5 L219.9,261.0 L223.4,262.5 L226.9,264.1 L230.4,265.7 L234.0,267.3 L237.5,269.0 L241.0,270.7 L244.5,272.4 L248.1,274.1 L251.6,275.9 L255.1,277.7 L258.6,279.6 L262.1,281.6 L265.7,283.7 L269.2,285.8 L272.7,288.0 L276.2,290.2 L279.7,292.5 L283.3,294.8 L286.8,297.1 L290.3,299.5 L293.8,301.8 L297.4,304.2 L300.9,306.7 L304.4,309.1 L307.9,311.6 L311.4,314.1 L315.0,316.6 L318.5,319.1 L322.0,321.7 L325.5,324.2 L329.0,326.8 L332.6,329.3 L336.1,331.9 L339.6,334.5 L343.1,337.1 L346.6,339.8 L350.2,342.6 L353.7,345.4 L357.2,348.3 L360.7,351.3 L364.3,354.4 L367.8,357.6 L371.3,360.8 L374.8,364.0 L378.3,367.4 L381.9,370.8 L385.4,374.3 L388.9,377.8 L392.4,381.4 L395.9,385.0 L399.5,388.6 L403.0,392.3 L406.5,396.1 L410.0,399.9 L413.6,403.7 L417.1,407.5 L420.6,411.4 L424.1,415.2 L427.6,419.1 L431.2,423.0 L434.7,426.8 L438.2,430.7 L441.7,434.5 L445.2,438.4 L448.8,442.2 L452.3,445.9 L455.8,449.7 L459.3,453.4 L462.9,457.1 L466.4,460.9 L469.9,464.7 L473.4,468.5 L476.9,472.4 L480.5,476.3 L484.0,480.3 L487.5,484.3 L491.0,488.4 L494.5,492.5 L498.1,496.7 L501.6,500.9 L505.1,505.2 L508.6,509.5 L512.1,513.9 L515.7,518.3 L519.2,522.7 L522.7,527.2 L526.2,531.8 L529.8,536.4 L533.3,541.1 L536.8,545.8 L540.3,550.7 L543.8,555.5 L547.4,560.5 L550.9,565.4 L554.4,570.3 L557.9,575.3 L561.4,580.1 L565.0,584.7 L568.5,589.2 L572.0,593.5 L575.5,597.6 L579.1,601.4 L582.6,605.0 L586.1,608.5 L589.6,611.7 L593.1,614.8 L596.7,617.7 L600.2,620.5 L603.7,622.7 L777.6,622.7" stroke="#FFBF00"/>
<path d="M17.1,165.0 L19.9,180.8 L22.7,196.2 L25.5,210.8 L28.3,224.4 L31.1,236.8 L34.0,248.1 L36.8,258.5 L39.6,267.9 L42.4,276.7 L45.2,284.8 L48.0,292.3 L50.9,299.1 L53.7,305.3 L56.5,310.9 L59.3,315.7 L62.1,319.8 L64.9,323.1 L67.8,325.6 L70.6,327.4 L73.4,328.5 L76.2,328.8 L79.0,328.5 L81.9,327.5 L84.7,325.9 L87.5,323.7 L90.3,321.1 L93.1,318.0 L95.9,314.5 L98.8,310.7 L101.6,306.7 L104.4,302.5 L107.2,298.1 L110.0,293.6 L112.8,289.2 L115.7,284.9 L118.5,280.7 L121.3,276.7 L124.1,272.9 L126.9,269.3 L129.7,266.0 L132.6,262.9 L135.4,260.1 L138.2,257.6 L141.0,255.3 L143.8,253.4 L146.6,251.6 L149.5,250.2 L152.3,249.0 L155.1,248.1 L157.9,247.4 L160.7,247.0 L163.5,246.9 L167.1,246.9 L170.6,247.1 L174.1,247.5 L177.6,248.0 L181.2,248.6 L184.7,249.3 L188.2,250.2 L191.7,251.1 L195.2,252.2 L198.8,253.3 L202.3,254.6 L205.8,255.9 L209.3,257.3 L212.8,258.7 L216.4,260.3 L219.9,261.8 L223.4,263.4 L226.9,265.0 L230.4,266.7 L234.0,268.4 L237.5,270.1 L241.0,271.9 L244.5,273.6 L248.1,275.4 L251.6,277.2 L255.1,279.1 L258.6,281.0 L262.1,283.1 L265.7,285.2 L269.2,287.4 L272.7,289.6 L276.2,291.9 L279.7,294.2 L283.3,296.5 L286.8,298.9 L290.3,301.3 L293.8,303.7 L297.4,306.1 L300.9,308.5 L304.4,311.0 L307.9,313.5 L311.4,316.0 L315.0,318.5 L318.5,321.1 L322.0,323.6 L325.5,326.2 L329.0,328.8 L332.6,331.3 L336.1,333.8 L339.6,336.4 L343.1,339.0 L346.6,341.6 L350.2,344.4 L353.7,347.2 L357.2,350.1 L360.7,353.1 L364.3,356.1 L367.8,359.2 L371.3,362.4 L374.8,365.6 L378.3,368.9 L381.9,372.3 L385.4,375.7 L388.9,379.2 L392.4,382.7 L395.9,386.2 L399.5,389.9 L403.0,393.5 L406.5,397.2 L410.0,400.9 L413.6,404.6 L417.1,408.4 L420.6,412.2 L424.1,416.0 L427.6,419.8 L431.2,423.6 L434.7,427.4 L438.2,431.1 L441.7,434.9 L445.2,438.7 L448.8,442.4 L452.3,446.1 L455.8,449.7 L459.3,453.4 L462.9,457.0 L466.4,460.6 L469.9,464.3 L473.4,468.0 L476.9,471.8 L480.5,475.6 L484.0,479.5 L487.5,483.4 L491.0,487.4 L494.5,491.4 L498.1,495.4 L501.6,499.5 L505.1,503.6 L508.6,507.7 L512.1,511.9 L515.7,516.2 L519.2,520.5 L522.7,524.8 L526.2,529.1 L529.8,533.6 L533.3,538.0 L536.8,542.5 L540.3,547.1 L543.8,551.7 L547.4,556.4 L550.9,561.1 L554.4,565.9 L557.9,570.7 L561.4,575.4 L565.0,580.1 L568.5,584.6 L572.0,588.8 L575.5,592.9 L579.1,596.8 L582.6,600.5 L586.1,604.0 L589.6,607.3 L593.1,610.5 L596.7,613.5 L600.2,616.3 L603.7,619.0 L607.2,621.6 L610.7,622.7 L777.6,622.7" stroke="#A5609D"/>
<path d="M17.1,163.0 L19.9,179.1 L22.7,194.7 L25.5,209.5 L28.3,223.3 L31.1,235.8 L34.0,247.3 L36.8,257.8 L39.6,267.3 L42.4,276.2 L45.2,284.3 L48.0,291.9 L50.9,298.8 L53.7,305.1 L56.5,310.7 L59.3,315.5 L62.1,319.7 L64.9,323.0 L67.8,325.6 L70.6,327.4 L73.4,328.5 L76.2,328.8 L79.0,328.5 L81.9,327.5 L84.7,325.9 L87.5,323.7 L90.3,321.0 L93.1,318.0 L95.9,314.5 L98.8,310.7 L101.6,306.7 L104.4,302.4 L107.2,298.0 L110.0,293.6 L112.8,289.2 L115.7,284.8 L118.5,280.6 L121.3,276.6 L124.1,272.8 L126.9,269.3 L129.7,266.0 L132.6,262.9 L135.4,260.1 L138.2,257.6 L141.0,255.3 L143.8,253.3 L146.6,251.6 L149.5,250.2 L152.3,249.0 L155.1,248.1 L157.9,247.4 L160.7,247.0 L163.5,246.9 L167.1,247.0 L170.6,247.2 L174.1,247.5 L177.6,248.0 L181.2,248.7 L184.7,249.4 L188.2,250.4 L191.7,251.4 L195.2,252.5 L198.8,253.7 L202.3,255.0 L205.8,256.4 L209.3,257.8 L212.8,259.4 L216.4,260.9 L219.9,262.6 L223.4,264.2 L226.9,265.9 L230.4,267.7 L234.0,269.4 L237.5,271.2 L241.0,273.0 L244.5,274.8 L248.1,276.6 L251.6,278.5 L255.1,280.4 L258.6,282.4 L262.1,284.5 L265.7,286.6 L269.2,288.9 L272.7,291.2 L276.2,293.5 L279.7,295.8 L283.3,298.2 L286.8,300.6 L290.3,303.0 L293.8,305.4 L297.4,307.9 L300.9,310.3 L304.4,312.8 L307.9,315.3 L311.4,317.8 L315.0,320.4 L318.5,322.9 L322.0,325.5 L325.5,328.0 L329.0,330.6 L332.6,333.1 L336.1,335.6 L339.6,338.2 L343.1,340.8 L346.6,343.4 L350.2,346.1 L353.7,348.9 L357.2,351.8 L360.7,354.7 L364.3,357.7 L367.8,360.8 L371.3,363.9 L374.8,367.1 L378.3,370.4 L381.9,373.7 L385.4,377.0 L388.9,380.4 L392.4,383.9 L395.9,387.4 L399.5,391.0 L403.0,394.5 L406.5,398.2 L410.0,401.8 L413.6,405.5 L417.1,409.2 L420.6,412.9 L424.1,416.6 L427.6,420.3 L431.2,424.0 L434.7,427.8 L438.2,431.5 L441.7,435.2 L445.2,438.8 L448.8,442.5 L452.3,446.1 L455.8,449.6 L459.3,453.2 L462.9,456.7 L466.4,460.2 L469.9,463.8 L473.4,467.4 L476.9,471.1 L480.5,474.8 L484.0,478.6 L487.5,482.3 L491.0,486.2 L494.5,490.0 L498.1,493.9 L501.6,497.8 L505.1,501.8 L508.6,505.8 L512.1,509.8 L515.7,513.9 L519.2,518.0 L522.7,522.2 L526.2,526.3 L529.8,530.6 L533.3,534.8 L536.8,539.1 L540.3,543.5 L543.8,547.9 L547.4,552.3 L550.9,556.8 L554.4,561.3 L557.9,565.9 L561.4,570.5 L565.0,575.0 L568.5,579.4 L572.0,583.7 L575.5,587.8 L579.1,591.8 L582.6,595.5 L586.1,599.1 L589.6,602.6 L593.1,605.8 L596.7,608.9 L600.2,611.8 L603.7,614.6 L607.2,617.3 L610.7,619.8 L614.3,622.2 L617.8,622.7 L777.6,622.7" stroke="#929600"/>
<path d="M17.1,161.1 L19.9,177.4 L22.7,193.2 L25.5,208.2 L28.3,222.2 L31.1,234.9 L34.0,246.5 L36.8,257.1 L39.6,266.7 L42.4,275.6 L45.2,283.9 L48.0,291.5 L50.9,298.5 L53.7,304.9 L56.5,310.5 L59.3,315.4 L62.1,319.6 L64.9,323.0 L67.8,325.6 L70.6,327.4 L73.4,328.5 L76.2,328.8 L79.0,328.5 L81.9,327.5 L84.7,325.9 L87.5,323.7 L90.3,321.0 L93.1,317.9 L95.9,314.5 L98.8,310.7 L101.6,306.6 L104.4,302.4 L107.2,298.0 L110.0,293.5 L112.8,289.1 L115.7,284.8 L118.5,280.6 L121.3,276.6 L124.1,272.8 L126.9,269.3 L129.7,265.9 L132.6,262.9 L135.4,260.1 L138.2,257.6 L141.0,255.3 L143.8,253.3 L146.6,251.6 L149.5,250.2 L152.3,249.0 L155.1,248.1 L157.9,247.4 L160.7,247.0 L163.5,246.9 L167.1,247.0 L170.6,247.2 L174.1,247.6 L177.6,248.1 L181.2,248.8 L184.7,249.6 L188.2,250.5 L191.7,251.6 L195.2,252.8 L198.8,254.0 L202.3,255.4 L205.8,256.9 L209.3,258.4 L212.8,260.0 L216.4,261.6 L219.9,263.3 L223.4,265.0 L226.9,266.8 L230.4,268.6 L234.0,270.4 L237.5,272.2 L241.0,274.1 L244.5,275.9 L248.1,277.8 L251.6,279.7 L255.1,281.7 L258.6,283.7 L262.1,285.8 L265.7,288.0 L269.2,290.3 L272.7,292.7 L276.2,295.0 L279.7,297.4 L283.3,299.8 L286.8,302.2 L290.3,304.6 L293.8,307.1 L297.4,309.5 L300.9,312.0 L304.4,314.5 L307.9,317.0 L311.4,319.6 L315.0,322.1 L318.5,324.7 L322.0,327.2 L325.5,329.8 L329.0,332.3 L332.6,334.9 L336.1,337.4 L339.6,339.9 L343.1,342.4 L346.6,345.0 L350.2,347.7 L353.7,350.5 L357.2,353.3 L360.7,356.2 L364.3,359.2 L367.8,362.2 L371.3,365.3 L374.8,368.5 L378.3,371.7 L381.9,374.9 L385.4,378.3 L388.9,381.6 L392.4,385.0 L395.9,388.5 L399.5,392.0 L403.0,395.5 L406.5,399.1 L410.0,402.6 L413.6,406.2 L417.1,409.9 L420.6,413.5 L424.1,417.1 L427.6,420.8 L431.2,424.4 L434.7,428.1 L438.2,431.7 L441.7,435.3 L445.2,438.9 L448.8,442.4 L452.3,446.0 L455.8,449.4 L459.3,452.9 L462.9,456.3 L466.4,459.7 L469.9,463.2 L473.4,466.7 L476.9,470.2 L480.5,473.8 L484.0,477.5 L487.5,481.1 L491.0,484.8 L494.5,488.6 L498.1,492.3 L501.6,496.1 L505.1,499.9 L508.6,503.8 L512.1,507.6 L515.7,511.5 L519.2,515.5 L522.7,519.4 L526.2,523.4 L529.8,527.5 L533.3,531.5 L536.8,535.6 L540.3,539.7 L543.8,543.9 L547.4,548.1 L550.9,552.4 L554.4,556.7 L557.9,561.0 L561.4,565.4 L565.0,569.7 L568.5,574.0 L572.0,578.3 L575.5,582.5 L579.1,586.5 L582.6,590.3 L586.1,594.0 L589.6,597.4 L593.1,600.8 L596.7,603.9 L600.2,607.0 L603.7,609.8 L607.2,612.6 L610.7,615.2 L614.3,617.7 L617.8,620.1 L621.3,622.4 L624.8,622.7 L777.6,622.7" stroke="#E95536"/>
<path d="M17.1,159.1 L19.9,175.6 L22.7,191.7 L25.5,206.9 L28.3,221.1 L31.1,234.0 L34.0,245.7 L36.8,256.4 L39.6,266.1 L42.4,275.1 L45.2,283.5 L48.0,291.2 L50.9,298.2 L53.7,304.6 L56.5,310.3 L59.3,315.3 L62.1,319.5 L64.9,322.9 L67.8,325.5 L70.6,327.4 L73.4,328.5 L76.2,328.8 L79.0,328.5 L81.9,327.5 L84.7,325.9 L87.5,323.7 L90.3,321.0 L93.1,317.9 L95.9,314.4 L98.8,310.6 L101.6,306.6 L104.4,302.3 L107.2,297.9 L110.0,293.5 L112.8,289.1 L115.7,284.7 L118.5,280.5 L121.3,276.6 L124.1,272.8 L126.9,269.2 L129.7,265.9 L132.6,262.9 L135.4,260.1 L138.2,257.6 L141.0,255.3 L143.8,253.3 L146.6,251.6 L149.5,250.2 L152.3,249.0 L155.1,248.1 L157.9,247.4 L160.7,247.0 L163.5,246.9 L167.1,247.0 L170.6,247.2 L174.1,247.6 L177.6,248.2 L181.2,248.9 L184.7,249.7 L188.2,250.7 L191.7,251.8 L195.2,253.1 L198.8,254.4 L202.3,255.8 L205.8,257.3 L209.3,258.9 L212.8,260.5 L216.4,262.2 L219.9,264.0 L223.4,265.8 L226.9,267.6 L230.4,269.4 L234.0,271.3 L237.5,273.2 L241.0,275.1 L244.5,277.0 L248.1,278.9 L251.6,280.9 L255.1,282.9 L258.6,285.0 L262.1,287.1 L265.7,289.4 L269.2,291.7 L272.7,294.1 L276.2,296.4 L279.7,298.9 L283.3,301.3 L286.8,303.7 L290.3,306.2 L293.8,308.7 L297.4,311.1 L300.9,313.6 L304.4,316.2 L307.9,318.7 L311.4,321.2 L315.0,323.8 L318.5,326.3 L322.0,328.9 L325.5,331.4 L329.0,334.0 L332.6,336.5 L336.1,339.0 L339.6,341.5 L343.1,344.0 L346.6,346.6 L350.2,349.3 L353.7,352.0 L357.2,354.8 L360.7,357.7 L364.3,360.6 L367.8,363.6 L371.3,366.7 L374.8,369.8 L378.3,372.9 L381.9,376.1 L385.4,379.4 L388.9,382.7 L392.4,386.1 L395.9,389.5 L399.5,392.9 L403.0,396.4 L406.5,399.9 L410.0,403.4 L413.6,406.9 L417.1,410.5 L420.6,414.0 L424.1,417.6 L427.6,421.2 L431.2,424.7 L434.7,428.3 L438.2,431.8 L441.7,435.3 L445.2,438.8 L448.8,442.3 L452.3,445.7 L455.8,449.1 L459.3,452.4 L462.9,455.8 L466.4,459.1 L469.9,462.5 L473.4,465.9 L476.9,469.3 L480.5,472.8 L484.0,476.3 L487.5,479.8 L491.0,483.4 L494.5,487.0 L498.1,490.6 L501.6,494.2 L505.1,497.9 L508.6,501.6 L512.1,505.3 L515.7,509.1 L519.2,512.8 L522.7,516.6 L526.2,520.5 L529.8,524.3 L533.3,528.2 L536.8,532.1 L540.3,536.0 L543.8,540.0 L547.4,543.9 L550.9,548.0 L554.4,552.0 L557.9,556.1 L561.4,560.3 L565.0,564.4 L568.5,568.6 L572.0,572.7 L575.5,576.8 L579.1,580.8 L582.6,584.7 L586.1,588.4 L589.6,592.0 L593.1,595.4 L596.7,598.6 L600.2,601.7 L603.7,604.7 L607.2,607.5 L610.7,610.3 L614.3,612.8 L617.8,615.3 L621.3,617.7 L624.8,620.0 L628.3,622.1 L631.9,622.7 L777.6,622.7" stroke="#6685D9"/>
<path d="M17.1,157.2 L19.9,173.9 L22.7,190.2 L25.5,205.6 L28.3,220.0 L31.1,233.0 L34.0,244.9 L36.8,255.7 L39.6,265.5 L42.4,274.6 L45.2,283.0 L48.0,290.8 L50.9,297.9 L53.7,304.4 L56.5,310.1 L59.3,315.2 L62.1,319.4 L64.9,322.9 L67.8,325.5 L70.6,327.4 L73.4,328.5 L76.2,328.8 L79.0,328.5 L81.9,327.5 L84.7,325.9 L87.5,323.7 L90.3,321.0 L93.1,317.9 L95.9,314.4 L98.8,310.6 L101.6,306.6 L104.4,302.3 L107.2,297.9 L110.0,293.5 L112.8,289.0 L115.7,284.7 L118.5,280.5 L121.3,276.5 L124.1,272.7 L126.9,269.2 L129.7,265.9 L132.6,262.8 L135.4,260.1 L138.2,257.5 L141.0,255.3 L143.8,253.3 L146.6,251.6 L149.5,250.2 L152.3,249.0 L155.1,248.1 L157.9,247.4 L160.7,247.0 L163.5,246.9 L167.1,247.0 L170.6,247.2 L174.1,247.6 L177.6,248.2 L181.2,249.0 L184.7,249.9 L188.2,250.9 L191.7,252.0 L195.2,253.3 L198.8,254.7 L202.3,256.2 L205.8,257.7 L209.3,259.4 L212.8,261.1 L216.4,262.9 L219.9,264.7 L223.4,266.5 L226.9,268.4 L230.4,270.3 L234.0,272.2 L237.5,274.2 L241.0,276.1 L244.5,278.1 L248.1,280.0 L251.6,282.0 L255.1,284.0 L258.6,286.1 L262.1,288.3 L265.7,290.6 L269.2,293.0 L272.7,295.4 L276.2,297.9 L279.7,300.3 L283.3,302.7 L286.8,305.2 L290.3,307.7 L293.8,310.2 L297.4,312.7 L300.9,315.2 L304.4,317.7 L307.9,320.2 L311.4,322.8 L315.0,325.3 L318.5,327.9 L322.0,330.5 L325.5,333.0 L329.0,335.6 L332.6,338.0 L336.1,340.5 L339.6,343.0 L343.1,345.5 L346.6,348.1 L350.2,350.7 L353.7,353.4 L357.2,356.2 L360.7,359.0 L364.3,361.9 L367.8,364.9 L371.3,367.9 L374.8,371.0 L378.3,374.1 L381.9,377.3 L385.4,380.5 L388.9,383.8 L392.4,387.1 L395.9,390.4 L399.5,393.8 L403.0,397.2 L406.5,400.6 L410.0,404.0 L413.6,407.5 L417.1,411.0 L420.6,414.5 L424.1,418.0 L427.6,421.5 L431.2,425.0 L434.7,428.4 L438.2,431.9 L441.7,435.3 L445.2,438.7 L448.8,442.1 L452.3,445.4 L455.8,448.7 L459.3,451.9 L462.9,455.2 L466.4,458.4 L469.9,461.6 L473.4,464.9 L476.9,468.3 L480.5,471.6 L484.0,475.0 L487.5,478.4 L491.0,481.9 L494.5,485.3 L498.1,488.8 L501.6,492.3 L505.1,495.8 L508.6,499.4 L512.1,502.9 L515.7,506.5 L519.2,510.1 L522.7,513.8 L526.2,517.4 L529.8,521.1 L533.3,524.8 L536.8,528.5 L540.3,532.2 L543.8,536.0 L547.4,539.8 L550.9,543.6 L554.4,547.4 L557.9,551.3 L561.4,555.2 L565.0,559.1 L568.5,563.1 L572.0,567.1 L575.5,571.1 L579.1,575.0 L582.6,578.8 L586.1,582.5 L589.6,586.1 L593.1,589.6 L596.7,593.0 L600.2,596.1 L603.7,599.2 L607.2,602.1 L610.7,604.9 L614.3,607.6 L617.8,610.2 L621.3,612.6 L624.8,615.0 L628.3,617.3 L631.9,619.4 L635.4,621.5 L638.9,622.7 L777.6,622.7" stroke="#F89F13"/>
<path d="M17.1,155.3 L19.9,172.2 L22.7,188.7 L25.5,204.3 L28.3,218.9 L31.1,232.1 L34.0,244.1 L36.8,255.0 L39.6,264.9 L42.4,274.1 L45.2,282.6 L48.0,290.4 L50.9,297.6 L53.7,304.2 L56.5,310.0 L59.3,315.0 L62.1,319.3 L64.9,322.8 L67.8,325.5 L70.6,327.4 L73.4,328.5 L76.2,328.8 L79.0,328.5 L81.9,327.5 L84.7,325.8 L87.5,323.7 L90.3,321.0 L93.1,317.9 L95.9,314.4 L98.8,310.6 L101.6,306.5 L104.4,302.3 L107.2,297.9 L110.0,293.4 L112.8,289.0 L115.7,284.6 L118.5,280.5 L121.3,276.5 L124.1,272.7 L126.9,269.2 L129.7,265.9 L132.6,262.8 L135.4,260.0 L138.2,257.5 L141.0,255.3 L143.8,253.3 L146.6,251.6 L149.5,250.2 L152.3,249.0 L155.1,248.1 L157.9,247.4 L160.7,247.0 L163.5,246.9 L167.1,247.0 L170.6,247.2 L174.1,247.7 L177.6,248.3 L181.2,249.0 L184.7,250.0 L188.2,251.1 L191.7,252.3 L195.2,253.6 L198.8,255.0 L202.3,256.5 L205.8,258.2 L209.3,259.9 L212.8,261.6 L216.4,263.4 L219.9,265.3 L223.4,267.2 L226.9,269.2 L230.4,271.1 L234.0,273.1 L237.5,275.1 L241.0,277.1 L244.5,279.1 L248.1,281.1 L251.6,283.1 L255.1,285.2 L258.6,287.3 L262.1,289.6 L265.7,291.9 L269.2,294.3 L272.7,296.7 L276.2,299.2 L279.7,301.6 L283.3,304.1 L286.8,306.6 L290.3,309.1 L293.8,311.6 L297.4,314.1 L300.9,316.7 L304.4,319.2 L307.9,321.7 L311.4,324.3 L315.0,326.8 L318.5,329.4 L322.0,332.0 L325.5,334.5 L329.0,337.0 L332.6,339.5 L336.1,342.0 L339.6,344.4 L343.1,346.9 L346.6,349.5 L350.2,352.1 L353.7,354.8 L357.2,357.5 L360.7,360.3 L364.3,363.2 L367.8,366.1 L371.3,369.1 L374.8,372.1 L378.3,375.2 L381.9,378.3 L385.4,381.5 L388.9,384.7 L392.4,388.0 L395.9,391.3 L399.5,394.6 L403.0,397.9 L406.5,401.3 L410.0,404.7 L413.6,408.1 L417.1,411.5 L420.6,414.9 L424.1,418.3 L427.6,421.7 L431.2,425.1 L434.7,428.5 L438.2,431.9 L441.7,435.2 L445.2,438.5 L448.8,441.8 L452.3,445.0 L455.8,448.2 L459.3,451.4 L462.9,454.5 L466.4,457.6 L469.9,460.8 L473.4,463.9 L476.9,467.2 L480.5,470.4 L484.0,473.7 L487.5,477.0 L491.0,480.3 L494.5,483.6 L498.1,486.9 L501.6,490.3 L505.1,493.7 L508.6,497.1 L512.1,500.5 L515.7,504.0 L519.2,507.4 L522.7,510.9 L526.2,514.4 L529.8,517.9 L533.3,521.4 L536.8,524.9 L540.3,528.5 L543.8,532.1 L547.4,535.6 L550.9,539.2 L554.4,542.9 L557.9,546.5 L561.4,550.2 L565.0,553.9 L568.5,557.7 L572.0,561.4 L575.5,565.2 L579.1,569.0 L582.6,572.7 L586.1,576.4 L589.6,580.0 L593.1,583.5 L596.7,586.9 L600.2,590.2 L603.7,593.3 L607.2,596.3 L610.7,599.2 L614.3,602.0 L617.8,604.6 L621.3,607.2 L624.8,609.6 L628.3,612.0 L631.9,614.3 L635.4,616.4 L638.9,618.5 L642.4,620.5 L646.0,622.5 L649.5,622.7 L777.6,622.7" stroke="#BC5B80"/>
<path d="M17.1,153.3 L19.9,170.5 L22.7,187.2 L25.5,203.0 L28.3,217.8 L31.1,231.1 L34.0,243.3 L36.8,254.3 L39.6,264.3 L42.4,273.6 L45.2,282.1 L48.0,290.1 L50.9,297.3 L53.7,303.9 L56.5,309.8 L59.3,314.9 L62.1,319.2 L64.9,322.8 L67.8,325.5 L70.6,327.4 L73.4,328.5 L76.2,328.8 L79.0,328.5 L81.9,327.5 L84.7,325.8 L87.5,323.7 L90.3,321.0 L93.1,317.9 L95.9,314.4 L98.8,310.6 L101.6,306.5 L104.4,302.2 L107.2,297.8 L110.0,293.4 L112.8,288.9 L115.7,284.6 L118.5,280.4 L121.3,276.5 L124.1,272.7 L126.9,269.1 L129.7,265.9 L132.6,262.8 L135.4,260.0 L138.2,257.5 L141.0,255.3 L143.8,253.3 L146.6,251.6 L149.5,250.2 L152.3,249.0 L155.1,248.1 L157.9,247.4 L160.7,247.0 L163.5,246.9 L167.1,247.0 L170.6,247.2 L174.1,247.7 L177.6,248.3 L181.2,249.1 L184.7,250.1 L188.2,251.2 L191.7,252.5 L195.2,253.8 L198.8,255.3 L202.3,256.9 L205.8,258.6 L209.3,260.3 L212.8,262.1 L216.4,264.0 L219.9,265.9 L223.4,267.9 L226.9,269.9 L230.4,271.9 L234.0,273.9 L237.5,276.0 L241.0,278.0 L244.5,280.0 L248.1,282.1 L251.6,284.2 L255.1,286.3 L258.6,288.4 L262.1,290.7 L265.7,293.1 L269.2,295.5 L272.7,298.0 L276.2,300.5 L279.7,303.0 L283.3,305.5 L286.8,308.0 L290.3,310.5 L293.8,313.0 L297.4,315.5 L300.9,318.1 L304.4,320.6 L307.9,323.2 L311.4,325.7 L315.0,328.3 L318.5,330.8 L322.0,333.4 L325.5,335.9 L329.0,338.4 L332.6,340.9 L336.1,343.3 L339.6,345.8 L343.1,348.3 L346.6,350.8 L350.2,353.4 L353.7,356.1 L357.2,358.8 L360.7,361.6 L364.3,364.4 L367.8,367.3 L371.3,370.2 L374.8,373.2 L378.3,376.3 L381.9,379.4 L385.4,382.5 L388.9,385.7 L392.4,388.8 L395.9,392.1 L399.5,395.3 L403.0,398.6 L406.5,401.9 L410.0,405.2 L413.6,408.6 L417.1,411.9 L420.6,415.2 L424.1,418.6 L427.6,421.9 L431.2,425.2 L434.7,428.5 L438.2,431.8 L441.7,435.0 L445.2,438.3 L448.8,441.5 L452.3,444.6 L455.8,447.7 L459.3,450.7 L462.9,453.7 L466.4,456.8 L469.9,459.8 L473.4,462.9 L476.9,466.0 L480.5,469.1 L484.0,472.3 L487.5,475.4 L491.0,478.6 L494.5,481.8 L498.1,485.1 L501.6,488.3 L505.1,491.5 L508.6,494.8 L512.1,498.1 L515.7,501.4 L519.2,504.7 L522.7,508.0 L526.2,511.3 L529.8,514.7 L533.3,518.0 L536.8,521.4 L540.3,524.8 L543.8,528.1 L547.4,531.5 L550.9,535.0 L554.4,538.4 L557.9,541.8 L561.4,545.3 L565.0,548.8 L568.5,552.3 L572.0,555.8 L575.5,559.4 L579.1,562.9 L582.6,566.5 L586.1,570.1 L589.6,573.7 L593.1,577.2 L596.7,580.6 L600.2,583.9 L603.7,587.1 L607.2,590.1 L610.7,593.1 L614.3,595.9 L617.8,598.7 L621.3,601.3 L624.8,603.9 L628.3,606.3 L631.9,608.7 L635.4,610.9 L638.9,613.1 L642.4,615.2 L646.0,617.2 L649.5,619.2 L653.0,621.1 L656.5,622.7 L777.6,622.7" stroke="#47B66D"/>
<path d="M17.1,151.4 L19.9,168.8 L22.7,185.7 L25.5,201.8 L28.3,216.7 L31.1,230.2 L34.0,242.4 L36.8,253.6 L39.6,263.7 L42.4,273.0 L45.2,281.7 L48.0,289.7 L50.9,297.0 L53.7,303.7 L56.5,309.6 L59.3,314.8 L62.1,319.2 L64.9,322.7 L67.8,325.4 L70.6,327.3 L73.4,328.5 L76.2,328.8 L79.0,328.5 L81.9,327.5 L84.7,325.8 L87.5,323.6 L90.3,321.0 L93.1,317.8 L95.9,314.3 L98.8,310.5 L101.6,306.4 L104.4,302.2 L107.2,297.8 L110.0,293.3 L112.8,288.9 L115.7,284.6 L118.5,280.4 L121.3,276.4 L124.1,272.7 L126.9,269.1 L129.7,265.8 L132.6,262.8 L135.4,260.0 L138.2,257.5 L141.0,255.3 L143.8,253.3 L146.6,251.6 L149.5,250.2 L152.3,249.0 L155.1,248.1 L157.9,247.4 L160.7,247.0 L163.5,246.9 L167.1,247.0 L170.6,247.3 L174.1,247.7 L177.6,248.4 L181.2,249.2 L184.7,250.2 L188.2,251.4 L191.7,252.7 L195.2,254.1 L198.8,255.6 L202.3,257.2 L205.8,259.0 L209.3,260.8 L212.8,262.6 L216.4,264.6 L219.9,266.5 L223.4,268.6 L226.9,270.6 L230.4,272.6 L234.0,274.7 L237.5,276.8 L241.0,278.9 L244.5,281.0 L248.1,283.1 L251.6,285.2 L255.1,287.4 L258.6,289.6 L262.1,291.9 L265.7,294.3 L269.2,296.7 L272.7,299.2 L276.2,301.7 L279.7,304.2 L283.3,306.7 L286.8,309.3 L290.3,311.8 L293.8,314.3 L297.4,316.9 L300.9,319.4 L304.4,322.0 L307.9,324.5 L311.4,327.1 L315.0,329.6 L318.5,332.2 L322.0,334.7 L325.5,337.2 L329.0,339.7 L332.6,342.2 L336.1,344.7 L339.6,347.1 L343.1,349.6 L346.6,352.1 L350.2,354.7 L353.7,357.3 L357.2,360.0 L360.7,362.8 L364.3,365.6 L367.8,368.4 L371.3,371.3 L374.8,374.3 L378.3,377.3 L381.9,380.3 L385.4,383.4 L388.9,386.5 L392.4,389.7 L395.9,392.9 L399.5,396.1 L403.0,399.3 L406.5,402.5 L410.0,405.8 L413.6,409.0 L417.1,412.3 L420.6,415.5 L424.1,418.8 L427.6,422.0 L431.2,425.3 L434.7,428.5 L438.2,431.7 L441.7,434.8 L445.2,437.9 L448.8,441.0 L452.3,444.1 L455.8,447.1 L459.3,450.0 L462.9,453.0 L466.4,455.9 L469.9,458.9 L473.4,461.8 L476.9,464.8 L480.5,467.8 L484.0,470.8 L487.5,473.9 L491.0,477.0 L494.5,480.0 L498.1,483.1 L501.6,486.2 L505.1,489.3 L508.6,492.5 L512.1,495.6 L515.7,498.8 L519.2,501.9 L522.7,505.1 L526.2,508.3 L529.8,511.4 L533.3,514.6 L536.8,517.8 L540.3,521.1 L543.8,524.3 L547.4,527.5 L550.9,530.7 L554.4,534.0 L557.9,537.3 L561.4,540.5 L565.0,543.8 L568.5,547.1 L572.0,550.4 L575.5,553.8 L579.1,557.1 L582.6,560.5 L586.1,563.9 L589.6,567.3 L593.1,570.7 L596.7,574.0 L600.2,577.2 L603.7,580.4 L607.2,583.5 L610.7,586.5 L614.3,589.4 L617.8,592.2 L621.3,595.0 L624.8,597.6 L628.3,600.2 L631.9,602.6 L635.4,605.0 L638.9,607.3 L642.4,609.5 L646.0,611.6 L649.5,613.6 L653.0,615.6 L656.5,617.5 L660.0,619.3 L663.6,621.1 L667.1,622.7 L777.6,622.7" stroke="#5E81B5"/>
<path d="M17.1,149.4 L19.9,167.0 L22.7,184.2 L25.5,200.5 L28.3,215.6 L31.1,229.3 L34.0,241.6 L36.8,252.9 L39.6,263.1 L42.4,272.5 L45.2,281.2 L48.0,289.3 L50.9,296.7 L53.7,303.5 L56.5,309.4 L59.3,314.7 L62.1,319.1 L64.9,322.7 L67.8,325.4 L70.6,327.3 L73.4,328.5 L76.2,328.8 L79.0,328.5 L81.9,327.5 L84.7,325.8 L87.5,323.6 L90.3,320.9 L93.1,317.8 L95.9,314.3 L98.8,310.5 L101.6,306.4 L104.4,302.1 L107.2,297.7 L110.0,293.3 L112.8,288.9 L115.7,284.5 L118.5,280.4 L121.3,276.4 L124.1,272.6 L126.9,269.1 L129.7,265.8 L132.6,262.8 L135.4,260.0 L138.2,257.5 L141.0,255.3 L143.8,253.3 L146.6,251.6 L149.5,250.2 L152.3,249.0 L155.1,248.1 L157.9,247.4 L160.7,247.0 L163.5,246.9 L167.1,247.0 L170.6,247.3 L174.1,247.8 L177.6,248.4 L181.2,249.3 L184.7,250.3 L188.2,251.5 L191.7,252.8 L195.2,254.3 L198.8,255.9 L202.3,257.6 L205.8,259.3 L209.3,261.2 L212.8,263.1 L216.4,265.1 L219.9,267.1 L223.4,269.2 L226.9,271.3 L230.4,273.4 L234.0,275.5 L237.5,277.6 L241.0,279.8 L244.5,281.9 L248.1,284.0 L251.6,286.2 L255.1,288.4 L258.6,290.7 L262.1,293.0 L265.7,295.4 L269.2,297.8 L272.7,300.4 L276.2,302.9 L279.7,305.4 L283.3,308.0 L286.8,310.5 L290.3,313.1 L293.8,315.6 L297.4,318.2 L300.9,320.7 L304.4,323.3 L307.9,325.8 L311.4,328.4 L315.0,331.0 L318.5,333.5 L322.0,336.0 L325.5,338.5 L329.0,341.0 L332.6,343.5 L336.1,345.9 L339.6,348.4 L343.1,350.8 L346.6,353.3 L350.2,355.9 L353.7,358.5 L357.2,361.2 L360.7,363.9 L364.3,366.7 L367.8,369.5 L371.3,372.4 L374.8,375.3 L378.3,378.3 L381.9,381.3 L385.4,384.3 L388.9,387.4 L392.4,390.5 L395.9,393.6 L399.5,396.8 L403.0,399.9 L406.5,403.1 L410.0,406.3 L413.6,409.5 L417.1,412.7 L420.6,415.8 L424.1,419.0 L427.6,422.2 L431.2,425.3 L434.7,428.4 L438.2,431.5 L441.7,434.6 L445.2,437.6 L448.8,440.6 L452.3,443.5 L455.8,446.4 L459.3,449.3 L462.9,452.1 L466.4,455.0 L469.9,457.8 L473.4,460.7 L476.9,463.6 L480.5,466.5 L484.0,469.4 L487.5,472.3 L491.0,475.3 L494.5,478.2 L498.1,481.2 L501.6,484.2 L505.1,487.1 L508.6,490.1 L512.1,493.1 L515.7,496.2 L519.2,499.2 L522.7,502.2 L526.2,505.2 L529.8,508.3 L533.3,511.3 L536.8,514.4 L540.3,517.4 L543.8,520.5 L547.4,523.5 L550.9,526.6 L554.4,529.7 L557.9,532.8 L561.4,535.9 L565.0,539.0 L568.5,542.1 L572.0,545.2 L575.5,548.3 L579.1,551.5 L582.6,554.6 L586.1,557.8 L589.6,561.0 L593.1,564.1 L596.7,567.3 L600.2,570.4 L603.7,573.5 L607.2,576.6 L610.7,579.6 L614.3,582.6 L617.8,585.5 L621.3,588.3 L624.8,591.0 L628.3,593.6 L631.9,596.2 L635.4,598.6 L638.9,601.0 L642.4,603.2 L646.0,605.4 L649.5,607.5 L653.0,609.6 L656.5,611.6 L660.0,613.5 L663.6,615.4 L667.1,617.1 L670.6,618.9 L674.1,620.6 L677.6,622.2 L681.2,622.7 L777.6,622.7" stroke="#E19C24"/>
<path d="M17.1,147.5 L19.9,165.3 L22.7,182.7 L25.5,199.2 L28.3,214.5 L31.1,228.3 L34.0,240.8 L36.8,252.2 L39.6,262.5 L42.4,272.0 L45.2,280.8 L48.0,289.0 L50.9,296.4 L53.7,303.2 L56.5,309.3 L59.3,314.5 L62.1,319.0 L64.9,322.6 L67.8,325.4 L70.6,327.3 L73.4,328.5 L76.2,328.8 L79.0,328.5 L81.9,327.5 L84.7,325.8 L87.5,323.6 L90.3,320.9 L93.1,317.8 L95.9,314.3 L98.8,310.5 L101.6,306.4 L104.4,302.1 L107.2,297.7 L110.0,293.2 L112.8,288.8 L115.7,284.5 L118.5,280.3 L121.3,276.4 L124.1,272.6 L126.9,269.1 L129.7,265.8 L132.6,262.8 L135.4,260.0 L138.2,257.5 L141.0,255.3 L143.8,253.3 L146.6,251.6 L149.5,250.2 L152.3,249.0 L155.1,248.1 L157.9,247.4 L160.7,247.0 L163.5,246.9 L167.1,247.0 L170.6,247.3 L174.1,247.8 L177.6,248.5 L181.2,249.4 L184.7,250.4 L188.2,251.7 L191.7,253.0 L195.2,254.5 L198.8,256.2 L202.3,257.9 L205.8,259.7 L209.3,261.6 L212.8,263.6 L216.4,265.6 L219.9,267.7 L223.4,269.8 L226.9,272.0 L230.4,274.1 L234.0,276.3 L237.5,278.4 L241.0,280.6 L244.5,282.8 L248.1,285.0 L251.6,287.1 L255.1,289.3 L258.6,291.6 L262.1,294.0 L265.7,296.4 L269.2,299.0 L272.7,301.5 L276.2,304.1 L279.7,306.6 L283.3,309.2 L286.8,311.7 L290.3,314.3 L293.8,316.8 L297.4,319.4 L300.9,322.0 L304.4,324.5 L307.9,327.1 L311.4,329.7 L315.0,332.2 L318.5,334.8 L322.0,337.3 L325.5,339.8 L329.0,342.3 L332.6,344.7 L336.1,347.1 L339.6,349.5 L343.1,351.9 L346.6,354.4 L350.2,357.0 L353.7,359.6 L357.2,362.2 L360.7,365.0 L364.3,367.7 L367.8,370.5 L371.3,373.4 L374.8,376.3 L378.3,379.2 L381.9,382.2 L385.4,385.2 L388.9,388.2 L392.4,391.3 L395.9,394.4 L399.5,397.5 L403.0,400.6 L406.5,403.7 L410.0,406.8 L413.6,409.9 L417.1,413.0 L420.6,416.1 L424.1,419.2 L427.6,422.3 L431.2,425.3 L434.7,428.3 L438.2,431.3 L441.7,434.3 L445.2,437.2 L448.8,440.1 L452.3,443.0 L455.8,445.8 L459.3,448.5 L462.9,451.3 L466.4,454.0 L469.9,456.7 L473.4,459.5 L476.9,462.3 L480.5,465.1 L484.0,467.9 L487.5,470.7 L491.0,473.6 L494.5,476.4 L498.1,479.2 L501.6,482.1 L505.1,485.0 L508.6,487.8 L512.1,490.7 L515.7,493.6 L519.2,496.5 L522.7,499.3 L526.2,502.2 L529.8,505.1 L533.3,508.0 L536.8,510.9 L540.3,513.8 L543.8,516.7 L547.4,519.6 L550.9,522.5 L554.4,525.5 L557.9,528.4 L561.4,531.3 L565.0,534.2 L568.5,537.1 L572.0,540.1 L575.5,543.0 L579.1,545.9 L582.6,548.9 L586.1,551.8 L589.6,554.8 L593.1,557.7 L596.7,560.7 L600.2,563.7 L603.7,566.7 L607.2,569.7 L610.7,572.6 L614.3,575.6 L617.8,578.5 L621.3,581.3 L624.8,584.1 L628.3,586.7 L631.9,589.3 L635.4,591.8 L638.9,594.2 L642.4,596.5 L646.0,598.8 L649.5,601.0 L653.0,603.1 L656.5,605.2 L660.0,607.2 L663.6,609.1 L667.1,611.0 L670.6,612.8 L674.1,614.6 L677.6,616.3 L681.2,618.0 L684.7,619.6 L688.2,621.2 L691.7,622.7 L695.3,622.7 L777.6,622.7" stroke="#8FB032"/>
<path d="M17.1,145.6 L19.9,163.6 L22.7,181.2 L25.5,197.9 L28.3,213.4 L31.1,227.4 L34.0,240.0 L36.8,251.5 L39.6,261.9 L42.4,271.5 L45.2,280.4 L48.0,288.6 L50.9,296.2 L53.7,303.0 L56.5,309.1 L59.3,314.4 L62.1,318.9 L64.9,322.6 L67.8,325.4 L70.6,327.3 L73.4,328.5 L76.2,328.9 L79.0,328.5 L81.9,327.5 L84.7,325.8 L87.5,323.6 L90.3,320.9 L93.1,317.8 L95.9,314.3 L98.8,310.4 L101.6,306.3 L104.4,302.1 L107.2,297.7 L110.0,293.2 L112.8,288.8 L115.7,284.4 L118.5,280.3 L121.3,276.3 L124.1,272.6 L126.9,269.0 L129.7,265.8 L132.6,262.7 L135.4,260.0 L138.2,257.5 L141.0,255.2 L143.8,253.3 L146.6,251.6 L149.5,250.2 L152.3,249.0 L155.1,248.1 L157.9,247.4 L160.7,247.0 L163.5,246.9 L167.1,247.0 L170.6,247.3 L174.1,247.8 L177.6,248.5 L181.2,249.4 L184.7,250.5 L188.2,251.8 L191.7,253.2 L195.2,254.8 L198.8,256.4 L202.3,258.2 L205.8,260.1 L209.3,262.0 L212.8,264.1 L216.4,266.1 L219.9,268.3 L223.4,270.4 L226.9,272.6 L230.4,274.8 L234.0,277.0 L237.5,279.2 L241.0,281.4 L244.5,283.6 L248.1,285.8 L251.6,288.1 L255.1,290.3 L258.6,292.7 L262.1,295.0 L265.7,297.5 L269.2,300.0 L272.7,302.6 L276.2,305.2 L279.7,307.7 L283.3,310.3 L286.8,312.9 L290.3,315.5 L293.8,318.0 L297.4,320.6 L300.9,323.2 L304.4,325.7 L307.9,328.3 L311.4,330.9 L315.0,333.4 L318.5,336.0 L322.0,338.5 L325.5,341.0 L329.0,343.4 L332.6,345.9 L336.1,348.3 L339.6,350.7 L343.1,353.1 L346.6,355.6 L350.2,358.1 L353.7,360.7 L357.2,363.3 L360.7,366.0 L364.3,368.7 L367.8,371.5 L371.3,374.3 L374.8,377.2 L378.3,380.1 L381.9,383.1 L385.4,386.1 L388.9,389.1 L392.4,392.1 L395.9,395.1 L399.5,398.2 L403.0,401.2 L406.5,404.3 L410.0,407.3 L413.6,410.4 L417.1,413.4 L420.6,416.4 L424.1,419.4 L427.6,422.4 L431.2,425.3 L434.7,428.3 L438.2,431.1 L441.7,434.0 L445.2,436.8 L448.8,439.6 L452.3,442.4 L455.8,445.1 L459.3,447.7 L462.9,450.4 L466.4,453.0 L469.9,455.7 L473.4,458.3 L476.9,461.0 L480.5,463.7 L484.0,466.4 L487.5,469.1 L491.0,471.8 L494.5,474.6 L498.1,477.3 L501.6,480.0 L505.1,482.8 L508.6,485.5 L512.1,488.3 L515.7,491.0 L519.2,493.8 L522.7,496.5 L526.2,499.3 L529.8,502.0 L533.3,504.8 L536.8,507.5 L540.3,510.3 L543.8,513.1 L547.4,515.8 L550.9,518.6 L554.4,521.3 L557.9,524.1 L561.4,526.8 L565.0,529.6 L568.5,532.3 L572.0,535.1 L575.5,537.8 L579.1,540.6 L582.6,543.4 L586.1,546.1 L589.6,548.9 L593.1,551.7 L596.7,554.5 L600.2,557.3 L603.7,560.1 L607.2,562.9 L610.7,565.7 L614.3,568.5 L617.8,571.3 L621.3,574.0 L624.8,576.7 L628.3,579.3 L631.9,581.9 L635.4,584.4 L638.9,586.8 L642.4,589.2 L646.0,591.6 L649.5,593.8 L653.0,596.0 L656.5,598.2 L660.0,600.3 L663.6,602.3 L667.1,604.3 L670.6,606.2 L674.1,608.1 L677.6,609.9 L681.2,611.6 L684.7,613.4 L688.2,615.0 L691.7,616.6 L695.3,618.2 L698.8,619.7 L702.3,621.2 L705.8,622.7 L709.3,622.7 L777.6,622.7" stroke="#EB6235"/>
<path d="M17.1,143.6 L19.9,161.9 L22.7,179.7 L25.5,196.6 L28.3,212.3 L31.1,226.4 L34.0,239.2 L36.8,250.8 L39.6,261.3 L42.4,271.0 L45.2,279.9 L48.0,288.2 L50.9,295.9 L53.7,302.8 L56.5,308.9 L59.3,314.3 L62.1,318.8 L64.9,322.5 L67.8,325.3 L70.6,327.3 L73.4,328.5 L76.2,328.9 L79.0,328.5 L81.9,327.5 L84.7,325.8 L87.5,323.6 L90.3,320.9 L93.1,317.8 L95.9,314.2 L98.8,310.4 L101.6,306.3 L104.4,302.0 L107.2,297.6 L110.0,293.2 L112.8,288.7 L115.7,284.4 L118.5,280.2 L121.3,276.3 L124.1,272.5 L126.9,269.0 L129.7,265.7 L132.6,262.7 L135.4,260.0 L138.2,257.5 L141.0,255.2 L143.8,253.3 L146.6,251.6 L149.5,250.2 L152.3,249.0 L155.1,248.1 L157.9,247.4 L160.7,247.0 L163.5,246.9 L167.1,247.0 L170.6,247.3 L174.1,247.8 L177.6,248.6 L181.2,249.5 L184.7,250.6 L188.2,251.9 L191.7,253.4 L195.2,255.0 L198.8,256.7 L202.3,258.5 L205.8,260.4 L209.3,262.4 L212.8,264.5 L216.4,266.6 L219.9,268.8 L223.4,271.0 L226.9,273.2 L230.4,275.5 L234.0,277.7 L237.5,280.0 L241.0,282.2 L244.5,284.5 L248.1,286.7 L251.6,289.0 L255.1,291.3 L258.6,293.6 L262.1,296.0 L265.7,298.5 L269.2,301.1 L272.7,303.6 L276.2,306.2 L279.7,308.8 L283.3,311.4 L286.8,314.0 L290.3,316.6 L293.8,319.2 L297.4,321.8 L300.9,324.3 L304.4,326.9 L307.9,329.5 L311.4,332.0 L315.0,334.6 L318.5,337.1 L322.0,339.6 L325.5,342.1 L329.0,344.6 L332.6,347.0 L336.1,349.4 L339.6,351.7 L343.1,354.1 L346.6,356.6 L350.2,359.1 L353.7,361.7 L357.2,364.3 L360.7,367.0 L364.3,369.7 L367.8,372.5 L371.3,375.3 L374.8,378.1 L378.3,381.0 L381.9,384.0 L385.4,386.9 L388.9,389.9 L392.4,392.8 L395.9,395.8 L399.5,398.8 L403.0,401.8 L406.5,404.8 L410.0,407.8 L413.6,410.8 L417.1,413.8 L420.6,416.7 L424.1,419.6 L427.6,422.5 L431.2,425.3 L434.7,428.2 L438.2,430.9 L441.7,433.7 L445.2,436.4 L448.8,439.1 L452.3,441.7 L455.8,444.3 L459.3,446.9 L462.9,449.5 L466.4,452.0 L469.9,454.6 L473.4,457.1 L476.9,459.7 L480.5,462.3 L484.0,464.9 L487.5,467.5 L491.0,470.1 L494.5,472.7 L498.1,475.4 L501.6,478.0 L505.1,480.6 L508.6,483.2 L512.1,485.9 L515.7,488.5 L519.2,491.1 L522.7,493.7 L526.2,496.4 L529.8,499.0 L533.3,501.6 L536.8,504.2 L540.3,506.8 L543.8,509.5 L547.4,512.1 L550.9,514.7 L554.4,517.3 L557.9,519.9 L561.4,522.5 L565.0,525.1 L568.5,527.7 L572.0,530.3 L575.5,532.9 L579.1,535.4 L582.6,538.0 L586.1,540.6 L589.6,543.2 L593.1,545.8 L596.7,548.4 L600.2,551.0 L603.7,553.6 L607.2,556.2 L610.7,558.8 L614.3,561.4 L617.8,564.0 L621.3,566.6 L624.8,569.2 L628.3,571.7 L631.9,574.2 L635.4,576.7 L638.9,579.2 L642.4,581.6 L646.0,584.0 L649.5,586.3 L653.0,588.6 L656.5,590.8 L660.0,593.0 L663.6,595.1 L667.1,597.1 L670.6,599.1 L674.1,601.0 L677.6,602.9 L681.2,604.7 L684.7,606.5 L688.2,608.2 L691.7,609.9 L695.3,611.6 L698.8,613.2 L702.3,614.7 L705.8,616.3 L709.3,617.7 L712.9,619.2 L716.4,620.6 L719.9,622.0 L723.4,622.7 L777.6,622.7" stroke="#8778B3"/>
<path d="M17.1,141.7 L19.9,160.2 L22.7,178.2 L25.5,195.3 L28.3,211.2 L31.1,225.5 L34.0,238.4 L36.8,250.1 L39.6,260.7 L42.4,270.4 L45.2,279.5 L48.0,287.9 L50.9,295.6 L53.7,302.5 L56.5,308.7 L59.3,314.2 L62.1,318.7 L64.9,322.5 L67.8,325.3 L70.6,327.3 L73.4,328.5 L76.2,328.9 L79.0,328.5 L81.9,327.5 L84.7,325.8 L87.5,323.6 L90.3,320.9 L93.1,317.7 L95.9,314.2 L98.8,310.4 L101.6,306.3 L104.4,302.0 L107.2,297.6 L110.0,293.1 L112.8,288.7 L115.7,284.4 L118.5,280.2 L121.3,276.3 L124.1,272.5 L126.9,269.0 L129.7,265.7 L132.6,262.7 L135.4,260.0 L138.2,257.5 L141.0,255.2 L143.8,253.3 L146.6,251.6 L149.5,250.2 L152.3,249.0 L155.1,248.1 L157.9,247.4 L160.7,247.0 L163.5,246.9 L167.1,247.0 L170.6,247.3 L174.1,247.9 L177.6,248.6 L181.2,249.6 L184.7,250.7 L188.2,252.1 L191.7,253.6 L195.2,255.2 L198.8,256.9 L202.3,258.8 L205.8,260.8 L209.3,262.8 L212.8,264.9 L216.4,267.1 L219.9,269.3 L223.4,271.6 L226.9,273.8 L230.4,276.1 L234.0,278.4 L237.5,280.7 L241.0,283.0 L244.5,285.3 L248.1,287.6 L251.6,289.8 L255.1,292.2 L258.6,294.5 L262.1,297.0 L265.7,299.5 L269.2,302.1 L272.7,304.7 L276.2,307.3 L279.7,309.9 L283.3,312.5 L286.8,315.1 L290.3,317.7 L293.8,320.3 L297.4,322.9 L300.9,325.5 L304.4,328.0 L307.9,330.6 L311.4,333.1 L315.0,335.7 L318.5,338.2 L322.0,340.7 L325.5,343.2 L329.0,345.7 L332.6,348.1 L336.1,350.4 L339.6,352.8 L343.1,355.1 L346.6,357.6 L350.2,360.1 L353.7,362.7 L357.2,365.3 L360.7,367.9 L364.3,370.7 L367.8,373.4 L371.3,376.2 L374.8,379.0 L378.3,381.9 L381.9,384.8 L385.4,387.7 L388.9,390.7 L392.4,393.6 L395.9,396.6 L399.5,399.5 L403.0,402.5 L406.5,405.4 L410.0,408.4 L413.6,411.3 L417.1,414.2 L420.6,417.0 L424.1,419.8 L427.6,422.6 L431.2,425.4 L434.7,428.1 L438.2,430.8 L441.7,433.4 L445.2,436.0 L448.8,438.6 L452.3,441.1 L455.8,443.6 L459.3,446.1 L462.9,448.5 L466.4,451.0 L469.9,453.5 L473.4,455.9 L476.9,458.4 L480.5,460.9 L484.0,463.4 L487.5,465.9 L491.0,468.4 L494.5,470.9 L498.1,473.4 L501.6,475.9 L505.1,478.5 L508.6,481.0 L512.1,483.5 L515.7,486.0 L519.2,488.5 L522.7,491.0 L526.2,493.5 L529.8,496.0 L533.3,498.5 L536.8,501.0 L540.3,503.5 L543.8,505.9 L547.4,508.4 L550.9,510.9 L554.4,513.4 L557.9,515.8 L561.4,518.3 L565.0,520.7 L568.5,523.2 L572.0,525.6 L575.5,528.0 L579.1,530.5 L582.6,532.9 L586.1,535.3 L589.6,537.7 L593.1,540.1 L596.7,542.5 L600.2,545.0 L603.7,547.4 L607.2,549.8 L610.7,552.2 L614.3,554.6 L617.8,557.0 L621.3,559.4 L624.8,561.8 L628.3,564.2 L631.9,566.6 L635.4,569.0 L638.9,571.4 L642.4,573.8 L646.0,576.2 L649.5,578.5 L653.0,580.8 L656.5,583.0 L660.0,585.2 L663.6,587.3 L667.1,589.3 L670.6,591.3 L674.1,593.3 L677.6,595.2 L681.2,597.1 L684.7,598.9 L688.2,600.7 L691.7,602.4 L695.3,604.1 L698.8,605.8 L702.3,607.4 L705.8,609.0 L709.3,610.6 L712.9,612.1 L716.4,613.6 L719.9,615.1 L723.4,616.6 L726.9,618.0 L730.5,619.3 L734.0,620.7 L737.5,622.0 L741.0,622.7 L777.6,622.7" stroke="#C56E1A"/>
<path d="M17.1,139.7 L19.9,158.4 L22.7,176.7 L25.5,194.0 L28.3,210.1 L31.1,224.6 L34.0,237.6 L36.8,249.4 L39.6,260.1 L42.4,269.9 L45.2,279.0 L48.0,287.5 L50.9,295.3 L53.7,302.3 L56.5,308.6 L59.3,314.0 L62.1,318.7 L64.9,322.4 L67.8,325.3 L70.6,327.3 L73.4,328.5 L76.2,328.9 L79.0,328.5 L81.9,327.5 L84.7,325.8 L87.5,323.6 L90.3,320.9 L93.1,317.7 L95.9,314.2 L98.8,310.3 L101.6,306.2 L104.4,301.9 L107.2,297.5 L110.0,293.1 L112.8,288.6 L115.7,284.3 L118.5,280.2 L121.3,276.2 L124.1,272.5 L126.9,269.0 L129.7,265.7 L132.6,262.7 L135.4,259.9 L138.2,257.4 L141.0,255.2 L143.8,253.3 L146.6,251.6 L149.5,250.2 L152.3,249.0 L155.1,248.1 L157.9,247.4 L160.7,247.0 L163.5,246.9 L167.1,247.0 L170.6,247.3 L174.1,247.9 L177.6,248.7 L181.2,249.7 L184.7,250.8 L188.2,252.2 L191.7,253.7 L195.2,255.4 L198.8,257.2 L202.3,259.1 L205.8,261.1 L209.3,263.2 L212.8,265.3 L216.4,267.6 L219.9,269.8 L223.4,272.1 L226.9,274.4 L230.4,276.8 L234.0,279.1 L237.5,281.4 L241.0,283.7 L244.5,286.1 L248.1,288.4 L251.6,290.7 L255.1,293.1 L258.6,295.5 L262.1,298.0 L265.7,300.5 L269.2,303.1 L272.7,305.7 L276.2,308.3 L279.7,310.9 L283.3,313.5 L286.8,316.1 L290.3,318.8 L293.8,321.4 L297.4,323.9 L300.9,326.5 L304.4,329.1 L307.9,331.7 L311.4,334.2 L315.0,336.8 L318.5,339.3 L322.0,341.8 L325.5,344.2 L329.0,346.7 L332.6,349.1 L336.1,351.4 L339.6,353.8 L343.1,356.2 L346.6,358.6 L350.2,361.1 L353.7,363.6 L357.2,366.2 L360.7,368.9 L364.3,371.6 L367.8,374.3 L371.3,377.1 L374.8,379.9 L378.3,382.8 L381.9,385.6 L385.4,388.5 L388.9,391.5 L392.4,394.4 L395.9,397.3 L399.5,400.2 L403.0,403.2 L406.5,406.1 L410.0,408.9 L413.6,411.8 L417.1,414.6 L420.6,417.4 L424.1,420.1 L427.6,422.8 L431.2,425.4 L434.7,428.0 L438.2,430.6 L441.7,433.1 L445.2,435.6 L448.8,438.0 L452.3,440.4 L455.8,442.8 L459.3,445.2 L462.9,447.6 L466.4,450.0 L469.9,452.3 L473.4,454.7 L476.9,457.1 L480.5,459.5 L484.0,461.9 L487.5,464.3 L491.0,466.7 L494.5,469.1 L498.1,471.5 L501.6,473.9 L505.1,476.3 L508.6,478.7 L512.1,481.1 L515.7,483.5 L519.2,485.9 L522.7,488.3 L526.2,490.7 L529.8,493.1 L533.3,495.4 L536.8,497.8 L540.3,500.2 L543.8,502.5 L547.4,504.9 L550.9,507.2 L554.4,509.5 L557.9,511.8 L561.4,514.2 L565.0,516.5 L568.5,518.8 L572.0,521.1 L575.5,523.3 L579.1,525.6 L582.6,527.9 L586.1,530.2 L589.6,532.4 L593.1,534.7 L596.7,536.9 L600.2,539.1 L603.7,541.4 L607.2,543.6 L610.7,545.8 L614.3,548.1 L617.8,550.3 L621.3,552.5 L624.8,554.8 L628.3,557.0 L631.9,559.3 L635.4,561.6 L638.9,563.8 L642.4,566.1 L646.0,568.3 L649.5,570.5 L653.0,572.7 L656.5,574.8 L660.0,576.9 L663.6,579.0 L667.1,581.0 L670.6,583.0 L674.1,584.9 L677.6,586.8 L681.2,588.7 L684.7,590.5 L688.2,592.4 L691.7,594.1 L695.3,595.9 L698.8,597.6 L702.3,599.3 L705.8,601.0 L709.3,602.7 L712.9,604.3 L716.4,605.9 L719.9,607.4 L723.4,609.0 L726.9,610.5 L730.5,611.9 L734.0,613.4 L737.5,614.8 L741.0,616.2 L744.6,617.6 L748.1,618.9 L751.6,620.2 L755.1,621.5 L758.6,622.7 L777.6,622.7" stroke="#5D9EC7"/>
<path d="M17.1,137.8 L19.9,156.7 L22.7,175.2 L25.5,192.7 L28.3,209.0 L31.1,223.6 L34.0,236.8 L36.8,248.7 L39.6,259.5 L42.4,269.4 L45.2,278.6 L48.0,287.1 L50.9,295.0 L53.7,302.1 L56.5,308.4 L59.3,313.9 L62.1,318.6 L64.9,322.4 L67.8,325.3 L70.6,327.3 L73.4,328.5 L76.2,328.9 L79.0,328.5 L81.9,327.5 L84.7,325.8 L87.5,323.6 L90.3,320.9 L93.1,317.7 L95.9,314.1 L98.8,310.3 L101.6,306.2 L104.4,301.9 L107.2,297.5 L110.0,293.0 L112.8,288.6 L115.7,284.3 L118.5,280.1 L121.3,276.2 L124.1,272.4 L126.9,268.9 L129.7,265.7 L132.6,262.7 L135.4,259.9 L138.2,257.4 L141.0,255.2 L143.8,253.3 L146.6,251.6 L149.5,250.1 L152.3,249.0 L155.1,248.1 L157.9,247.4 L160.7,247.0 L163.5,246.9 L167.1,247.0 L170.6,247.3 L174.1,247.9 L177.6,248.7 L181.2,249.7 L184.7,250.9 L188.2,252.3 L191.7,253.9 L195.2,255.6 L198.8,257.4 L202.3,259.3 L205.8,261.4 L209.3,263.5 L212.8,265.7 L216.4,268.0 L219.9,270.3 L223.4,272.6 L226.9,275.0 L230.4,277.4 L234.0,279.7 L237.5,282.1 L241.0,284.5 L244.5,286.8 L248.1,289.2 L251.6,291.6 L255.1,294.0 L258.6,296.4 L262.1,298.9 L265.7,301.4 L269.2,304.0 L272.7,306.6 L276.2,309.3 L279.7,311.9 L283.3,314.5 L286.8,317.2 L290.3,319.8 L293.8,322.4 L297.4,325.0 L300.9,327.6 L304.4,330.2 L307.9,332.7 L311.4,335.3 L315.0,337.8 L318.5,340.3 L322.0,342.8 L325.5,345.2 L329.0,347.7 L332.6,350.0 L336.1,352.4 L339.6,354.8 L343.1,357.1 L346.6,359.6 L350.2,362.0 L353.7,364.5 L357.2,367.1 L360.7,369.8 L364.3,372.4 L367.8,375.2 L371.3,377.9 L374.8,380.8 L378.3,383.6 L381.9,386.5 L385.4,389.3 L388.9,392.2 L392.4,395.1 L395.9,398.1 L399.5,401.0 L403.0,403.8 L406.5,406.7 L410.0,409.5 L413.6,412.3 L417.1,415.1 L420.6,417.8 L424.1,420.4 L427.6,423.0 L431.2,425.5 L434.7,428.0 L438.2,430.4 L441.7,432.8 L445.2,435.1 L448.8,437.5 L452.3,439.8 L455.8,442.1 L459.3,444.3 L462.9,446.6 L466.4,448.9 L469.9,451.2 L473.4,453.5 L476.9,455.8 L480.5,458.1 L484.0,460.4 L487.5,462.7 L491.0,465.0 L494.5,467.4 L498.1,469.7 L501.6,472.0 L505.1,474.3 L508.6,476.5 L512.1,478.8 L515.7,481.1 L519.2,483.4 L522.7,485.7 L526.2,487.9 L529.8,490.2 L533.3,492.4 L536.8,494.7 L540.3,496.9 L543.8,499.2 L547.4,501.4 L550.9,503.6 L554.4,505.8 L557.9,508.0 L561.4,510.2 L565.0,512.3 L568.5,514.5 L572.0,516.7 L575.5,518.8 L579.1,520.9 L582.6,523.1 L586.1,525.2 L589.6,527.3 L593.1,529.4 L596.7,531.5 L600.2,533.6 L603.7,535.6 L607.2,537.7 L610.7,539.8 L614.3,541.9 L617.8,543.9 L621.3,546.0 L624.8,548.1 L628.3,550.1 L631.9,552.2 L635.4,554.3 L638.9,556.4 L642.4,558.4 L646.0,560.5 L649.5,562.6 L653.0,564.6 L656.5,566.6 L660.0,568.6 L663.6,570.5 L667.1,572.4 L670.6,574.3 L674.1,576.2 L677.6,578.1 L681.2,579.9 L684.7,581.8 L688.2,583.6 L691.7,585.4 L695.3,587.1 L698.8,588.9 L702.3,590.6 L705.8,592.4 L709.3,594.1 L712.9,595.7 L716.4,597.4 L719.9,599.0 L723.4,600.6 L726.9,602.2 L730.5,603.8 L734.0,605.3 L737.5,606.8 L741.0,608.2 L744.6,609.7 L748.1,611.1 L751.6,612.5 L755.1,613.9 L758.6,615.3 L762.2,616.6 L765.7,618.0 L769.2,619.3 L772.7,620.6 L776.2,621.9 L777.6,622.4" stroke="#FFBF00"/>
<path d="M17.1,135.9 L19.9,155.0 L22.7,173.7 L25.5,191.4 L28.3,207.9 L31.1,222.7 L34.0,236.0 L36.8,248.0 L39.6,258.9 L42.4,268.9 L45.2,278.1 L48.0,286.8 L50.9,294.7 L53.7,301.8 L56.5,308.2 L59.3,313.8 L62.1,318.5 L64.9,322.3 L67.8,325.2 L70.6,327.3 L73.4,328.5 L76.2,328.9 L79.0,328.5 L81.9,327.5 L84.7,325.8 L87.5,323.6 L90.3,320.8 L93.1,317.7 L95.9,314.1 L98.8,310.3 L101.6,306.1 L104.4,301.9 L107.2,297.4 L110.0,293.0 L112.8,288.6 L115.7,284.2 L118.5,280.1 L121.3,276.1 L124.1,272.4 L126.9,268.9 L129.7,265.7 L132.6,262.7 L135.4,259.9 L138.2,257.4 L141.0,255.2 L143.8,253.3 L146.6,251.6 L149.5,250.1 L152.3,249.0 L155.1,248.1 L157.9,247.4 L160.7,247.0 L163.5,246.9 L167.1,247.0 L170.6,247.4 L174.1,247.9 L177.6,248.8 L181.2,249.8 L184.7,251.0 L188.2,252.4 L191.7,254.0 L195.2,255.8 L198.8,257.6 L202.3,259.6 L205.8,261.7 L209.3,263.9 L212.8,266.1 L216.4,268.4 L219.9,270.8 L223.4,273.2 L226.9,275.6 L230.4,278.0 L234.0,280.4 L237.5,282.8 L241.0,285.2 L244.5,287.6 L248.1,290.0 L251.6,292.4 L255.1,294.8 L258.6,297.2 L262.1,299.7 L265.7,302.3 L269.2,304.9 L272.7,307.6 L276.2,310.2 L279.7,312.9 L283.3,315.5 L286.8,318.2 L290.3,320.8 L293.8,323.4 L297.4,326.0 L300.9,328.6 L304.4,331.2 L307.9,333.7 L311.4,336.3 L315.0,338.8 L318.5,341.3 L322.0,343.8 L325.5,346.2 L329.0,348.6 L332.6,351.0 L336.1,353.3 L339.6,355.7 L343.1,358.0 L346.6,360.4 L350.2,362.9 L353.7,365.4 L357.2,368.0 L360.7,370.6 L364.3,373.3 L367.8,376.0 L371.3,378.8 L374.8,381.5 L378.3,384.4 L381.9,387.2 L385.4,390.1 L388.9,393.0 L392.4,395.9 L395.9,398.8 L399.5,401.6 L403.0,404.5 L406.5,407.3 L410.0,410.1 L413.6,412.9 L417.1,415.6 L420.6,418.2 L424.1,420.7 L427.6,423.2 L431.2,425.6 L434.7,428.0 L438.2,430.3 L441.7,432.5 L445.2,434.7 L448.8,436.9 L452.3,439.1 L455.8,441.3 L459.3,443.5 L462.9,445.7 L466.4,447.9 L469.9,450.1 L473.4,452.3 L476.9,454.5 L480.5,456.7 L484.0,459.0 L487.5,461.2 L491.0,463.4 L494.5,465.6 L498.1,467.8 L501.6,470.0 L505.1,472.2 L508.6,474.4 L512.1,476.6 L515.7,478.8 L519.2,480.9 L522.7,483.1 L526.2,485.2 L529.8,487.4 L533.3,489.5 L536.8,491.7 L540.3,493.8 L543.8,495.9 L547.4,498.0 L550.9,500.1 L554.4,502.2 L557.9,504.2 L561.4,506.3 L565.0,508.3 L568.5,510.4 L572.0,512.4 L575.5,514.4 L579.1,516.4 L582.6,518.4 L586.1,520.4 L589.6,522.4 L593.1,524.3 L596.7,526.3 L600.2,528.2 L603.7,530.1 L607.2,532.1 L610.7,534.0 L614.3,535.9 L617.8,537.8 L621.3,539.7 L624.8,541.6 L628.3,543.5 L631.9,545.4 L635.4,547.3 L638.9,549.1 L642.4,551.0 L646.0,552.9 L649.5,554.8 L653.0,556.6 L656.5,558.5 L660.0,560.3 L663.6,562.1 L667.1,563.9 L670.6,565.7 L674.1,567.5 L677.6,569.3 L681.2,571.0 L684.7,572.8 L688.2,574.6 L691.7,576.3 L695.3,578.1 L698.8,579.8 L702.3,581.6 L705.8,583.3 L709.3,585.0 L712.9,586.7 L716.4,588.4 L719.9,590.1 L723.4,591.7 L726.9,593.3 L730.5,594.9 L734.0,596.4 L737.5,598.0 L741.0,599.5 L744.6,601.0 L748.1,602.5 L751.6,603.9 L755.1,605.4 L758.6,606.8 L762.2,608.2 L765.7,609.6 L769.2,611.0 L772.7,612.4 L776.2,613.7 L777.6,614.3" stroke="#A5609D"/>
<path d="M17.1,133.9 L19.9,153.3 L22.7,172.2 L25.5,190.2 L28.3,206.8 L31.1,221.7 L34.0,235.2 L36.8,247.3 L39.6,258.3 L42.4,268.3 L45.2,277.7 L48.0,286.4 L50.9,294.4 L53.7,301.6 L56.5,308.0 L59.3,313.6 L62.1,318.4 L64.9,322.3 L67.8,325.2 L70.6,327.3 L73.4,328.5 L76.2,328.9 L79.0,328.5 L81.9,327.5 L84.7,325.8 L87.5,323.6 L90.3,320.8 L93.1,317.6 L95.9,314.1 L98.8,310.2 L101.6,306.1 L104.4,301.8 L107.2,297.4 L110.0,292.9 L112.8,288.5 L115.7,284.2 L118.5,280.1 L121.3,276.1 L124.1,272.4 L126.9,268.9 L129.7,265.6 L132.6,262.6 L135.4,259.9 L138.2,257.4 L141.0,255.2 L143.8,253.3 L146.6,251.6 L149.5,250.1 L152.3,249.0 L155.1,248.1 L157.9,247.4 L160.7,247.0 L163.5,246.9 L167.1,247.0 L170.6,247.4 L174.1,248.0 L177.6,248.8 L181.2,249.9 L184.7,251.1 L188.2,252.6 L191.7,254.2 L195.2,256.0 L198.8,257.9 L202.3,259.9 L205.8,262.0 L209.3,264.2 L212.8,266.5 L216.4,268.9 L219.9,271.3 L223.4,273.7 L226.9,276.1 L230.4,278.6 L234.0,281.0 L237.5,283.5 L241.0,285.9 L244.5,288.3 L248.1,290.7 L251.6,293.1 L255.1,295.6 L258.6,298.0 L262.1,300.6 L265.7,303.2 L269.2,305.8 L272.7,308.5 L276.2,311.2 L279.7,313.8 L283.3,316.5 L286.8,319.1 L290.3,321.8 L293.8,324.4 L297.4,327.0 L300.9,329.6 L304.4,332.1 L307.9,334.7 L311.4,337.2 L315.0,339.8 L318.5,342.3 L322.0,344.8 L325.5,347.2 L329.0,349.6 L332.6,351.9 L336.1,354.2 L339.6,356.5 L343.1,358.8 L346.6,361.2 L350.2,363.7 L353.7,366.2 L357.2,368.8 L360.7,371.4 L364.3,374.1 L367.8,376.8 L371.3,379.5 L374.8,382.3 L378.3,385.1 L381.9,387.9 L385.4,390.8 L388.9,393.7 L392.4,396.6 L395.9,399.4 L399.5,402.3 L403.0,405.1 L406.5,407.9 L410.0,410.7 L413.6,413.4 L417.1,416.1 L420.6,418.6 L424.1,421.1 L427.6,423.5 L431.2,425.8 L434.7,428.0 L438.2,430.2 L441.7,432.3 L445.2,434.3 L448.8,436.4 L452.3,438.4 L455.8,440.5 L459.3,442.6 L462.9,444.7 L466.4,446.8 L469.9,449.0 L473.4,451.1 L476.9,453.2 L480.5,455.4 L484.0,457.5 L487.5,459.6 L491.0,461.7 L494.5,463.9 L498.1,466.0 L501.6,468.1 L505.1,470.2 L508.6,472.3 L512.1,474.4 L515.7,476.4 L519.2,478.5 L522.7,480.6 L526.2,482.6 L529.8,484.7 L533.3,486.7 L536.8,488.7 L540.3,490.7 L543.8,492.7 L547.4,494.7 L550.9,496.7 L554.4,498.6 L557.9,500.6 L561.4,502.5 L565.0,504.5 L568.5,506.4 L572.0,508.3 L575.5,510.2 L579.1,512.0 L582.6,513.9 L586.1,515.8 L589.6,517.6 L593.1,519.4 L596.7,521.2 L600.2,523.0 L603.7,524.8 L607.2,526.6 L610.7,528.4 L614.3,530.1 L617.8,531.9 L621.3,533.6 L624.8,535.4 L628.3,537.1 L631.9,538.8 L635.4,540.5 L638.9,542.2 L642.4,543.9 L646.0,545.6 L649.5,547.3 L653.0,549.0 L656.5,550.7 L660.0,552.3 L663.6,554.0 L667.1,555.6 L670.6,557.3 L674.1,559.0 L677.6,560.6 L681.2,562.3 L684.7,564.0 L688.2,565.6 L691.7,567.3 L695.3,569.0 L698.8,570.7 L702.3,572.4 L705.8,574.1 L709.3,575.7 L712.9,577.4 L716.4,579.0 L719.9,580.7 L723.4,582.2 L726.9,583.8 L730.5,585.4 L734.0,586.9 L737.5,588.4 L741.0,589.9 L744.6,591.4 L748.1,592.9 L751.6,594.4 L755.1,595.8 L758.6,597.2 L762.2,598.7 L765.7,600.1 L769.2,601.5 L772.7,602.9 L776.2,604.3 L777.6,604.9" stroke="#929600"/>
<path d="M17.1,132.0 L19.9,151.5 L22.7,170.7 L25.5,188.9 L28.3,205.7 L31.1,220.8 L34.0,234.4 L36.8,246.6 L39.6,257.7 L42.4,267.8 L45.2,277.3 L48.0,286.0 L50.9,294.1 L53.7,301.4 L56.5,307.8 L59.3,313.5 L62.1,318.3 L64.9,322.2 L67.8,325.2 L70.6,327.2 L73.4,328.5 L76.2,328.9 L79.0,328.5 L81.9,327.5 L84.7,325.8 L87.5,323.6 L90.3,320.8 L93.1,317.6 L95.9,314.1 L98.8,310.2 L101.6,306.1 L104.4,301.8 L107.2,297.4 L110.0,292.9 L112.8,288.5 L115.7,284.2 L118.5,280.0 L121.3,276.1 L124.1,272.4 L126.9,268.9 L129.7,265.6 L132.6,262.6 L135.4,259.9 L138.2,257.4 L141.0,255.2 L143.8,253.2 L146.6,251.6 L149.5,250.1 L152.3,249.0 L155.1,248.1 L157.9,247.4 L160.7,247.0 L163.5,246.9 L167.1,247.0 L170.6,247.4 L174.1,248.0 L177.6,248.8 L181.2,249.9 L184.7,251.2 L188.2,252.7 L191.7,254.3 L195.2,256.1 L198.8,258.1 L202.3,260.1 L205.8,262.3 L209.3,264.6 L212.8,266.9 L216.4,269.3 L219.9,271.7 L223.4,274.2 L226.9,276.7 L230.4,279.1 L234.0,281.6 L237.5,284.1 L241.0,286.6 L244.5,289.0 L248.1,291.5 L251.6,293.9 L255.1,296.4 L258.6,298.9 L262.1,301.4 L265.7,304.1 L269.2,306.7 L272.7,309.4 L276.2,312.1 L279.7,314.8 L283.3,317.4 L286.8,320.1 L290.3,322.7 L293.8,325.3 L297.4,327.9 L300.9,330.5 L304.4,333.1 L307.9,335.6 L311.4,338.2 L315.0,340.7 L318.5,343.2 L322.0,345.7 L325.5,348.1 L329.0,350.5 L332.6,352.8 L336.1,355.1 L339.6,357.4 L343.1,359.7 L346.6,362.1 L350.2,364.5 L353.7,367.0 L357.2,369.6 L360.7,372.2 L364.3,374.8 L367.8,377.5 L371.3,380.2 L374.8,383.0 L378.3,385.8 L381.9,388.6 L385.4,391.4 L388.9,394.3 L392.4,397.2 L395.9,400.0 L399.5,402.9 L403.0,405.7 L406.5,408.5 L410.0,411.2 L413.6,413.9 L417.1,416.5 L420.6,419.0 L424.1,421.5 L427.6,423.8 L431.2,425.9 L434.7,428.0 L438.2,430.0 L441.7,432.0 L445.2,433.9 L448.8,435.9 L452.3,437.8 L455.8,439.7 L459.3,441.7 L462.9,443.8 L466.4,445.8 L469.9,447.9 L473.4,449.9 L476.9,452.0 L480.5,454.0 L484.0,456.1 L487.5,458.1 L491.0,460.1 L494.5,462.1 L498.1,464.2 L501.6,466.2 L505.1,468.2 L508.6,470.2 L512.1,472.2 L515.7,474.2 L519.2,476.1 L522.7,478.1 L526.2,480.0 L529.8,482.0 L533.3,483.9 L536.8,485.8 L540.3,487.7 L543.8,489.6 L547.4,491.5 L550.9,493.4 L554.4,495.2 L557.9,497.0 L561.4,498.9 L565.0,500.7 L568.5,502.5 L572.0,504.3 L575.5,506.0 L579.1,507.8 L582.6,509.5 L586.1,511.3 L589.6,513.0 L593.1,514.7 L596.7,516.4 L600.2,518.1 L603.7,519.7 L607.2,521.4 L610.7,523.0 L614.3,524.6 L617.8,526.2 L621.3,527.8 L624.8,529.4 L628.3,531.0 L631.9,532.6 L635.4,534.1 L638.9,535.7 L642.4,537.2 L646.0,538.7 L649.5,540.3 L653.0,541.8 L656.5,543.3 L660.0,544.8 L663.6,546.3 L667.1,547.8 L670.6,549.4 L674.1,550.9 L677.6,552.4 L681.2,553.9 L684.7,555.5 L688.2,557.0 L691.7,558.5 L695.3,560.1 L698.8,561.6 L702.3,563.2 L705.8,564.8 L709.3,566.3 L712.9,567.8 L716.4,569.4 L719.9,570.9 L723.4,572.4 L726.9,573.9 L730.5,575.3 L734.0,576.8 L737.5,578.2 L741.0,579.7 L744.6,581.1 L748.1,582.5 L751.6,583.9 L755.1,585.3 L758.6,586.7 L762.2,588.1 L765.7,589.5 L769.2,590.9 L772.7,592.3 L776.2,593.8 L777.6,594.3" stroke="#E95536"/>
<path d="M17.1,130.0 L19.9,149.8 L22.7,169.2 L25.5,187.6 L28.3,204.6 L31.1,219.9 L34.0,233.5 L36.8,245.9 L39.6,257.1 L42.4,267.3 L45.2,276.8 L48.0,285.7 L50.9,293.8 L53.7,301.1 L56.5,307.7 L59.3,313.4 L62.1,318.2 L64.9,322.2 L67.8,325.1 L70.6,327.2 L73.4,328.5 L76.2,328.9 L79.0,328.5 L81.9,327.5 L84.7,325.8 L87.5,323.6 L90.3,320.8 L93.1,317.6 L95.9,314.0 L98.8,310.2 L101.6,306.0 L104.4,301.7 L107.2,297.3 L110.0,292.9 L112.8,288.4 L115.7,284.1 L118.5,280.0 L121.3,276.0 L124.1,272.3 L126.9,268.8 L129.7,265.6 L132.6,262.6 L135.4,259.9 L138.2,257.4 L141.0,255.2 L143.8,253.2 L146.6,251.6 L149.5,250.1 L152.3,249.0 L155.1,248.1 L157.9,247.4 L160.7,247.0 L163.5,246.9 L167.1,247.0 L170.6,247.4 L174.1,248.0 L177.6,248.9 L181.2,250.0 L184.7,251.3 L188.2,252.8 L191.7,254.5 L195.2,256.3 L198.8,258.3 L202.3,260.4 L205.8,262.6 L209.3,264.9 L212.8,267.3 L216.4,269.7 L219.9,272.2 L223.4,274.7 L226.9,277.2 L230.4,279.7 L234.0,282.2 L237.5,284.7 L241.0,287.2 L244.5,289.7 L248.1,292.2 L251.6,294.7 L255.1,297.2 L258.6,299.7 L262.1,302.3 L265.7,304.9 L269.2,307.6 L272.7,310.3 L276.2,313.0 L279.7,315.6 L283.3,318.3 L286.8,321.0 L290.3,323.6 L293.8,326.2 L297.4,328.8 L300.9,331.4 L304.4,334.0 L307.9,336.6 L311.4,339.1 L315.0,341.6 L318.5,344.1 L322.0,346.5 L325.5,349.0 L329.0,351.3 L332.6,353.6 L336.1,355.9 L339.6,358.2 L343.1,360.6 L346.6,362.9 L350.2,365.3 L353.7,367.8 L357.2,370.3 L360.7,372.9 L364.3,375.5 L367.8,378.2 L371.3,380.9 L374.8,383.6 L378.3,386.4 L381.9,389.2 L385.4,392.0 L388.9,394.8 L392.4,397.7 L395.9,400.5 L399.5,403.3 L403.0,406.1 L406.5,408.9 L410.0,411.6 L413.6,414.3 L417.1,416.9 L420.6,419.4 L424.1,421.7 L427.6,423.9 L431.2,426.0 L434.7,428.0 L438.2,429.8 L441.7,431.7 L445.2,433.5 L448.8,435.3 L452.3,437.1 L455.8,439.0 L459.3,440.9 L462.9,442.8 L466.4,444.8 L469.9,446.7 L473.4,448.7 L476.9,450.7 L480.5,452.7 L484.0,454.6 L487.5,456.6 L491.0,458.5 L494.5,460.5 L498.1,462.4 L501.6,464.3 L505.1,466.2 L508.6,468.1 L512.1,470.0 L515.7,471.9 L519.2,473.8 L522.7,475.7 L526.2,477.5 L529.8,479.4 L533.3,481.2 L536.8,483.0 L540.3,484.8 L543.8,486.6 L547.4,488.4 L550.9,490.1 L554.4,491.9 L557.9,493.6 L561.4,495.3 L565.0,497.0 L568.5,498.7 L572.0,500.4 L575.5,502.0 L579.1,503.7 L582.6,505.3 L586.1,506.9 L589.6,508.5 L593.1,510.1 L596.7,511.7 L600.2,513.2 L603.7,514.8 L607.2,516.3 L610.7,517.8 L614.3,519.3 L617.8,520.8 L621.3,522.3 L624.8,523.7 L628.3,525.2 L631.9,526.6 L635.4,528.0 L638.9,529.4 L642.4,530.8 L646.0,532.2 L649.5,533.6 L653.0,535.0 L656.5,536.4 L660.0,537.7 L663.6,539.1 L667.1,540.5 L670.6,541.8 L674.1,543.2 L677.6,544.6 L681.2,545.9 L684.7,547.3 L688.2,548.7 L691.7,550.0 L695.3,551.4 L698.8,552.8 L702.3,554.2 L705.8,555.6 L709.3,557.0 L712.9,558.3 L716.4,559.7 L719.9,561.1 L723.4,562.4 L726.9,563.8 L730.5,565.1 L734.0,566.4 L737.5,567.8 L741.0,569.1 L744.6,570.4 L748.1,571.7 L751.6,573.1 L755.1,574.4 L758.6,575.7 L762.2,577.1 L765.7,578.4 L769.2,579.8 L772.7,581.1 L776.2,582.5 L777.6,583.1" stroke="#6685D9"/>
<path d="M17.1,128.1 L19.9,148.1 L22.7,167.7 L25.5,186.3 L28.3,203.5 L31.1,218.9 L34.0,232.7 L36.8,245.2 L39.6,256.5 L42.4,266.8 L45.2,276.4 L48.0,285.3 L50.9,293.5 L53.7,300.9 L56.5,307.5 L59.3,313.3 L62.1,318.1 L64.9,322.1 L67.8,325.1 L70.6,327.2 L73.4,328.5 L76.2,328.9 L79.0,328.5 L81.9,327.5 L84.7,325.8 L87.5,323.5 L90.3,320.8 L93.1,317.6 L95.9,314.0 L98.8,310.1 L101.6,306.0 L104.4,301.7 L107.2,297.3 L110.0,292.8 L112.8,288.4 L115.7,284.1 L118.5,279.9 L121.3,276.0 L124.1,272.3 L126.9,268.8 L129.7,265.6 L132.6,262.6 L135.4,259.9 L138.2,257.4 L141.0,255.2 L143.8,253.2 L146.6,251.6 L149.5,250.1 L152.3,249.0 L155.1,248.1 L157.9,247.4 L160.7,247.0 L163.5,246.9 L167.1,247.0 L170.6,247.4 L174.1,248.0 L177.6,248.9 L181.2,250.0 L184.7,251.4 L188.2,252.9 L191.7,254.6 L195.2,256.5 L198.8,258.5 L202.3,260.6 L205.8,262.9 L209.3,265.2 L212.8,267.6 L216.4,270.1 L219.9,272.6 L223.4,275.1 L226.9,277.7 L230.4,280.3 L234.0,282.8 L237.5,285.3 L241.0,287.9 L244.5,290.4 L248.1,292.9 L251.6,295.4 L255.1,297.9 L258.6,300.5 L262.1,303.1 L265.7,305.7 L269.2,308.4 L272.7,311.1 L276.2,313.8 L279.7,316.5 L283.3,319.2 L286.8,321.9 L290.3,324.5 L293.8,327.1 L297.4,329.7 L300.9,332.3 L304.4,334.9 L307.9,337.4 L311.4,340.0 L315.0,342.5 L318.5,345.0 L322.0,347.4 L325.5,349.8 L329.0,352.2 L332.6,354.5 L336.1,356.8 L339.6,359.0 L343.1,361.3 L346.6,363.6 L350.2,366.0 L353.7,368.5 L357.2,371.0 L360.7,373.6 L364.3,376.2 L367.8,378.8 L371.3,381.5 L374.8,384.2 L378.3,386.9 L381.9,389.7 L385.4,392.5 L388.9,395.3 L392.4,398.1 L395.9,400.9 L399.5,403.6 L403.0,406.4 L406.5,409.1 L410.0,411.8 L413.6,414.5 L417.1,417.0 L420.6,419.5 L424.1,421.8 L427.6,423.9 L431.2,425.9 L434.7,427.7 L438.2,429.5 L441.7,431.2 L445.2,432.9 L448.8,434.6 L452.3,436.3 L455.8,438.1 L459.3,440.0 L462.9,441.8 L466.4,443.7 L469.9,445.7 L473.4,447.6 L476.9,449.4 L480.5,451.3 L484.0,453.2 L487.5,455.1 L491.0,457.0 L494.5,458.8 L498.1,460.7 L501.6,462.5 L505.1,464.3 L508.6,466.1 L512.1,467.9 L515.7,469.7 L519.2,471.5 L522.7,473.3 L526.2,475.1 L529.8,476.8 L533.3,478.5 L536.8,480.3 L540.3,482.0 L543.8,483.6 L547.4,485.3 L550.9,487.0 L554.4,488.6 L557.9,490.3 L561.4,491.9 L565.0,493.5 L568.5,495.1 L572.0,496.6 L575.5,498.2 L579.1,499.7 L582.6,501.2 L586.1,502.7 L589.6,504.2 L593.1,505.7 L596.7,507.1 L600.2,508.6 L603.7,510.0 L607.2,511.4 L610.7,512.8 L614.3,514.2 L617.8,515.6 L621.3,516.9 L624.8,518.3 L628.3,519.6 L631.9,520.9 L635.4,522.2 L638.9,523.5 L642.4,524.8 L646.0,526.0 L649.5,527.3 L653.0,528.5 L656.5,529.8 L660.0,531.0 L663.6,532.2 L667.1,533.4 L670.6,534.7 L674.1,535.9 L677.6,537.1 L681.2,538.3 L684.7,539.5 L688.2,540.7 L691.7,541.9 L695.3,543.1 L698.8,544.3 L702.3,545.5 L705.8,546.7 L709.3,547.9 L712.9,549.1 L716.4,550.3 L719.9,551.5 L723.4,552.7 L726.9,553.9 L730.5,555.1 L734.0,556.2 L737.5,557.4 L741.0,558.6 L744.6,559.8 L748.1,561.0 L751.6,562.2 L755.1,563.4 L758.6,564.7 L762.2,565.9 L765.7,567.1 L769.2,568.4 L772.7,569.7 L776.2,571.0 L777.6,571.5" stroke="#F89F13"/>
<path d="M17.1,126.2 L19.9,146.4 L22.7,166.2 L25.5,185.0 L28.3,202.4 L31.1,218.0 L34.0,231.9 L36.8,244.5 L39.6,255.9 L42.4,266.3 L45.2,275.9 L48.0,284.9 L50.9,293.2 L53.7,300.6 L56.5,307.3 L59.3,313.1 L62.1,318.1 L64.9,322.1 L67.8,325.1 L70.6,327.2 L73.4,328.5 L76.2,328.9 L79.0,328.6 L81.9,327.5 L84.7,325.8 L87.5,323.5 L90.3,320.8 L93.1,317.6 L95.9,314.0 L98.8,310.1 L101.6,306.0 L104.4,301.7 L107.2,297.2 L110.0,292.8 L112.8,288.3 L115.7,284.0 L118.5,279.9 L121.3,276.0 L124.1,272.3 L126.9,268.8 L129.7,265.6 L132.6,262.6 L135.4,259.8 L138.2,257.4 L141.0,255.2 L143.8,253.2 L146.6,251.6 L149.5,250.1 L152.3,249.0 L155.1,248.1 L157.9,247.4 L160.7,247.0 L163.5,246.9 L167.1,247.0 L170.6,247.4 L174.1,248.1 L177.6,249.0 L181.2,250.1 L184.7,251.5 L188.2,253.0 L191.7,254.8 L195.2,256.7 L198.8,258.7 L202.3,260.9 L205.8,263.2 L209.3,265.5 L212.8,268.0 L216.4,270.5 L219.9,273.0 L223.4,275.6 L226.9,278.2 L230.4,280.8 L234.0,283.4 L237.5,286.0 L241.0,288.5 L244.5,291.1 L248.1,293.6 L251.6,296.1 L255.1,298.6 L258.6,301.2 L262.1,303.8 L265.7,306.5 L269.2,309.2 L272.7,312.0 L276.2,314.7 L279.7,317.4 L283.3,320.1 L286.8,322.7 L290.3,325.4 L293.8,328.0 L297.4,330.6 L300.9,333.2 L304.4,335.8 L307.9,338.3 L311.4,340.8 L315.0,343.3 L318.5,345.8 L322.0,348.3 L325.5,350.7 L329.0,353.0 L332.6,355.3 L336.1,357.5 L339.6,359.8 L343.1,362.0 L346.6,364.3 L350.2,366.7 L353.7,369.2 L357.2,371.7 L360.7,374.2 L364.3,376.8 L367.8,379.4 L371.3,382.0 L374.8,384.7 L378.3,387.4 L381.9,390.2 L385.4,392.9 L388.9,395.6 L392.4,398.4 L395.9,401.1 L399.5,403.8 L403.0,406.5 L406.5,409.2 L410.0,411.8 L413.6,414.4 L417.1,416.8 L420.6,419.2 L424.1,421.4 L427.6,423.5 L431.2,425.4 L434.7,427.2 L438.2,428.9 L441.7,430.6 L445.2,432.2 L448.8,433.9 L452.3,435.5 L455.8,437.2 L459.3,439.0 L462.9,440.9 L466.4,442.7 L469.9,444.6 L473.4,446.4 L476.9,448.2 L480.5,450.0 L484.0,451.8 L487.5,453.6 L491.0,455.4 L494.5,457.2 L498.1,458.9 L501.6,460.7 L505.1,462.4 L508.6,464.2 L512.1,465.9 L515.7,467.6 L519.2,469.3 L522.7,471.0 L526.2,472.7 L529.8,474.3 L533.3,475.9 L536.8,477.6 L540.3,479.2 L543.8,480.8 L547.4,482.4 L550.9,483.9 L554.4,485.5 L557.9,487.0 L561.4,488.5 L565.0,490.0 L568.5,491.5 L572.0,493.0 L575.5,494.4 L579.1,495.9 L582.6,497.3 L586.1,498.7 L589.6,500.1 L593.1,501.4 L596.7,502.8 L600.2,504.1 L603.7,505.4 L607.2,506.7 L610.7,508.0 L614.3,509.3 L617.8,510.5 L621.3,511.8 L624.8,513.0 L628.3,514.2 L631.9,515.4 L635.4,516.6 L638.9,517.8 L642.4,518.9 L646.0,520.1 L649.5,521.2 L653.0,522.4 L656.5,523.5 L660.0,524.6 L663.6,525.7 L667.1,526.8 L670.6,527.8 L674.1,528.9 L677.6,530.0 L681.2,531.0 L684.7,532.1 L688.2,533.1 L691.7,534.2 L695.3,535.2 L698.8,536.2 L702.3,537.3 L705.8,538.3 L709.3,539.3 L712.9,540.3 L716.4,541.4 L719.9,542.4 L723.4,543.4 L726.9,544.5 L730.5,545.5 L734.0,546.5 L737.5,547.6 L741.0,548.6 L744.6,549.7 L748.1,550.7 L751.6,551.8 L755.1,552.9 L758.6,554.0 L762.2,555.1 L765.7,556.2 L769.2,557.4 L772.7,558.5 L776.2,559.7 L777.6,560.1" stroke="#BC5B80"/>
<path d="M17.1,124.2 L19.9,144.7 L22.7,164.7 L25.5,183.7 L28.3,201.3 L31.1,217.0 L34.0,231.1 L36.8,243.8 L39.6,255.2 L42.4,265.7 L45.2,275.5 L48.0,284.6 L50.9,292.9 L53.7,300.4 L56.5,307.1 L59.3,313.0 L62.1,318.0 L64.9,322.0 L67.8,325.1 L70.6,327.2 L73.4,328.5 L76.2,328.9 L79.0,328.6 L81.9,327.5 L84.7,325.8 L87.5,323.5 L90.3,320.8 L93.1,317.5 L95.9,314.0 L98.8,310.1 L101.6,305.9 L104.4,301.6 L107.2,297.2 L110.0,292.7 L112.8,288.3 L115.7,284.0 L118.5,279.9 L121.3,275.9 L124.1,272.2 L126.9,268.8 L129.7,265.5 L132.6,262.6 L135.4,259.8 L138.2,257.4 L141.0,255.2 L143.8,253.2 L146.6,251.5 L149.5,250.1 L152.3,249.0 L155.1,248.1 L157.9,247.4 L160.7,247.0 L163.5,246.9 L167.1,247.0 L170.6,247.4 L174.1,248.1 L177.6,249.0 L181.2,250.2 L184.7,251.5 L188.2,253.1 L191.7,254.9 L195.2,256.8 L198.8,258.9 L202.3,261.1 L205.8,263.4 L209.3,265.8 L212.8,268.3 L216.4,270.9 L219.9,273.5 L223.4,276.1 L226.9,278.7 L230.4,281.3 L234.0,283.9 L237.5,286.5 L241.0,289.1 L244.5,291.7 L248.1,294.3 L251.6,296.8 L255.1,299.4 L258.6,302.0 L262.1,304.6 L265.7,307.3 L269.2,310.0 L272.7,312.8 L276.2,315.5 L279.7,318.2 L283.3,320.9 L286.8,323.6 L290.3,326.2 L293.8,328.8 L297.4,331.4 L300.9,334.0 L304.4,336.6 L307.9,339.1 L311.4,341.7 L315.0,344.2 L318.5,346.6 L322.0,349.1 L325.5,351.4 L329.0,353.8 L332.6,356.1 L336.1,358.3 L339.6,360.5 L343.1,362.8 L346.6,365.1 L350.2,367.4 L353.7,369.8 L357.2,372.3 L360.7,374.8 L364.3,377.3 L367.8,379.9 L371.3,382.5 L374.8,385.2 L378.3,387.9 L381.9,390.5 L385.4,393.2 L388.9,395.9 L392.4,398.6 L395.9,401.3 L399.5,403.9 L403.0,406.5 L406.5,409.1 L410.0,411.6 L413.6,414.1 L417.1,416.4 L420.6,418.7 L424.1,420.8 L427.6,422.9 L431.2,424.8 L434.7,426.6 L438.2,428.3 L441.7,429.9 L445.2,431.5 L448.8,433.2 L452.3,434.8 L455.8,436.5 L459.3,438.2 L462.9,439.9 L466.4,441.7 L469.9,443.5 L473.4,445.2 L476.9,447.0 L480.5,448.7 L484.0,450.5 L487.5,452.2 L491.0,453.9 L494.5,455.6 L498.1,457.3 L501.6,458.9 L505.1,460.6 L508.6,462.3 L512.1,463.9 L515.7,465.5 L519.2,467.1 L522.7,468.7 L526.2,470.3 L529.8,471.9 L533.3,473.4 L536.8,475.0 L540.3,476.5 L543.8,478.0 L547.4,479.5 L550.9,480.9 L554.4,482.4 L557.9,483.8 L561.4,485.3 L565.0,486.7 L568.5,488.1 L572.0,489.4 L575.5,490.8 L579.1,492.1 L582.6,493.4 L586.1,494.7 L589.6,496.0 L593.1,497.3 L596.7,498.5 L600.2,499.8 L603.7,501.0 L607.2,502.2 L610.7,503.4 L614.3,504.5 L617.8,505.7 L621.3,506.8 L624.8,508.0 L628.3,509.1 L631.9,510.2 L635.4,511.2 L638.9,512.3 L642.4,513.3 L646.0,514.4 L649.5,515.4 L653.0,516.4 L656.5,517.4 L660.0,518.4 L663.6,519.4 L667.1,520.4 L670.6,521.3 L674.1,522.3 L677.6,523.2 L681.2,524.1 L684.7,525.0 L688.2,526.0 L691.7,526.9 L695.3,527.8 L698.8,528.7 L702.3,529.5 L705.8,530.4 L709.3,531.3 L712.9,532.2 L716.4,533.1 L719.9,534.0 L723.4,534.9 L726.9,535.7 L730.5,536.6 L734.0,537.5 L737.5,538.4 L741.0,539.3 L744.6,540.3 L748.1,541.2 L751.6,542.1 L755.1,543.1 L758.6,544.0 L762.2,545.0 L765.7,546.0 L769.2,547.0 L772.7,548.0 L776.2,549.0 L777.6,549.5" stroke="#47B66D"/>
<path d="M17.1,122.3 L19.9,142.9 L22.7,163.2 L25.5,182.4 L28.3,200.2 L31.1,216.1 L34.0,230.3 L36.8,243.1 L39.6,254.6 L42.4,265.2 L45.2,275.1 L48.0,284.2 L50.9,292.6 L53.7,300.2 L56.5,307.0 L59.3,312.9 L62.1,317.9 L64.9,322.0 L67.8,325.0 L70.6,327.2 L73.4,328.5 L76.2,328.9 L79.0,328.6 L81.9,327.5 L84.7,325.8 L87.5,323.5 L90.3,320.7 L93.1,317.5 L95.9,313.9 L98.8,310.0 L101.6,305.9 L104.4,301.6 L107.2,297.1 L110.0,292.7 L112.8,288.3 L115.7,284.0 L118.5,279.8 L121.3,275.9 L124.1,272.2 L126.9,268.7 L129.7,265.5 L132.6,262.5 L135.4,259.8 L138.2,257.4 L141.0,255.2 L143.8,253.2 L146.6,251.5 L149.5,250.1 L152.3,249.0 L155.1,248.1 L157.9,247.4 L160.7,247.0 L163.5,246.9 L167.1,247.0 L170.6,247.4 L174.1,248.1 L177.6,249.0 L181.2,250.2 L184.7,251.6 L188.2,253.2 L191.7,255.0 L195.2,257.0 L198.8,259.1 L202.3,261.3 L205.8,263.7 L209.3,266.1 L212.8,268.7 L216.4,271.2 L219.9,273.9 L223.4,276.5 L226.9,279.2 L230.4,281.8 L234.0,284.5 L237.5,287.1 L241.0,289.7 L244.5,292.3 L248.1,294.9 L251.6,297.5 L255.1,300.1 L258.6,302.7 L262.1,305.4 L265.7,308.1 L269.2,310.8 L272.7,313.5 L276.2,316.3 L279.7,319.0 L283.3,321.7 L286.8,324.4 L290.3,327.0 L293.8,329.7 L297.4,332.3 L300.9,334.9 L304.4,337.4 L307.9,340.0 L311.4,342.5 L315.0,345.0 L318.5,347.4 L322.0,349.8 L325.5,352.2 L329.0,354.5 L332.6,356.8 L336.1,359.0 L339.6,361.3 L343.1,363.5 L346.6,365.8 L350.2,368.1 L353.7,370.5 L357.2,372.9 L360.7,375.4 L364.3,377.9 L367.8,380.4 L371.3,383.0 L374.8,385.6 L378.3,388.2 L381.9,390.9 L385.4,393.5 L388.9,396.1 L392.4,398.7 L395.9,401.3 L399.5,403.9 L403.0,406.4 L406.5,408.9 L410.0,411.4 L413.6,413.7 L417.1,416.0 L420.6,418.2 L424.1,420.2 L427.6,422.2 L431.2,424.1 L434.7,425.9 L438.2,427.6 L441.7,429.2 L445.2,430.8 L448.8,432.4 L452.3,434.0 L455.8,435.7 L459.3,437.3 L462.9,439.0 L466.4,440.7 L469.9,442.4 L473.4,444.1 L476.9,445.8 L480.5,447.4 L484.0,449.1 L487.5,450.7 L491.0,452.4 L494.5,454.0 L498.1,455.6 L501.6,457.2 L505.1,458.8 L508.6,460.4 L512.1,461.9 L515.7,463.5 L519.2,465.0 L522.7,466.5 L526.2,468.0 L529.8,469.5 L533.3,471.0 L536.8,472.4 L540.3,473.8 L543.8,475.3 L547.4,476.7 L550.9,478.1 L554.4,479.4 L557.9,480.8 L561.4,482.1 L565.0,483.4 L568.5,484.7 L572.0,486.0 L575.5,487.3 L579.1,488.5 L582.6,489.7 L586.1,490.9 L589.6,492.1 L593.1,493.3 L596.7,494.4 L600.2,495.6 L603.7,496.7 L607.2,497.8 L610.7,498.9 L614.3,500.0 L617.8,501.0 L621.3,502.1 L624.8,503.1 L628.3,504.1 L631.9,505.1 L635.4,506.1 L638.9,507.0 L642.4,508.0 L646.0,508.9 L649.5,509.8 L653.0,510.7 L656.5,511.6 L660.0,512.5 L663.6,513.4 L667.1,514.2 L670.6,515.1 L674.1,515.9 L677.6,516.7 L681.2,517.6 L684.7,518.4 L688.2,519.2 L691.7,520.0 L695.3,520.7 L698.8,521.5 L702.3,522.3 L705.8,523.1 L709.3,523.8 L712.9,524.6 L716.4,525.4 L719.9,526.1 L723.4,526.9 L726.9,527.6 L730.5,528.4 L734.0,529.2 L737.5,530.0 L741.0,530.7 L744.6,531.5 L748.1,532.3 L751.6,533.1 L755.1,533.9 L758.6,534.7 L762.2,535.6 L765.7,536.4 L769.2,537.2 L772.7,538.1 L776.2,539.0 L777.6,539.4" stroke="#5E81B5"/>
<path d="M17.1,120.3 L19.9,141.2 L22.7,161.7 L25.5,181.1 L28.3,199.1 L31.1,215.2 L34.0,229.5 L36.8,242.4 L39.6,254.0 L42.4,264.7 L45.2,274.6 L48.0,283.8 L50.9,292.3 L53.7,299.9 L56.5,306.8 L59.3,312.8 L62.1,317.8 L64.9,321.9 L67.8,325.0 L70.6,327.2 L73.4,328.5 L76.2,328.9 L79.0,328.6 L81.9,327.5 L84.7,325.8 L87.5,323.5 L90.3,320.7 L93.1,317.5 L95.9,313.9 L98.8,310.0 L101.6,305.9 L104.4,301.5 L107.2,297.1 L110.0,292.6 L112.8,288.2 L115.7,283.9 L118.5,279.8 L121.3,275.9 L124.1,272.2 L126.9,268.7 L129.7,265.5 L132.6,262.5 L135.4,259.8 L138.2,257.3 L141.0,255.1 L143.8,253.2 L146.6,251.5 L149.5,250.1 L152.3,249.0 L155.1,248.1 L157.9,247.4 L160.7,247.0 L163.5,246.9 L167.1,247.0 L170.6,247.4 L174.1,248.1 L177.6,249.1 L181.2,250.3 L184.7,251.7 L188.2,253.3 L191.7,255.2 L195.2,257.1 L198.8,259.3 L202.3,261.6 L205.8,263.9 L209.3,266.4 L212.8,269.0 L216.4,271.6 L219.9,274.3 L223.4,276.9 L226.9,279.6 L230.4,282.3 L234.0,285.0 L237.5,287.7 L241.0,290.3 L244.5,293.0 L248.1,295.6 L251.6,298.2 L255.1,300.8 L258.6,303.4 L262.1,306.1 L265.7,308.8 L269.2,311.6 L272.7,314.3 L276.2,317.1 L279.7,319.8 L283.3,322.5 L286.8,325.2 L290.3,327.8 L293.8,330.5 L297.4,333.1 L300.9,335.7 L304.4,338.2 L307.9,340.7 L311.4,343.3 L315.0,345.7 L318.5,348.2 L322.0,350.6 L325.5,353.0 L329.0,355.3 L332.6,357.5 L336.1,359.8 L339.6,362.0 L343.1,364.2 L346.6,366.4 L350.2,368.7 L353.7,371.1 L357.2,373.5 L360.7,375.9 L364.3,378.4 L367.8,380.9 L371.3,383.5 L374.8,386.0 L378.3,388.6 L381.9,391.2 L385.4,393.7 L388.9,396.3 L392.4,398.8 L395.9,401.4 L399.5,403.9 L403.0,406.3 L406.5,408.7 L410.0,411.1 L413.6,413.3 L417.1,415.5 L420.6,417.6 L424.1,419.7 L427.6,421.6 L431.2,423.4 L434.7,425.2 L438.2,426.9 L441.7,428.5 L445.2,430.1 L448.8,431.7 L452.3,433.3 L455.8,434.8 L459.3,436.5 L462.9,438.1 L466.4,439.7 L469.9,441.3 L473.4,443.0 L476.9,444.6 L480.5,446.2 L484.0,447.8 L487.5,449.3 L491.0,450.9 L494.5,452.4 L498.1,454.0 L501.6,455.5 L505.1,457.0 L508.6,458.5 L512.1,460.0 L515.7,461.5 L519.2,462.9 L522.7,464.3 L526.2,465.8 L529.8,467.2 L533.3,468.6 L536.8,469.9 L540.3,471.3 L543.8,472.6 L547.4,473.9 L550.9,475.2 L554.4,476.5 L557.9,477.8 L561.4,479.0 L565.0,480.3 L568.5,481.5 L572.0,482.7 L575.5,483.8 L579.1,485.0 L582.6,486.1 L586.1,487.2 L589.6,488.3 L593.1,489.4 L596.7,490.5 L600.2,491.5 L603.7,492.6 L607.2,493.6 L610.7,494.6 L614.3,495.5 L617.8,496.5 L621.3,497.5 L624.8,498.4 L628.3,499.3 L631.9,500.2 L635.4,501.1 L638.9,501.9 L642.4,502.8 L646.0,503.6 L649.5,504.5 L653.0,505.3 L656.5,506.1 L660.0,506.9 L663.6,507.6 L667.1,508.4 L670.6,509.1 L674.1,509.9 L677.6,510.6 L681.2,511.3 L684.7,512.0 L688.2,512.7 L691.7,513.4 L695.3,514.1 L698.8,514.8 L702.3,515.5 L705.8,516.1 L709.3,516.8 L712.9,517.4 L716.4,518.1 L719.9,518.8 L723.4,519.4 L726.9,520.1 L730.5,520.7 L734.0,521.4 L737.5,522.0 L741.0,522.7 L744.6,523.3 L748.1,524.0 L751.6,524.7 L755.1,525.4 L758.6,526.0 L762.2,526.7 L765.7,527.4 L769.2,528.1 L772.7,528.8 L776.2,529.6 L777.6,529.9" stroke="#E19C24"/>
<path d="M17.1,118.4 L19.9,139.5 L22.7,160.2 L25.5,179.9 L28.3,198.0 L31.1,214.2 L34.0,228.7 L36.8,241.7 L39.6,253.4 L42.4,264.2 L45.2,274.2 L48.0,283.5 L50.9,292.0 L53.7,299.7 L56.5,306.6 L59.3,312.6 L62.1,317.7 L64.9,321.9 L67.8,325.0 L70.6,327.2 L73.4,328.5 L76.2,328.9 L79.0,328.6 L81.9,327.5 L84.7,325.8 L87.5,323.5 L90.3,320.7 L93.1,317.5 L95.9,313.9 L98.8,310.0 L101.6,305.8 L104.4,301.5 L107.2,297.1 L110.0,292.6 L112.8,288.2 L115.7,283.9 L118.5,279.8 L121.3,275.9 L124.1,272.2 L126.9,268.7 L129.7,265.5 L132.6,262.5 L135.4,259.8 L138.2,257.3 L141.0,255.1 L143.8,253.2 L146.6,251.5 L149.5,250.1 L152.3,249.0 L155.1,248.1 L157.9,247.4 L160.7,247.0 L163.5,246.9 L167.1,247.0 L170.6,247.4 L174.1,248.1 L177.6,249.1 L181.2,250.3 L184.7,251.8 L188.2,253.4 L191.7,255.3 L195.2,257.3 L198.8,259.5 L202.3,261.8 L205.8,264.2 L209.3,266.7 L212.8,269.3 L216.4,272.0 L219.9,274.6 L223.4,277.4 L226.9,280.1 L230.4,282.8 L234.0,285.5 L237.5,288.2 L241.0,290.9 L244.5,293.6 L248.1,296.2 L251.6,298.8 L255.1,301.4 L258.6,304.1 L262.1,306.8 L265.7,309.5 L269.2,312.3 L272.7,315.1 L276.2,317.8 L279.7,320.6 L283.3,323.3 L286.8,325.9 L290.3,328.6 L293.8,331.2 L297.4,333.8 L300.9,336.4 L304.4,339.0 L307.9,341.5 L311.4,344.0 L315.0,346.5 L318.5,348.9 L322.0,351.3 L325.5,353.7 L329.0,356.0 L332.6,358.3 L336.1,360.4 L339.6,362.6 L343.1,364.8 L346.6,367.0 L350.2,369.3 L353.7,371.7 L357.2,374.1 L360.7,376.5 L364.3,378.9 L367.8,381.4 L371.3,383.9 L374.8,386.4 L378.3,388.9 L381.9,391.4 L385.4,394.0 L388.9,396.5 L392.4,398.9 L395.9,401.4 L399.5,403.8 L403.0,406.2 L406.5,408.5 L410.0,410.8 L413.6,413.0 L417.1,415.1 L420.6,417.1 L424.1,419.1 L427.6,421.0 L431.2,422.8 L434.7,424.5 L438.2,426.2 L441.7,427.8 L445.2,429.4 L448.8,430.9 L452.3,432.5 L455.8,434.0 L459.3,435.6 L462.9,437.2 L466.4,438.7 L469.9,440.3 L473.4,441.9 L476.9,443.4 L480.5,444.9 L484.0,446.4 L487.5,447.9 L491.0,449.4 L494.5,450.9 L498.1,452.4 L501.6,453.8 L505.1,455.3 L508.6,456.7 L512.1,458.1 L515.7,459.5 L519.2,460.9 L522.7,462.2 L526.2,463.6 L529.8,464.9 L533.3,466.2 L536.8,467.5 L540.3,468.8 L543.8,470.0 L547.4,471.3 L550.9,472.5 L554.4,473.7 L557.9,474.9 L561.4,476.0 L565.0,477.2 L568.5,478.3 L572.0,479.4 L575.5,480.5 L579.1,481.6 L582.6,482.6 L586.1,483.7 L589.6,484.7 L593.1,485.7 L596.7,486.7 L600.2,487.6 L603.7,488.6 L607.2,489.5 L610.7,490.4 L614.3,491.3 L617.8,492.2 L621.3,493.0 L624.8,493.9 L628.3,494.7 L631.9,495.5 L635.4,496.3 L638.9,497.1 L642.4,497.8 L646.0,498.6 L649.5,499.3 L653.0,500.0 L656.5,500.7 L660.0,501.4 L663.6,502.1 L667.1,502.8 L670.6,503.5 L674.1,504.1 L677.6,504.7 L681.2,505.4 L684.7,506.0 L688.2,506.6 L691.7,507.2 L695.3,507.8 L698.8,508.4 L702.3,509.0 L705.8,509.5 L709.3,510.1 L712.9,510.7 L716.4,511.2 L719.9,511.8 L723.4,512.3 L726.9,512.9 L730.5,513.4 L734.0,514.0 L737.5,514.5 L741.0,515.1 L744.6,515.6 L748.1,516.2 L751.6,516.8 L755.1,517.3 L758.6,517.9 L762.2,518.4 L765.7,519.0 L769.2,519.6 L772.7,520.2 L776.2,520.7 L777.6,521.0" stroke="#8FB032"/>
<path d="M17.1,116.5 L19.9,137.8 L22.7,158.7 L25.5,178.6 L28.3,196.9 L31.1,213.3 L34.0,227.9 L36.8,241.0 L39.6,252.8 L42.4,263.7 L45.2,273.7 L48.0,283.1 L50.9,291.7 L53.7,299.5 L56.5,306.4 L59.3,312.5 L62.1,317.6 L64.9,321.8 L67.8,325.0 L70.6,327.2 L73.4,328.5 L76.2,328.9 L79.0,328.6 L81.9,327.5 L84.7,325.8 L87.5,323.5 L90.3,320.7 L93.1,317.5 L95.9,313.9 L98.8,309.9 L101.6,305.8 L104.4,301.5 L107.2,297.0 L110.0,292.6 L112.8,288.1 L115.7,283.8 L118.5,279.7 L121.3,275.8 L124.1,272.1 L126.9,268.7 L129.7,265.5 L132.6,262.5 L135.4,259.8 L138.2,257.3 L141.0,255.1 L143.8,253.2 L146.6,251.5 L149.5,250.1 L152.3,249.0 L155.1,248.1 L157.9,247.4 L160.7,247.0 L163.5,246.9 L167.1,247.0 L170.6,247.5 L174.1,248.2 L177.6,249.1 L181.2,250.4 L184.7,251.8 L188.2,253.5 L191.7,255.4 L195.2,257.5 L198.8,259.7 L202.3,262.0 L205.8,264.4 L209.3,267.0 L212.8,269.6 L216.4,272.3 L219.9,275.0 L223.4,277.8 L226.9,280.5 L230.4,283.3 L234.0,286.0 L237.5,288.8 L241.0,291.5 L244.5,294.2 L248.1,296.8 L251.6,299.5 L255.1,302.1 L258.6,304.8 L262.1,307.5 L265.7,310.3 L269.2,313.0 L272.7,315.8 L276.2,318.6 L279.7,321.3 L283.3,324.0 L286.8,326.7 L290.3,329.4 L293.8,332.0 L297.4,334.6 L300.9,337.2 L304.4,339.7 L307.9,342.3 L311.4,344.8 L315.0,347.2 L318.5,349.7 L322.0,352.1 L325.5,354.4 L329.0,356.7 L332.6,358.9 L336.1,361.1 L339.6,363.3 L343.1,365.5 L346.6,367.7 L350.2,369.9 L353.7,372.2 L357.2,374.6 L360.7,377.0 L364.3,379.4 L367.8,381.8 L371.3,384.3 L374.8,386.8 L378.3,389.2 L381.9,391.7 L385.4,394.2 L388.9,396.6 L392.4,399.0 L395.9,401.4 L399.5,403.8 L403.0,406.1 L406.5,408.3 L410.0,410.5 L413.6,412.7 L417.1,414.7 L420.6,416.7 L424.1,418.6 L427.6,420.4 L431.2,422.2 L434.7,423.9 L438.2,425.5 L441.7,427.1 L445.2,428.7 L448.8,430.2 L452.3,431.7 L455.8,433.2 L459.3,434.7 L462.9,436.2 L466.4,437.8 L469.9,439.3 L473.4,440.7 L476.9,442.2 L480.5,443.7 L484.0,445.1 L487.5,446.6 L491.0,448.0 L494.5,449.4 L498.1,450.8 L501.6,452.2 L505.1,453.6 L508.6,454.9 L512.1,456.3 L515.7,457.6 L519.2,458.9 L522.7,460.2 L526.2,461.4 L529.8,462.7 L533.3,463.9 L536.8,465.1 L540.3,466.3 L543.8,467.5 L547.4,468.7 L550.9,469.8 L554.4,470.9 L557.9,472.0 L561.4,473.1 L565.0,474.2 L568.5,475.2 L572.0,476.3 L575.5,477.3 L579.1,478.3 L582.6,479.2 L586.1,480.2 L589.6,481.1 L593.1,482.0 L596.7,482.9 L600.2,483.8 L603.7,484.7 L607.2,485.5 L610.7,486.3 L614.3,487.2 L617.8,487.9 L621.3,488.7 L624.8,489.5 L628.3,490.2 L631.9,491.0 L635.4,491.7 L638.9,492.4 L642.4,493.0 L646.0,493.7 L649.5,494.4 L653.0,495.0 L656.5,495.6 L660.0,496.2 L663.6,496.8 L667.1,497.4 L670.6,498.0 L674.1,498.6 L677.6,499.1 L681.2,499.7 L684.7,500.2 L688.2,500.7 L691.7,501.2 L695.3,501.8 L698.8,502.3 L702.3,502.8 L705.8,503.2 L709.3,503.7 L712.9,504.2 L716.4,504.7 L719.9,505.1 L723.4,505.6 L726.9,506.1 L730.5,506.5 L734.0,507.0 L737.5,507.4 L741.0,507.9 L744.6,508.4 L748.1,508.8 L751.6,509.3 L755.1,509.7 L758.6,510.2 L762.2,510.6 L765.7,511.1 L769.2,511.6 L772.7,512.0 L776.2,512.5 L777.6,512.7" stroke="#EB6235"/>
<path d="M17.1,114.5 L19.9,136.1 L22.7,157.2 L25.5,177.3 L28.3,195.8 L31.1,212.3 L34.0,227.1 L36.8,240.3 L39.6,252.2 L42.4,263.1 L45.2,273.3 L48.0,282.7 L50.9,291.4 L53.7,299.2 L56.5,306.3 L59.3,312.4 L62.1,317.6 L64.9,321.8 L67.8,324.9 L70.6,327.2 L73.4,328.5 L76.2,328.9 L79.0,328.6 L81.9,327.5 L84.7,325.8 L87.5,323.5 L90.3,320.7 L93.1,317.4 L95.9,313.8 L98.8,309.9 L101.6,305.7 L104.4,301.4 L107.2,297.0 L110.0,292.5 L112.8,288.1 L115.7,283.8 L118.5,279.7 L121.3,275.8 L124.1,272.1 L126.9,268.6 L129.7,265.4 L132.6,262.5 L135.4,259.8 L138.2,257.3 L141.0,255.1 L143.8,253.2 L146.6,251.5 L149.5,250.1 L152.3,249.0 L155.1,248.1 L157.9,247.4 L160.7,247.0 L163.5,246.9 L167.1,247.0 L170.6,247.5 L174.1,248.2 L177.6,249.2 L181.2,250.4 L184.7,251.9 L188.2,253.6 L191.7,255.5 L195.2,257.6 L198.8,259.8 L202.3,262.2 L205.8,264.7 L209.3,267.3 L212.8,269.9 L216.4,272.6 L219.9,275.4 L223.4,278.2 L226.9,281.0 L230.4,283.8 L234.0,286.5 L237.5,289.3 L241.0,292.0 L244.5,294.7 L248.1,297.4 L251.6,300.1 L255.1,302.8 L258.6,305.5 L262.1,308.2 L265.7,311.0 L269.2,313.7 L272.7,316.5 L276.2,319.3 L279.7,322.0 L283.3,324.8 L286.8,327.4 L290.3,330.1 L293.8,332.7 L297.4,335.4 L300.9,337.9 L304.4,340.5 L307.9,343.0 L311.4,345.5 L315.0,347.9 L318.5,350.4 L322.0,352.7 L325.5,355.1 L329.0,357.4 L332.6,359.6 L336.1,361.8 L339.6,363.9 L343.1,366.1 L346.6,368.3 L350.2,370.5 L353.7,372.8 L357.2,375.1 L360.7,377.5 L364.3,379.9 L367.8,382.3 L371.3,384.7 L374.8,387.1 L378.3,389.5 L381.9,392.0 L385.4,394.4 L388.9,396.8 L392.4,399.1 L395.9,401.5 L399.5,403.8 L403.0,406.0 L406.5,408.2 L410.0,410.3 L413.6,412.4 L417.1,414.4 L420.6,416.3 L424.1,418.2 L427.6,419.9 L431.2,421.7 L434.7,423.3 L438.2,424.9 L441.7,426.5 L445.2,428.0 L448.8,429.5 L452.3,430.9 L455.8,432.4 L459.3,433.9 L462.9,435.3 L466.4,436.8 L469.9,438.2 L473.4,439.7 L476.9,441.1 L480.5,442.5 L484.0,443.9 L487.5,445.2 L491.0,446.6 L494.5,447.9 L498.1,449.3 L501.6,450.6 L505.1,451.9 L508.6,453.2 L512.1,454.4 L515.7,455.7 L519.2,456.9 L522.7,458.1 L526.2,459.3 L529.8,460.5 L533.3,461.7 L536.8,462.8 L540.3,463.9 L543.8,465.0 L547.4,466.1 L550.9,467.2 L554.4,468.2 L557.9,469.3 L561.4,470.3 L565.0,471.3 L568.5,472.2 L572.0,473.2 L575.5,474.1 L579.1,475.0 L582.6,475.9 L586.1,476.8 L589.6,477.7 L593.1,478.5 L596.7,479.3 L600.2,480.1 L603.7,480.9 L607.2,481.7 L610.7,482.4 L614.3,483.2 L617.8,483.9 L621.3,484.6 L624.8,485.3 L628.3,485.9 L631.9,486.6 L635.4,487.2 L638.9,487.8 L642.4,488.4 L646.0,489.0 L649.5,489.6 L653.0,490.2 L656.5,490.7 L660.0,491.2 L663.6,491.8 L667.1,492.3 L670.6,492.8 L674.1,493.3 L677.6,493.7 L681.2,494.2 L684.7,494.7 L688.2,495.1 L691.7,495.5 L695.3,496.0 L698.8,496.4 L702.3,496.8 L705.8,497.2 L709.3,497.6 L712.9,498.0 L716.4,498.4 L719.9,498.8 L723.4,499.2 L726.9,499.6 L730.5,500.0 L734.0,500.3 L737.5,500.7 L741.0,501.1 L744.6,501.4 L748.1,501.8 L751.6,502.2 L755.1,502.5 L758.6,502.9 L762.2,503.3 L765.7,503.7 L769.2,504.0 L772.7,504.4 L776.2,504.8 L777.6,504.9" stroke="#8778B3"/>
<path d="M17.1,112.6 L19.9,134.3 L22.7,155.7 L25.5,176.0 L28.3,194.7 L31.1,211.4 L34.0,226.3 L36.8,239.6 L39.6,251.6 L42.4,262.6 L45.2,272.8 L48.0,282.3 L50.9,291.1 L53.7,299.0 L56.5,306.1 L59.3,312.2 L62.1,317.5 L64.9,321.7 L67.8,324.9 L70.6,327.1 L73.4,328.5 L76.2,328.9 L79.0,328.6 L81.9,327.5 L84.7,325.8 L87.5,323.5 L90.3,320.7 L93.1,317.4 L95.9,313.8 L98.8,309.9 L101.6,305.7 L104.4,301.4 L107.2,296.9 L110.0,292.5 L112.8,288.1 L115.7,283.8 L118.5,279.6 L121.3,275.7 L124.1,272.1 L126.9,268.6 L129.7,265.4 L132.6,262.5 L135.4,259.8 L138.2,257.3 L141.0,255.1 L143.8,253.2 L146.6,251.5 L149.5,250.1 L152.3,249.0 L155.1,248.1 L157.9,247.4 L160.7,247.0 L163.5,246.9 L167.1,247.0 L170.6,247.5 L174.1,248.2 L177.6,249.2 L181.2,250.5 L184.7,252.0 L188.2,253.7 L191.7,255.6 L195.2,257.8 L198.8,260.0 L202.3,262.4 L205.8,264.9 L209.3,267.5 L212.8,270.2 L216.4,273.0 L219.9,275.8 L223.4,278.6 L226.9,281.4 L230.4,284.2 L234.0,287.0 L237.5,289.8 L241.0,292.6 L244.5,295.3 L248.1,298.0 L251.6,300.7 L255.1,303.4 L258.6,306.1 L262.1,308.9 L265.7,311.6 L269.2,314.4 L272.7,317.2 L276.2,320.0 L279.7,322.8 L283.3,325.5 L286.8,328.2 L290.3,330.8 L293.8,333.5 L297.4,336.1 L300.9,338.7 L304.4,341.2 L307.9,343.7 L311.4,346.2 L315.0,348.6 L318.5,351.1 L322.0,353.4 L325.5,355.8 L329.0,358.0 L332.6,360.2 L336.1,362.4 L339.6,364.5 L343.1,366.7 L346.6,368.9 L350.2,371.1 L353.7,373.3 L357.2,375.6 L360.7,378.0 L364.3,380.3 L367.8,382.7 L371.3,385.1 L374.8,387.5 L378.3,389.9 L381.9,392.2 L385.4,394.6 L388.9,397.0 L392.4,399.3 L395.9,401.5 L399.5,403.8 L403.0,406.0 L406.5,408.1 L410.0,410.2 L413.6,412.2 L417.1,414.1 L420.6,416.0 L424.1,417.8 L427.6,419.5 L431.2,421.1 L434.7,422.8 L438.2,424.3 L441.7,425.8 L445.2,427.3 L448.8,428.8 L452.3,430.2 L455.8,431.6 L459.3,433.0 L462.9,434.4 L466.4,435.8 L469.9,437.2 L473.4,438.6 L476.9,439.9 L480.5,441.3 L484.0,442.6 L487.5,443.9 L491.0,445.2 L494.5,446.5 L498.1,447.7 L501.6,449.0 L505.1,450.2 L508.6,451.4 L512.1,452.6 L515.7,453.8 L519.2,455.0 L522.7,456.1 L526.2,457.3 L529.8,458.4 L533.3,459.5 L536.8,460.5 L540.3,461.6 L543.8,462.6 L547.4,463.6 L550.9,464.6 L554.4,465.6 L557.9,466.6 L561.4,467.5 L565.0,468.4 L568.5,469.3 L572.0,470.2 L575.5,471.1 L579.1,471.9 L582.6,472.7 L586.1,473.5 L589.6,474.3 L593.1,475.1 L596.7,475.8 L600.2,476.6 L603.7,477.3 L607.2,478.0 L610.7,478.7 L614.3,479.3 L617.8,480.0 L621.3,480.6 L624.8,481.2 L628.3,481.8 L631.9,482.4 L635.4,482.9 L638.9,483.5 L642.4,484.0 L646.0,484.5 L649.5,485.0 L653.0,485.5 L656.5,486.0 L660.0,486.4 L663.6,486.9 L667.1,487.3 L670.6,487.7 L674.1,488.2 L677.6,488.6 L681.2,489.0 L684.7,489.3 L688.2,489.7 L691.7,490.1 L695.3,490.4 L698.8,490.8 L702.3,491.1 L705.8,491.5 L709.3,491.8 L712.9,492.1 L716.4,492.5 L719.9,492.8 L723.4,493.1 L726.9,493.4 L730.5,493.7 L734.0,494.0 L737.5,494.3 L741.0,494.6 L744.6,494.9 L748.1,495.2 L751.6,495.5 L755.1,495.8 L758.6,496.1 L762.2,496.4 L765.7,496.7 L769.2,497.0 L772.7,497.3 L776.2,497.6 L777.6,497.7" stroke="#C56E1A"/>
<path d="M17.1,110.6 L19.9,132.6 L22.7,154.2 L25.5,174.7 L28.3,193.6 L31.1,210.5 L34.0,225.5 L36.8,238.9 L39.6,251.0 L42.4,262.1 L45.2,272.4 L48.0,282.0 L50.9,290.8 L53.7,298.8 L56.5,305.9 L59.3,312.1 L62.1,317.4 L64.9,321.7 L67.8,324.9 L70.6,327.1 L73.4,328.5 L76.2,328.9 L79.0,328.6 L81.9,327.5 L84.7,325.8 L87.5,323.5 L90.3,320.6 L93.1,317.4 L95.9,313.8 L98.8,309.8 L101.6,305.7 L104.4,301.3 L107.2,296.9 L110.0,292.4 L112.8,288.0 L115.7,283.7 L118.5,279.6 L121.3,275.7 L124.1,272.0 L126.9,268.6 L129.7,265.4 L132.6,262.4 L135.4,259.7 L138.2,257.3 L141.0,255.1 L143.8,253.2 L146.6,251.5 L149.5,250.1 L152.3,249.0 L155.1,248.1 L157.9,247.4 L160.7,247.0 L163.5,246.9 L167.1,247.0 L170.6,247.5 L174.1,248.2 L177.6,249.2 L181.2,250.5 L184.7,252.1 L188.2,253.8 L191.7,255.8 L195.2,257.9 L198.8,260.2 L202.3,262.6 L205.8,265.2 L209.3,267.8 L212.8,270.5 L216.4,273.3 L219.9,276.1 L223.4,279.0 L226.9,281.8 L230.4,284.7 L234.0,287.5 L237.5,290.3 L241.0,293.1 L244.5,295.9 L248.1,298.6 L251.6,301.3 L255.1,304.0 L258.6,306.7 L262.1,309.5 L265.7,312.3 L269.2,315.1 L272.7,317.9 L276.2,320.7 L279.7,323.5 L283.3,326.2 L286.8,328.9 L290.3,331.5 L293.8,334.2 L297.4,336.8 L300.9,339.4 L304.4,341.9 L307.9,344.4 L311.4,346.9 L315.0,349.3 L318.5,351.7 L322.0,354.1 L325.5,356.4 L329.0,358.7 L332.6,360.9 L336.1,363.0 L339.6,365.1 L343.1,367.2 L346.6,369.4 L350.2,371.6 L353.7,373.9 L357.2,376.1 L360.7,378.4 L364.3,380.8 L367.8,383.1 L371.3,385.5 L374.8,387.8 L378.3,390.2 L381.9,392.5 L385.4,394.8 L388.9,397.1 L392.4,399.4 L395.9,401.6 L399.5,403.8 L403.0,405.9 L406.5,408.0 L410.0,410.0 L413.6,412.0 L417.1,413.8 L420.6,415.6 L424.1,417.4 L427.6,419.1 L431.2,420.7 L434.7,422.2 L438.2,423.8 L441.7,425.2 L445.2,426.7 L448.8,428.1 L452.3,429.4 L455.8,430.8 L459.3,432.2 L462.9,433.5 L466.4,434.9 L469.9,436.2 L473.4,437.5 L476.9,438.8 L480.5,440.1 L484.0,441.3 L487.5,442.6 L491.0,443.8 L494.5,445.0 L498.1,446.2 L501.6,447.4 L505.1,448.6 L508.6,449.8 L512.1,450.9 L515.7,452.0 L519.2,453.1 L522.7,454.2 L526.2,455.3 L529.8,456.3 L533.3,457.3 L536.8,458.3 L540.3,459.3 L543.8,460.3 L547.4,461.2 L550.9,462.2 L554.4,463.1 L557.9,464.0 L561.4,464.8 L565.0,465.7 L568.5,466.5 L572.0,467.3 L575.5,468.1 L579.1,468.9 L582.6,469.6 L586.1,470.4 L589.6,471.1 L593.1,471.8 L596.7,472.5 L600.2,473.1 L603.7,473.8 L607.2,474.4 L610.7,475.0 L614.3,475.6 L617.8,476.2 L621.3,476.7 L624.8,477.2 L628.3,477.8 L631.9,478.3 L635.4,478.8 L638.9,479.2 L642.4,479.7 L646.0,480.2 L649.5,480.6 L653.0,481.0 L656.5,481.4 L660.0,481.8 L663.6,482.2 L667.1,482.6 L670.6,482.9 L674.1,483.3 L677.6,483.6 L681.2,483.9 L684.7,484.3 L688.2,484.6 L691.7,484.9 L695.3,485.1 L698.8,485.4 L702.3,485.7 L705.8,486.0 L709.3,486.2 L712.9,486.5 L716.4,486.8 L719.9,487.0 L723.4,487.2 L726.9,487.5 L730.5,487.7 L734.0,488.0 L737.5,488.2 L741.0,488.4 L744.6,488.7 L748.1,488.9 L751.6,489.1 L755.1,489.3 L758.6,489.6 L762.2,489.8 L765.7,490.0 L769.2,490.3 L772.7,490.5 L776.2,490.8 L777.6,490.8" stroke="#5D9EC7"/>
<path d="M17.1,108.7 L19.9,130.9 L22.7,152.7 L25.5,173.4 L28.3,192.5 L31.1,209.5 L34.0,224.7 L36.8,238.2 L39.6,250.4 L42.4,261.6 L45.2,272.0 L48.0,281.6 L50.9,290.5 L53.7,298.5 L56.5,305.7 L59.3,312.0 L62.1,317.3 L64.9,321.6 L67.8,324.9 L70.6,327.1 L73.4,328.5 L76.2,328.9 L79.0,328.6 L81.9,327.5 L84.7,325.8 L87.5,323.5 L90.3,320.6 L93.1,317.4 L95.9,313.7 L98.8,309.8 L101.6,305.6 L104.4,301.3 L107.2,296.9 L110.0,292.4 L112.8,288.0 L115.7,283.7 L118.5,279.6 L121.3,275.7 L124.1,272.0 L126.9,268.6 L129.7,265.4 L132.6,262.4 L135.4,259.7 L138.2,257.3 L141.0,255.1 L143.8,253.2 L146.6,251.5 L149.5,250.1 L152.3,248.9 L155.1,248.1 L157.9,247.4 L160.7,247.0 L163.5,246.9 L167.1,247.0 L170.6,247.5 L174.1,248.2 L177.6,249.3 L181.2,250.6 L184.7,252.1 L188.2,253.9 L191.7,255.9 L195.2,258.0 L198.8,260.4 L202.3,262.8 L205.8,265.4 L209.3,268.1 L212.8,270.8 L216.4,273.6 L219.9,276.5 L223.4,279.4 L226.9,282.2 L230.4,285.1 L234.0,288.0 L237.5,290.8 L241.0,293.6 L244.5,296.4 L248.1,299.2 L251.6,301.9 L255.1,304.6 L258.6,307.4 L262.1,310.2 L265.7,313.0 L269.2,315.8 L272.7,318.6 L276.2,321.4 L279.7,324.2 L283.3,326.9 L286.8,329.6 L290.3,332.2 L293.8,334.9 L297.4,337.5 L300.9,340.0 L304.4,342.6 L307.9,345.1 L311.4,347.5 L315.0,350.0 L318.5,352.4 L322.0,354.7 L325.5,357.0 L329.0,359.3 L332.6,361.5 L336.1,363.6 L339.6,365.7 L343.1,367.8 L346.6,370.0 L350.2,372.2 L353.7,374.4 L357.2,376.6 L360.7,378.9 L364.3,381.2 L367.8,383.5 L371.3,385.8 L374.8,388.2 L378.3,390.5 L381.9,392.8 L385.4,395.1 L388.9,397.3 L392.4,399.6 L395.9,401.7 L399.5,403.9 L403.0,405.9 L406.5,408.0 L410.0,409.9 L413.6,411.8 L417.1,413.6 L420.6,415.4 L424.1,417.0 L427.6,418.7 L431.2,420.2 L434.7,421.7 L438.2,423.2 L441.7,424.6 L445.2,426.0 L448.8,427.4 L452.3,428.7 L455.8,430.0 L459.3,431.3 L462.9,432.6 L466.4,433.9 L469.9,435.2 L473.4,436.4 L476.9,437.7 L480.5,438.9 L484.0,440.1 L487.5,441.3 L491.0,442.5 L494.5,443.6 L498.1,444.8 L501.6,445.9 L505.1,447.0 L508.6,448.1 L512.1,449.2 L515.7,450.2 L519.2,451.3 L522.7,452.3 L526.2,453.3 L529.8,454.3 L533.3,455.2 L536.8,456.2 L540.3,457.1 L543.8,458.0 L547.4,458.9 L550.9,459.7 L554.4,460.6 L557.9,461.4 L561.4,462.2 L565.0,463.0 L568.5,463.7 L572.0,464.5 L575.5,465.2 L579.1,465.9 L582.6,466.6 L586.1,467.3 L589.6,467.9 L593.1,468.6 L596.7,469.2 L600.2,469.8 L603.7,470.3 L607.2,470.9 L610.7,471.4 L614.3,472.0 L617.8,472.5 L621.3,473.0 L624.8,473.4 L628.3,473.9 L631.9,474.3 L635.4,474.8 L638.9,475.2 L642.4,475.6 L646.0,476.0 L649.5,476.3 L653.0,476.7 L656.5,477.0 L660.0,477.4 L663.6,477.7 L667.1,478.0 L670.6,478.3 L674.1,478.6 L677.6,478.8 L681.2,479.1 L684.7,479.4 L688.2,479.6 L691.7,479.8 L695.3,480.1 L698.8,480.3 L702.3,480.5 L705.8,480.7 L709.3,480.9 L712.9,481.1 L716.4,481.3 L719.9,481.5 L723.4,481.7 L726.9,481.9 L730.5,482.0 L734.0,482.2 L737.5,482.4 L741.0,482.6 L744.6,482.7 L748.1,482.9 L751.6,483.1 L755.1,483.2 L758.6,483.4 L762.2,483.6 L765.7,483.8 L769.2,483.9 L772.7,484.1 L776.2,484.3 L777.6,484.3" stroke="#FFBF00"/>
<path d="M17.1,106.8 L19.9,129.2 L22.7,151.2 L25.5,172.1 L28.3,191.4 L31.1,208.6 L34.0,223.8 L36.8,237.5 L39.6,249.8 L42.4,261.1 L45.2,271.5 L48.0,281.2 L50.9,290.2 L53.7,298.3 L56.5,305.5 L59.3,311.9 L62.1,317.2 L64.9,321.5 L67.8,324.8 L70.6,327.1 L73.4,328.5 L76.2,328.9 L79.0,328.6 L81.9,327.5 L84.7,325.8 L87.5,323.4 L90.3,320.6 L93.1,317.4 L95.9,313.7 L98.8,309.8 L101.6,305.6 L104.4,301.3 L107.2,296.8 L110.0,292.3 L112.8,287.9 L115.7,283.6 L118.5,279.5 L121.3,275.6 L124.1,272.0 L126.9,268.6 L129.7,265.4 L132.6,262.4 L135.4,259.7 L138.2,257.3 L141.0,255.1 L143.8,253.2 L146.6,251.5 L149.5,250.1 L152.3,248.9 L155.1,248.1 L157.9,247.4 L160.7,247.0 L163.5,246.9 L167.1,247.0 L170.6,247.5 L174.1,248.3 L177.6,249.3 L181.2,250.6 L184.7,252.2 L188.2,254.0 L191.7,256.0 L195.2,258.2 L198.8,260.5 L202.3,263.0 L205.8,265.6 L209.3,268.3 L212.8,271.1 L216.4,273.9 L219.9,276.8 L223.4,279.7 L226.9,282.6 L230.4,285.6 L234.0,288.4 L237.5,291.3 L241.0,294.1 L244.5,296.9 L248.1,299.7 L251.6,302.5 L255.1,305.3 L258.6,308.0 L262.1,310.8 L265.7,313.6 L269.2,316.4 L272.7,319.3 L276.2,322.1 L279.7,324.8 L283.3,327.6 L286.8,330.3 L290.3,332.9 L293.8,335.6 L297.4,338.2 L300.9,340.7 L304.4,343.2 L307.9,345.7 L311.4,348.2 L315.0,350.6 L318.5,353.0 L322.0,355.4 L325.5,357.6 L329.0,359.9 L332.6,362.1 L336.1,364.2 L339.6,366.3 L343.1,368.4 L346.6,370.5 L350.2,372.7 L353.7,374.9 L357.2,377.1 L360.7,379.4 L364.3,381.6 L367.8,383.9 L371.3,386.2 L374.8,388.5 L378.3,390.8 L381.9,393.0 L385.4,395.3 L388.9,397.5 L392.4,399.7 L395.9,401.9 L399.5,403.9 L403.0,406.0 L406.5,407.9 L410.0,409.8 L413.6,411.6 L417.1,413.4 L420.6,415.1 L424.1,416.7 L427.6,418.3 L431.2,419.8 L434.7,421.2 L438.2,422.7 L441.7,424.0 L445.2,425.4 L448.8,426.7 L452.3,428.0 L455.8,429.2 L459.3,430.5 L462.9,431.7 L466.4,432.9 L469.9,434.2 L473.4,435.4 L476.9,436.5 L480.5,437.7 L484.0,438.9 L487.5,440.0 L491.0,441.1 L494.5,442.2 L498.1,443.3 L501.6,444.4 L505.1,445.4 L508.6,446.5 L512.1,447.5 L515.7,448.5 L519.2,449.4 L522.7,450.4 L526.2,451.3 L529.8,452.3 L533.3,453.2 L536.8,454.0 L540.3,454.9 L543.8,455.7 L547.4,456.5 L550.9,457.3 L554.4,458.1 L557.9,458.9 L561.4,459.6 L565.0,460.3 L568.5,461.1 L572.0,461.7 L575.5,462.4 L579.1,463.0 L582.6,463.7 L586.1,464.3 L589.6,464.9 L593.1,465.4 L596.7,466.0 L600.2,466.5 L603.7,467.0 L607.2,467.5 L610.7,468.0 L614.3,468.5 L617.8,468.9 L621.3,469.3 L624.8,469.7 L628.3,470.1 L631.9,470.5 L635.4,470.9 L638.9,471.2 L642.4,471.6 L646.0,471.9 L649.5,472.2 L653.0,472.5 L656.5,472.8 L660.0,473.1 L663.6,473.3 L667.1,473.6 L670.6,473.8 L674.1,474.1 L677.6,474.3 L681.2,474.5 L684.7,474.7 L688.2,474.9 L691.7,475.0 L695.3,475.2 L698.8,475.4 L702.3,475.5 L705.8,475.7 L709.3,475.8 L712.9,476.0 L716.4,476.1 L719.9,476.3 L723.4,476.4 L726.9,476.5 L730.5,476.6 L734.0,476.8 L737.5,476.9 L741.0,477.0 L744.6,477.1 L748.1,477.2 L751.6,477.3 L755.1,477.5 L758.6,477.6 L762.2,477.7 L765.7,477.8 L769.2,477.9 L772.7,478.0 L776.2,478.2 L777.6,478.2" stroke="#A5609D"/>
<path d="M17.1,104.8 L19.9,127.5 L22.7,149.7 L25.5,170.8 L28.3,190.3 L31.1,207.6 L34.0,223.0 L36.8,236.8 L39.6,249.2 L42.4,260.5 L45.2,271.1 L48.0,280.9 L50.9,289.9 L53.7,298.1 L56.5,305.4 L59.3,311.7 L62.1,317.1 L64.9,321.5 L67.8,324.8 L70.6,327.1 L73.4,328.5 L76.2,328.9 L79.0,328.6 L81.9,327.5 L84.7,325.8 L87.5,323.4 L90.3,320.6 L93.1,317.3 L95.9,313.7 L98.8,309.7 L101.6,305.6 L104.4,301.2 L107.2,296.8 L110.0,292.3 L112.8,287.9 L115.7,283.6 L118.5,279.5 L121.3,275.6 L124.1,272.0 L126.9,268.5 L129.7,265.3 L132.6,262.4 L135.4,259.7 L138.2,257.3 L141.0,255.1 L143.8,253.2 L146.6,251.5 L149.5,250.1 L152.3,248.9 L155.1,248.0 L157.9,247.4 L160.7,247.0 L163.5,246.9 L167.1,247.0 L170.6,247.5 L174.1,248.3 L177.6,249.3 L181.2,250.7 L184.7,252.3 L188.2,254.1 L191.7,256.1 L195.2,258.3 L198.8,260.7 L202.3,263.2 L205.8,265.8 L209.3,268.6 L212.8,271.4 L216.4,274.3 L219.9,277.2 L223.4,280.1 L226.9,283.0 L230.4,286.0 L234.0,288.9 L237.5,291.8 L241.0,294.6 L244.5,297.5 L248.1,300.3 L251.6,303.1 L255.1,305.8 L258.6,308.6 L262.1,311.4 L265.7,314.3 L269.2,317.1 L272.7,319.9 L276.2,322.7 L279.7,325.5 L283.3,328.2 L286.8,330.9 L290.3,333.6 L293.8,336.2 L297.4,338.8 L300.9,341.4 L304.4,343.9 L307.9,346.4 L311.4,348.8 L315.0,351.3 L318.5,353.6 L322.0,356.0 L325.5,358.3 L329.0,360.5 L332.6,362.6 L336.1,364.7 L339.6,366.8 L343.1,368.9 L346.6,371.0 L350.2,373.2 L353.7,375.4 L357.2,377.6 L360.7,379.8 L364.3,382.0 L367.8,384.3 L371.3,386.5 L374.8,388.8 L378.3,391.1 L381.9,393.3 L385.4,395.5 L388.9,397.7 L392.4,399.9 L395.9,402.0 L399.5,404.0 L403.0,406.0 L406.5,407.9 L410.0,409.7 L413.6,411.5 L417.1,413.2 L420.6,414.8 L424.1,416.4 L427.6,417.9 L431.2,419.4 L434.7,420.8 L438.2,422.1 L441.7,423.4 L445.2,424.7 L448.8,426.0 L452.3,427.2 L455.8,428.4 L459.3,429.6 L462.9,430.8 L466.4,432.0 L469.9,433.2 L473.4,434.3 L476.9,435.4 L480.5,436.6 L484.0,437.7 L487.5,438.7 L491.0,439.8 L494.5,440.8 L498.1,441.9 L501.6,442.9 L505.1,443.9 L508.6,444.8 L512.1,445.8 L515.7,446.7 L519.2,447.7 L522.7,448.6 L526.2,449.4 L529.8,450.3 L533.3,451.1 L536.8,451.9 L540.3,452.7 L543.8,453.5 L547.4,454.3 L550.9,455.0 L554.4,455.7 L557.9,456.4 L561.4,457.1 L565.0,457.8 L568.5,458.4 L572.0,459.0 L575.5,459.6 L579.1,460.2 L582.6,460.8 L586.1,461.3 L589.6,461.9 L593.1,462.4 L596.7,462.9 L600.2,463.3 L603.7,463.8 L607.2,464.2 L610.7,464.7 L614.3,465.1 L617.8,465.4 L621.3,465.8 L624.8,466.2 L628.3,466.5 L631.9,466.8 L635.4,467.1 L638.9,467.4 L642.4,467.7 L646.0,468.0 L649.5,468.3 L653.0,468.5 L656.5,468.7 L660.0,468.9 L663.6,469.1 L667.1,469.3 L670.6,469.5 L674.1,469.7 L677.6,469.9 L681.2,470.0 L684.7,470.2 L688.2,470.3 L691.7,470.4 L695.3,470.6 L698.8,470.7 L702.3,470.8 L705.8,470.9 L709.3,471.0 L712.9,471.1 L716.4,471.2 L719.9,471.2 L723.4,471.3 L726.9,471.4 L730.5,471.5 L734.0,471.5 L737.5,471.6 L741.0,471.7 L744.6,471.7 L748.1,471.8 L751.6,471.9 L755.1,472.0 L758.6,472.0 L762.2,472.1 L765.7,472.2 L769.2,472.2 L772.7,472.3 L776.2,472.4 L777.6,472.4" stroke="#929600"/>
<path d="M17.1,102.9 L19.9,125.7 L22.7,148.2 L25.5,169.5 L28.3,189.2 L31.1,206.7 L34.0,222.2 L36.8,236.1 L39.6,248.6 L42.4,260.0 L45.2,270.6 L48.0,280.5 L50.9,289.6 L53.7,297.8 L56.5,305.2 L59.3,311.6 L62.1,317.1 L64.9,321.4 L67.8,324.8 L70.6,327.1 L73.4,328.5 L76.2,328.9 L79.0,328.6 L81.9,327.5 L84.7,325.8 L87.5,323.4 L90.3,320.6 L93.1,317.3 L95.9,313.7 L98.8,309.7 L101.6,305.5 L104.4,301.2 L107.2,296.7 L110.0,292.3 L112.8,287.8 L115.7,283.6 L118.5,279.5 L121.3,275.6 L124.1,271.9 L126.9,268.5 L129.7,265.3 L132.6,262.4 L135.4,259.7 L138.2,257.3 L141.0,255.1 L143.8,253.2 L146.6,251.5 L149.5,250.1 L152.3,248.9 L155.1,248.1 L157.9,247.4 L160.7,247.0 L163.5,246.9 L167.1,247.1 L170.6,247.5 L174.1,248.3 L177.6,249.4 L181.2,250.7 L184.7,252.3 L188.2,254.2 L191.7,256.2 L195.2,258.4 L198.8,260.8 L202.3,263.4 L205.8,266.0 L209.3,268.8 L212.8,271.7 L216.4,274.6 L219.9,277.5 L223.4,280.5 L226.9,283.4 L230.4,286.4 L234.0,289.3 L237.5,292.3 L241.0,295.1 L244.5,298.0 L248.1,300.8 L251.6,303.6 L255.1,306.4 L258.6,309.2 L262.1,312.0 L265.7,314.9 L269.2,317.7 L272.7,320.6 L276.2,323.4 L279.7,326.1 L283.3,328.9 L286.8,331.6 L290.3,334.2 L293.8,336.9 L297.4,339.5 L300.9,342.0 L304.4,344.5 L307.9,347.0 L311.4,349.5 L315.0,351.9 L318.5,354.2 L322.0,356.6 L325.5,358.8 L329.0,361.1 L332.6,363.2 L336.1,365.3 L339.6,367.4 L343.1,369.4 L346.6,371.5 L350.2,373.7 L353.7,375.8 L357.2,378.0 L360.7,380.2 L364.3,382.4 L367.8,384.6 L371.3,386.9 L374.8,389.1 L378.3,391.3 L381.9,393.5 L385.4,395.7 L388.9,397.9 L392.4,400.0 L395.9,402.1 L399.5,404.1 L403.0,406.0 L406.5,407.9 L410.0,409.6 L413.6,411.3 L417.1,413.0 L420.6,414.5 L424.1,416.1 L427.6,417.5 L431.2,418.9 L434.7,420.3 L438.2,421.6 L441.7,422.8 L445.2,424.1 L448.8,425.3 L452.3,426.5 L455.8,427.6 L459.3,428.8 L462.9,429.9 L466.4,431.1 L469.9,432.2 L473.4,433.3 L476.9,434.3 L480.5,435.4 L484.0,436.4 L487.5,437.5 L491.0,438.5 L494.5,439.5 L498.1,440.4 L501.6,441.4 L505.1,442.3 L508.6,443.3 L512.1,444.2 L515.7,445.0 L519.2,445.9 L522.7,446.7 L526.2,447.6 L529.8,448.4 L533.3,449.1 L536.8,449.9 L540.3,450.6 L543.8,451.4 L547.4,452.1 L550.9,452.7 L554.4,453.4 L557.9,454.0 L561.4,454.7 L565.0,455.3 L568.5,455.9 L572.0,456.4 L575.5,457.0 L579.1,457.5 L582.6,458.0 L586.1,458.5 L589.6,459.0 L593.1,459.4 L596.7,459.8 L600.2,460.3 L603.7,460.7 L607.2,461.0 L610.7,461.4 L614.3,461.8 L617.8,462.1 L621.3,462.4 L624.8,462.7 L628.3,463.0 L631.9,463.3 L635.4,463.5 L638.9,463.8 L642.4,464.0 L646.0,464.2 L649.5,464.4 L653.0,464.6 L656.5,464.8 L660.0,465.0 L663.6,465.1 L667.1,465.3 L670.6,465.4 L674.1,465.5 L677.6,465.6 L681.2,465.7 L684.7,465.8 L688.2,465.9 L691.7,466.0 L695.3,466.1 L698.8,466.2 L702.3,466.2 L705.8,466.3 L709.3,466.3 L712.9,466.4 L716.4,466.4 L719.9,466.4 L723.4,466.5 L726.9,466.5 L730.5,466.5 L734.0,466.6 L737.5,466.6 L741.0,466.6 L744.6,466.6 L748.1,466.7 L751.6,466.7 L755.1,466.7 L758.6,466.7 L762.2,466.8 L765.7,466.8 L769.2,466.8 L772.7,466.8 L776.2,466.9 L777.6,466.9" stroke="#E95536"/>
<path d="M17.1,100.9 L19.9,124.0 L22.7,146.7 L25.5,168.3 L28.3,188.1 L31.1,205.7 L34.0,221.4 L36.8,235.4 L39.6,248.0 L42.4,259.5 L45.2,270.2 L48.0,280.1 L50.9,289.3 L53.7,297.6 L56.5,305.0 L59.3,311.5 L62.1,317.0 L64.9,321.4 L67.8,324.8 L70.6,327.1 L73.4,328.5 L76.2,328.9 L79.0,328.6 L81.9,327.5 L84.7,325.8 L87.5,323.4 L90.3,320.6 L93.1,317.3 L95.9,313.6 L98.8,309.7 L101.6,305.5 L104.4,301.1 L107.2,296.7 L110.0,292.2 L112.8,287.8 L115.7,283.5 L118.5,279.4 L121.3,275.6 L124.1,271.9 L126.9,268.5 L129.7,265.3 L132.6,262.4 L135.4,259.7 L138.2,257.2 L141.0,255.1 L143.8,253.2 L146.6,251.5 L149.5,250.1 L152.3,248.9 L155.1,248.0 L157.9,247.4 L160.7,247.0 L163.5,246.9 L167.1,247.1 L170.6,247.5 L174.1,248.3 L177.6,249.4 L181.2,250.8 L184.7,252.4 L188.2,254.2 L191.7,256.3 L195.2,258.6 L198.8,261.0 L202.3,263.6 L205.8,266.3 L209.3,269.1 L212.8,271.9 L216.4,274.9 L219.9,277.8 L223.4,280.8 L226.9,283.8 L230.4,286.8 L234.0,289.8 L237.5,292.7 L241.0,295.6 L244.5,298.5 L248.1,301.4 L251.6,304.2 L255.1,307.0 L258.6,309.8 L262.1,312.6 L265.7,315.5 L269.2,318.3 L272.7,321.2 L276.2,324.0 L279.7,326.8 L283.3,329.5 L286.8,332.2 L290.3,334.9 L293.8,337.5 L297.4,340.1 L300.9,342.6 L304.4,345.2 L307.9,347.6 L311.4,350.1 L315.0,352.5 L318.5,354.8 L322.0,357.1 L325.5,359.4 L329.0,361.6 L332.6,363.8 L336.1,365.8 L339.6,367.9 L343.1,370.0 L346.6,372.0 L350.2,374.1 L353.7,376.3 L357.2,378.4 L360.7,380.6 L364.3,382.8 L367.8,385.0 L371.3,387.2 L374.8,389.4 L378.3,391.6 L381.9,393.7 L385.4,395.9 L388.9,398.0 L392.4,400.1 L395.9,402.1 L399.5,404.1 L403.0,406.0 L406.5,407.8 L410.0,409.5 L413.6,411.2 L417.1,412.7 L420.6,414.2 L424.1,415.7 L427.6,417.1 L431.2,418.5 L434.7,419.8 L438.2,421.0 L441.7,422.2 L445.2,423.4 L448.8,424.6 L452.3,425.7 L455.8,426.8 L459.3,428.0 L462.9,429.0 L466.4,430.1 L469.9,431.2 L473.4,432.2 L476.9,433.2 L480.5,434.3 L484.0,435.3 L487.5,436.2 L491.0,437.2 L494.5,438.1 L498.1,439.0 L501.6,439.9 L505.1,440.8 L508.6,441.7 L512.1,442.5 L515.7,443.4 L519.2,444.2 L522.7,444.9 L526.2,445.7 L529.8,446.5 L533.3,447.2 L536.8,447.9 L540.3,448.6 L543.8,449.2 L547.4,449.9 L550.9,450.5 L554.4,451.1 L557.9,451.7 L561.4,452.3 L565.0,452.8 L568.5,453.3 L572.0,453.9 L575.5,454.3 L579.1,454.8 L582.6,455.3 L586.1,455.7 L589.6,456.1 L593.1,456.5 L596.7,456.9 L600.2,457.3 L603.7,457.6 L607.2,457.9 L610.7,458.3 L614.3,458.5 L617.8,458.8 L621.3,459.1 L624.8,459.3 L628.3,459.6 L631.9,459.8 L635.4,460.0 L638.9,460.2 L642.4,460.4 L646.0,460.6 L649.5,460.7 L653.0,460.9 L656.5,461.0 L660.0,461.1 L663.6,461.2 L667.1,461.3 L670.6,461.4 L674.1,461.5 L677.6,461.6 L681.2,461.6 L684.7,461.7 L688.2,461.7 L691.7,461.8 L695.3,461.8 L698.8,461.8 L702.3,461.8 L705.8,461.8 L709.3,461.9 L712.9,461.9 L716.4,461.9 L719.9,461.9 L723.4,461.8 L726.9,461.8 L730.5,461.8 L734.0,461.8 L737.5,461.8 L741.0,461.8 L744.6,461.8 L748.1,461.7 L751.6,461.7 L755.1,461.7 L758.6,461.7 L762.2,461.7 L765.7,461.7 L769.2,461.7 L772.7,461.6 L776.2,461.6 L777.6,461.6" stroke="#6685D9"/>
<path d="M17.1,99.0 L19.9,122.3 L22.7,145.2 L25.5,167.0 L28.3,187.0 L31.1,204.8 L34.0,220.6 L36.8,234.7 L39.6,247.4 L42.4,259.0 L45.2,269.8 L48.0,279.8 L50.9,289.0 L53.7,297.4 L56.5,304.8 L59.3,311.4 L62.1,316.9 L64.9,321.3 L67.8,324.7 L70.6,327.1 L73.4,328.5 L76.2,328.9 L79.0,328.6 L81.9,327.5 L84.7,325.8 L87.5,323.4 L90.3,320.6 L93.1,317.3 L95.9,313.6 L98.8,309.6 L101.6,305.5 L104.4,301.1 L107.2,296.6 L110.0,292.2 L112.8,287.8 L115.7,283.5 L118.5,279.4 L121.3,275.5 L124.1,271.9 L126.9,268.5 L129.7,265.3 L132.6,262.3 L135.4,259.7 L138.2,257.2 L141.0,255.1 L143.8,253.1 L146.6,251.5 L149.5,250.1 L152.3,248.9 L155.1,248.0 L157.9,247.4 L160.7,247.0 L163.5,246.9 L167.1,247.1 L170.6,247.5 L174.1,248.3 L177.6,249.4 L181.2,250.8 L184.7,252.4 L188.2,254.3 L191.7,256.4 L195.2,258.7 L198.8,261.2 L202.3,263.7 L205.8,266.5 L209.3,269.3 L212.8,272.2 L216.4,275.2 L219.9,278.2 L223.4,281.2 L226.9,284.2 L230.4,287.2 L234.0,290.2 L237.5,293.2 L241.0,296.1 L244.5,299.0 L248.1,301.9 L251.6,304.7 L255.1,307.6 L258.6,310.4 L262.1,313.2 L265.7,316.1 L269.2,319.0 L272.7,321.8 L276.2,324.6 L279.7,327.4 L283.3,330.1 L286.8,332.8 L290.3,335.5 L293.8,338.1 L297.4,340.7 L300.9,343.3 L304.4,345.8 L307.9,348.2 L311.4,350.7 L315.0,353.1 L318.5,355.4 L322.0,357.7 L325.5,360.0 L329.0,362.2 L332.6,364.3 L336.1,366.4 L339.6,368.4 L343.1,370.5 L346.6,372.5 L350.2,374.6 L353.7,376.7 L357.2,378.8 L360.7,381.0 L364.3,383.1 L367.8,385.3 L371.3,387.5 L374.8,389.6 L378.3,391.8 L381.9,393.9 L385.4,396.0 L388.9,398.1 L392.4,400.2 L395.9,402.2 L399.5,404.1 L403.0,405.9 L406.5,407.7 L410.0,409.3 L413.6,410.9 L417.1,412.4 L420.6,413.9 L424.1,415.3 L427.6,416.7 L431.2,418.0 L434.7,419.2 L438.2,420.5 L441.7,421.6 L445.2,422.8 L448.8,423.9 L452.3,425.0 L455.8,426.1 L459.3,427.1 L462.9,428.2 L466.4,429.2 L469.9,430.2 L473.4,431.2 L476.9,432.2 L480.5,433.1 L484.0,434.1 L487.5,435.0 L491.0,435.9 L494.5,436.8 L498.1,437.7 L501.6,438.5 L505.1,439.3 L508.6,440.1 L512.1,440.9 L515.7,441.7 L519.2,442.5 L522.7,443.2 L526.2,443.9 L529.8,444.6 L533.3,445.3 L536.8,445.9 L540.3,446.5 L543.8,447.2 L547.4,447.7 L550.9,448.3 L554.4,448.9 L557.9,449.4 L561.4,449.9 L565.0,450.4 L568.5,450.9 L572.0,451.3 L575.5,451.8 L579.1,452.2 L582.6,452.6 L586.1,453.0 L589.6,453.4 L593.1,453.7 L596.7,454.0 L600.2,454.3 L603.7,454.6 L607.2,454.9 L610.7,455.2 L614.3,455.4 L617.8,455.7 L621.3,455.9 L624.8,456.1 L628.3,456.3 L631.9,456.4 L635.4,456.6 L638.9,456.8 L642.4,456.9 L646.0,457.0 L649.5,457.1 L653.0,457.2 L656.5,457.3 L660.0,457.4 L663.6,457.5 L667.1,457.5 L670.6,457.6 L674.1,457.6 L677.6,457.6 L681.2,457.6 L684.7,457.7 L688.2,457.7 L691.7,457.7 L695.3,457.6 L698.8,457.6 L702.3,457.6 L705.8,457.6 L709.3,457.6 L712.9,457.5 L716.4,457.5 L719.9,457.4 L723.4,457.4 L726.9,457.3 L730.5,457.3 L734.0,457.2 L737.5,457.2 L741.0,457.1 L744.6,457.1 L748.1,457.0 L751.6,457.0 L755.1,456.9 L758.6,456.9 L762.2,456.8 L765.7,456.8 L769.2,456.7 L772.7,456.7 L776.2,456.6 L777.6,456.6" stroke="#F89F13"/>
<path d="M17.1,97.1 L19.9,120.6 L22.7,143.7 L25.5,165.7 L28.3,185.9 L31.1,203.9 L34.0,219.8 L36.8,234.0 L39.6,246.8 L42.4,258.5 L45.2,269.3 L48.0,279.4 L50.9,288.7 L53.7,297.1 L56.5,304.7 L59.3,311.2 L62.1,316.8 L64.9,321.3 L67.8,324.7 L70.6,327.1 L73.4,328.5 L76.2,328.9 L79.0,328.6 L81.9,327.5 L84.7,325.8 L87.5,323.4 L90.3,320.5 L93.1,317.2 L95.9,313.6 L98.8,309.6 L101.6,305.4 L104.4,301.1 L107.2,296.6 L110.0,292.1 L112.8,287.7 L115.7,283.4 L118.5,279.4 L121.3,275.5 L124.1,271.8 L126.9,268.4 L129.7,265.3 L132.6,262.3 L135.4,259.7 L138.2,257.2 L141.0,255.1 L143.8,253.1 L146.6,251.5 L149.5,250.1 L152.3,248.9 L155.1,248.0 L157.9,247.4 L160.7,247.0 L163.5,246.9 L167.1,247.1 L170.6,247.5 L174.1,248.3 L177.6,249.4 L181.2,250.8 L184.7,252.5 L188.2,254.4 L191.7,256.5 L195.2,258.8 L198.8,261.3 L202.3,263.9 L205.8,266.7 L209.3,269.5 L212.8,272.5 L216.4,275.4 L219.9,278.5 L223.4,281.5 L226.9,284.6 L230.4,287.6 L234.0,290.6 L237.5,293.6 L241.0,296.6 L244.5,299.5 L248.1,302.4 L251.6,305.3 L255.1,308.1 L258.6,311.0 L262.1,313.8 L265.7,316.7 L269.2,319.6 L272.7,322.4 L276.2,325.2 L279.7,328.0 L283.3,330.7 L286.8,333.4 L290.3,336.1 L293.8,338.7 L297.4,341.3 L300.9,343.9 L304.4,346.4 L307.9,348.8 L311.4,351.3 L315.0,353.6 L318.5,356.0 L322.0,358.3 L325.5,360.5 L329.0,362.7 L332.6,364.8 L336.1,366.9 L339.6,368.9 L343.1,370.9 L346.6,373.0 L350.2,375.0 L353.7,377.1 L357.2,379.2 L360.7,381.4 L364.3,383.5 L367.8,385.6 L371.3,387.7 L374.8,389.8 L378.3,392.0 L381.9,394.0 L385.4,396.1 L388.9,398.1 L392.4,400.1 L395.9,402.1 L399.5,404.0 L403.0,405.8 L406.5,407.5 L410.0,409.1 L413.6,410.6 L417.1,412.1 L420.6,413.5 L424.1,414.9 L427.6,416.2 L431.2,417.5 L434.7,418.7 L438.2,419.9 L441.7,421.0 L445.2,422.1 L448.8,423.2 L452.3,424.2 L455.8,425.3 L459.3,426.3 L462.9,427.3 L466.4,428.2 L469.9,429.2 L473.4,430.2 L476.9,431.1 L480.5,432.0 L484.0,432.9 L487.5,433.8 L491.0,434.6 L494.5,435.5 L498.1,436.3 L501.6,437.1 L505.1,437.8 L508.6,438.6 L512.1,439.3 L515.7,440.1 L519.2,440.8 L522.7,441.4 L526.2,442.1 L529.8,442.7 L533.3,443.4 L536.8,444.0 L540.3,444.5 L543.8,445.1 L547.4,445.7 L550.9,446.2 L554.4,446.7 L557.9,447.2 L561.4,447.6 L565.0,448.1 L568.5,448.5 L572.0,448.9 L575.5,449.3 L579.1,449.7 L582.6,450.0 L586.1,450.3 L589.6,450.7 L593.1,451.0 L596.7,451.2 L600.2,451.5 L603.7,451.7 L607.2,452.0 L610.7,452.2 L614.3,452.4 L617.8,452.6 L621.3,452.8 L624.8,452.9 L628.3,453.1 L631.9,453.2 L635.4,453.3 L638.9,453.4 L642.4,453.5 L646.0,453.6 L649.5,453.7 L653.0,453.7 L656.5,453.8 L660.0,453.8 L663.6,453.8 L667.1,453.8 L670.6,453.8 L674.1,453.8 L677.6,453.8 L681.2,453.8 L684.7,453.8 L688.2,453.8 L691.7,453.7 L695.3,453.7 L698.8,453.6 L702.3,453.6 L705.8,453.5 L709.3,453.4 L712.9,453.4 L716.4,453.3 L719.9,453.2 L723.4,453.1 L726.9,453.0 L730.5,453.0 L734.0,452.9 L737.5,452.8 L741.0,452.7 L744.6,452.6 L748.1,452.5 L751.6,452.4 L755.1,452.4 L758.6,452.3 L762.2,452.2 L765.7,452.1 L769.2,452.0 L772.7,452.0 L776.2,451.9 L777.6,451.8" stroke="#BC5B80"/>
<path d="M17.1,95.1 L19.9,118.8 L22.7,142.2 L25.5,164.4 L28.3,184.8 L31.1,202.9 L34.0,219.0 L36.8,233.3 L39.6,246.2 L42.4,257.9 L45.2,268.9 L48.0,279.0 L50.9,288.4 L53.7,296.9 L56.5,304.5 L59.3,311.1 L62.1,316.7 L64.9,321.2 L67.8,324.7 L70.6,327.1 L73.4,328.5 L76.2,328.9 L79.0,328.6 L81.9,327.5 L84.7,325.7 L87.5,323.4 L90.3,320.5 L93.1,317.2 L95.9,313.6 L98.8,309.6 L101.6,305.4 L104.4,301.0 L107.2,296.6 L110.0,292.1 L112.8,287.7 L115.7,283.4 L118.5,279.3 L121.3,275.5 L124.1,271.8 L126.9,268.4 L129.7,265.2 L132.6,262.3 L135.4,259.6 L138.2,257.2 L141.0,255.1 L143.8,253.1 L146.6,251.5 L149.5,250.1 L152.3,248.9 L155.1,248.0 L157.9,247.4 L160.7,247.0 L163.5,246.9 L167.1,247.1 L170.6,247.5 L174.1,248.4 L177.6,249.5 L181.2,250.9 L184.7,252.6 L188.2,254.5 L191.7,256.6 L195.2,259.0 L198.8,261.5 L202.3,264.1 L205.8,266.9 L209.3,269.7 L212.8,272.7 L216.4,275.7 L219.9,278.8 L223.4,281.9 L226.9,284.9 L230.4,288.0 L234.0,291.0 L237.5,294.1 L241.0,297.0 L244.5,300.0 L248.1,302.9 L251.6,305.8 L255.1,308.6 L258.6,311.5 L262.1,314.4 L265.7,317.3 L269.2,320.1 L272.7,323.0 L276.2,325.8 L279.7,328.6 L283.3,331.3 L286.8,334.0 L290.3,336.7 L293.8,339.3 L297.4,341.9 L300.9,344.5 L304.4,347.0 L307.9,349.4 L311.4,351.8 L315.0,354.2 L318.5,356.5 L322.0,358.8 L325.5,361.0 L329.0,363.2 L332.6,365.3 L336.1,367.4 L339.6,369.4 L343.1,371.4 L346.6,373.4 L350.2,375.5 L353.7,377.5 L357.2,379.6 L360.7,381.7 L364.3,383.8 L367.8,385.9 L371.3,388.0 L374.8,390.0 L378.3,392.1 L381.9,394.1 L385.4,396.2 L388.9,398.1 L392.4,400.1 L395.9,402.0 L399.5,403.8 L403.0,405.5 L406.5,407.2 L410.0,408.8 L413.6,410.3 L417.1,411.7 L420.6,413.1 L424.1,414.5 L427.6,415.7 L431.2,417.0 L434.7,418.1 L438.2,419.3 L441.7,420.4 L445.2,421.4 L448.8,422.5 L452.3,423.5 L455.8,424.5 L459.3,425.4 L462.9,426.4 L466.4,427.3 L469.9,428.2 L473.4,429.1 L476.9,430.0 L480.5,430.9 L484.0,431.7 L487.5,432.5 L491.0,433.3 L494.5,434.1 L498.1,434.9 L501.6,435.7 L505.1,436.4 L508.6,437.1 L512.1,437.8 L515.7,438.5 L519.2,439.1 L522.7,439.7 L526.2,440.3 L529.8,440.9 L533.3,441.5 L536.8,442.1 L540.3,442.6 L543.8,443.1 L547.4,443.6 L550.9,444.1 L554.4,444.5 L557.9,444.9 L561.4,445.4 L565.0,445.8 L568.5,446.1 L572.0,446.5 L575.5,446.8 L579.1,447.2 L582.6,447.5 L586.1,447.7 L589.6,448.0 L593.1,448.3 L596.7,448.5 L600.2,448.7 L603.7,448.9 L607.2,449.1 L610.7,449.3 L614.3,449.5 L617.8,449.6 L621.3,449.7 L624.8,449.8 L628.3,449.9 L631.9,450.0 L635.4,450.1 L638.9,450.2 L642.4,450.2 L646.0,450.3 L649.5,450.3 L653.0,450.3 L656.5,450.3 L660.0,450.3 L663.6,450.3 L667.1,450.3 L670.6,450.3 L674.1,450.2 L677.6,450.2 L681.2,450.1 L684.7,450.1 L688.2,450.0 L691.7,449.9 L695.3,449.8 L698.8,449.7 L702.3,449.7 L705.8,449.6 L709.3,449.5 L712.9,449.4 L716.4,449.3 L719.9,449.1 L723.4,449.0 L726.9,448.9 L730.5,448.8 L734.0,448.7 L737.5,448.6 L741.0,448.5 L744.6,448.3 L748.1,448.2 L751.6,448.1 L755.1,448.0 L758.6,447.9 L762.2,447.8 L765.7,447.7 L769.2,447.6 L772.7,447.4 L776.2,447.3 L777.6,447.3" stroke="#47B66D"/>
<path d="M17.1,93.2 L19.9,117.1 L22.7,140.7 L25.5,163.1 L28.3,183.7 L31.1,202.0 L34.0,218.2 L36.8,232.6 L39.6,245.6 L42.4,257.4 L45.2,268.4 L48.0,278.7 L50.9,288.1 L53.7,296.7 L56.5,304.3 L59.3,311.0 L62.1,316.6 L64.9,321.2 L67.8,324.6 L70.6,327.0 L73.4,328.5 L76.2,329.0 L79.0,328.6 L81.9,327.5 L84.7,325.7 L87.5,323.4 L90.3,320.5 L93.1,317.2 L95.9,313.5 L98.8,309.6 L101.6,305.3 L104.4,301.0 L107.2,296.5 L110.0,292.0 L112.8,287.6 L115.7,283.4 L118.5,279.3 L121.3,275.4 L124.1,271.8 L126.9,268.4 L129.7,265.2 L132.6,262.3 L135.4,259.6 L138.2,257.2 L141.0,255.0 L143.8,253.1 L146.6,251.5 L149.5,250.1 L152.3,248.9 L155.1,248.0 L157.9,247.4 L160.7,247.0 L163.5,246.9 L167.1,247.1 L170.6,247.6 L174.1,248.4 L177.6,249.5 L181.2,250.9 L184.7,252.6 L188.2,254.6 L191.7,256.7 L195.2,259.1 L198.8,261.6 L202.3,264.3 L205.8,267.1 L209.3,270.0 L212.8,273.0 L216.4,276.0 L219.9,279.1 L223.4,282.2 L226.9,285.3 L230.4,288.4 L234.0,291.5 L237.5,294.5 L241.0,297.5 L244.5,300.5 L248.1,303.4 L251.6,306.3 L255.1,309.2 L258.6,312.1 L262.1,314.9 L265.7,317.8 L269.2,320.7 L272.7,323.6 L276.2,326.4 L279.7,329.2 L283.3,331.9 L286.8,334.6 L290.3,337.3 L293.8,339.9 L297.4,342.5 L300.9,345.0 L304.4,347.5 L307.9,350.0 L311.4,352.4 L315.0,354.7 L318.5,357.1 L322.0,359.3 L325.5,361.6 L329.0,363.7 L332.6,365.8 L336.1,367.9 L339.6,369.9 L343.1,371.9 L346.6,373.9 L350.2,375.9 L353.7,377.9 L357.2,380.0 L360.7,382.0 L364.3,384.1 L367.8,386.1 L371.3,388.2 L374.8,390.2 L378.3,392.2 L381.9,394.2 L385.4,396.2 L388.9,398.1 L392.4,400.0 L395.9,401.8 L399.5,403.6 L403.0,405.3 L406.5,406.9 L410.0,408.4 L413.6,409.9 L417.1,411.3 L420.6,412.7 L424.1,414.0 L427.6,415.2 L431.2,416.4 L434.7,417.6 L438.2,418.7 L441.7,419.7 L445.2,420.8 L448.8,421.8 L452.3,422.7 L455.8,423.7 L459.3,424.6 L462.9,425.5 L466.4,426.4 L469.9,427.2 L473.4,428.1 L476.9,428.9 L480.5,429.7 L484.0,430.5 L487.5,431.3 L491.0,432.1 L494.5,432.8 L498.1,433.5 L501.6,434.2 L505.1,434.9 L508.6,435.6 L512.1,436.2 L515.7,436.9 L519.2,437.5 L522.7,438.0 L526.2,438.6 L529.8,439.1 L533.3,439.7 L536.8,440.2 L540.3,440.7 L543.8,441.1 L547.4,441.6 L550.9,442.0 L554.4,442.4 L557.9,442.8 L561.4,443.1 L565.0,443.5 L568.5,443.8 L572.0,444.1 L575.5,444.4 L579.1,444.7 L582.6,445.0 L586.1,445.2 L589.6,445.4 L593.1,445.7 L596.7,445.8 L600.2,446.0 L603.7,446.2 L607.2,446.3 L610.7,446.5 L614.3,446.6 L617.8,446.7 L621.3,446.8 L624.8,446.8 L628.3,446.9 L631.9,447.0 L635.4,447.0 L638.9,447.0 L642.4,447.0 L646.0,447.0 L649.5,447.0 L653.0,447.0 L656.5,447.0 L660.0,446.9 L663.6,446.9 L667.1,446.8 L670.6,446.8 L674.1,446.7 L677.6,446.6 L681.2,446.5 L684.7,446.5 L688.2,446.4 L691.7,446.2 L695.3,446.1 L698.8,446.0 L702.3,445.9 L705.8,445.8 L709.3,445.6 L712.9,445.5 L716.4,445.4 L719.9,445.2 L723.4,445.1 L726.9,445.0 L730.5,444.8 L734.0,444.7 L737.5,444.5 L741.0,444.4 L744.6,444.2 L748.1,444.1 L751.6,444.0 L755.1,443.8 L758.6,443.7 L762.2,443.5 L765.7,443.4 L769.2,443.3 L772.7,443.1 L776.2,443.0 L777.6,442.9" stroke="#5E81B5"/>
<path d="M17.1,91.2 L19.9,115.4 L22.7,139.2 L25.5,161.8 L28.3,182.6 L31.1,201.0 L34.0,217.4 L36.8,231.9 L39.6,245.0 L42.4,256.9 L45.2,268.0 L48.0,278.3 L50.9,287.8 L53.7,296.4 L56.5,304.1 L59.3,310.9 L62.1,316.5 L64.9,321.1 L67.8,324.6 L70.6,327.0 L73.4,328.5 L76.2,329.0 L79.0,328.6 L81.9,327.5 L84.7,325.7 L87.5,323.4 L90.3,320.5 L93.1,317.2 L95.9,313.5 L98.8,309.5 L101.6,305.3 L104.4,300.9 L107.2,296.5 L110.0,292.0 L112.8,287.6 L115.7,283.3 L118.5,279.2 L121.3,275.4 L124.1,271.8 L126.9,268.4 L129.7,265.2 L132.6,262.3 L135.4,259.6 L138.2,257.2 L141.0,255.0 L143.8,253.1 L146.6,251.5 L149.5,250.1 L152.3,248.9 L155.1,248.0 L157.9,247.4 L160.7,247.0 L163.5,246.9 L167.1,247.1 L170.6,247.6 L174.1,248.4 L177.6,249.5 L181.2,251.0 L184.7,252.7 L188.2,254.6 L191.7,256.8 L195.2,259.2 L198.8,261.7 L202.3,264.4 L205.8,267.3 L209.3,270.2 L212.8,273.2 L216.4,276.3 L219.9,279.4 L223.4,282.5 L226.9,285.6 L230.4,288.8 L234.0,291.9 L237.5,294.9 L241.0,297.9 L244.5,300.9 L248.1,303.9 L251.6,306.8 L255.1,309.7 L258.6,312.6 L262.1,315.5 L265.7,318.4 L269.2,321.3 L272.7,324.1 L276.2,327.0 L279.7,329.8 L283.3,332.5 L286.8,335.2 L290.3,337.9 L293.8,340.5 L297.4,343.1 L300.9,345.6 L304.4,348.1 L307.9,350.5 L311.4,352.9 L315.0,355.3 L318.5,357.6 L322.0,359.9 L325.5,362.1 L329.0,364.2 L332.6,366.3 L336.1,368.3 L339.6,370.3 L343.1,372.3 L346.6,374.3 L350.2,376.3 L353.7,378.3 L357.2,380.3 L360.7,382.4 L364.3,384.4 L367.8,386.4 L371.3,388.4 L374.8,390.4 L378.3,392.3 L381.9,394.3 L385.4,396.2 L388.9,398.0 L392.4,399.8 L395.9,401.6 L399.5,403.3 L403.0,405.0 L406.5,406.6 L410.0,408.1 L413.6,409.5 L417.1,410.9 L420.6,412.2 L424.1,413.5 L427.6,414.7 L431.2,415.9 L434.7,417.0 L438.2,418.1 L441.7,419.1 L445.2,420.1 L448.8,421.0 L452.3,422.0 L455.8,422.9 L459.3,423.7 L462.9,424.6 L466.4,425.4 L469.9,426.3 L473.4,427.1 L476.9,427.9 L480.5,428.6 L484.0,429.4 L487.5,430.1 L491.0,430.8 L494.5,431.5 L498.1,432.2 L501.6,432.9 L505.1,433.5 L508.6,434.1 L512.1,434.7 L515.7,435.3 L519.2,435.8 L522.7,436.4 L526.2,436.9 L529.8,437.4 L533.3,437.9 L536.8,438.3 L540.3,438.7 L543.8,439.2 L547.4,439.6 L550.9,439.9 L554.4,440.3 L557.9,440.6 L561.4,441.0 L565.0,441.3 L568.5,441.6 L572.0,441.8 L575.5,442.1 L579.1,442.3 L582.6,442.5 L586.1,442.7 L589.6,442.9 L593.1,443.1 L596.7,443.2 L600.2,443.4 L603.7,443.5 L607.2,443.6 L610.7,443.7 L614.3,443.8 L617.8,443.8 L621.3,443.9 L624.8,443.9 L628.3,444.0 L631.9,444.0 L635.4,444.0 L638.9,444.0 L642.4,444.0 L646.0,443.9 L649.5,443.9 L653.0,443.8 L656.5,443.8 L660.0,443.7 L663.6,443.6 L667.1,443.5 L670.6,443.4 L674.1,443.3 L677.6,443.2 L681.2,443.1 L684.7,443.0 L688.2,442.8 L691.7,442.7 L695.3,442.6 L698.8,442.4 L702.3,442.3 L705.8,442.1 L709.3,442.0 L712.9,441.8 L716.4,441.6 L719.9,441.5 L723.4,441.3 L726.9,441.2 L730.5,441.0 L734.0,440.8 L737.5,440.6 L741.0,440.5 L744.6,440.3 L748.1,440.1 L751.6,440.0 L755.1,439.8 L758.6,439.6 L762.2,439.5 L765.7,439.3 L769.2,439.2 L772.7,439.0 L776.2,438.8 L777.6,438.8" stroke="#E19C24"/>
<path d="M17.1,89.3 L19.9,113.7 L22.7,137.7 L25.5,160.5 L28.3,181.5 L31.1,200.1 L34.0,216.6 L36.8,231.2 L39.6,244.4 L42.4,256.4 L45.2,267.5 L48.0,277.9 L50.9,287.5 L53.7,296.2 L56.5,304.0 L59.3,310.7 L62.1,316.5 L64.9,321.1 L67.8,324.6 L70.6,327.0 L73.4,328.4 L76.2,329.0 L79.0,328.6 L81.9,327.5 L84.7,325.7 L87.5,323.4 L90.3,320.5 L93.1,317.2 L95.9,313.5 L98.8,309.5 L101.6,305.3 L104.4,300.9 L107.2,296.4 L110.0,292.0 L112.8,287.5 L115.7,283.3 L118.5,279.2 L121.3,275.3 L124.1,271.7 L126.9,268.3 L129.7,265.2 L132.6,262.3 L135.4,259.6 L138.2,257.2 L141.0,255.0 L143.8,253.1 L146.6,251.5 L149.5,250.1 L152.3,248.9 L155.1,248.0 L157.9,247.4 L160.7,247.0 L163.5,246.9 L167.1,247.1 L170.6,247.6 L174.1,248.4 L177.6,249.6 L181.2,251.0 L184.7,252.7 L188.2,254.7 L191.7,256.9 L195.2,259.3 L198.8,261.9 L202.3,264.6 L205.8,267.5 L209.3,270.4 L212.8,273.4 L216.4,276.5 L219.9,279.7 L223.4,282.8 L226.9,286.0 L230.4,289.1 L234.0,292.2 L237.5,295.3 L241.0,298.4 L244.5,301.4 L248.1,304.4 L251.6,307.3 L255.1,310.2 L258.6,313.1 L262.1,316.1 L265.7,319.0 L269.2,321.8 L272.7,324.7 L276.2,327.5 L279.7,330.3 L283.3,333.1 L286.8,335.8 L290.3,338.4 L293.8,341.1 L297.4,343.6 L300.9,346.2 L304.4,348.6 L307.9,351.1 L311.4,353.5 L315.0,355.8 L318.5,358.1 L322.0,360.4 L325.5,362.6 L329.0,364.7 L332.6,366.8 L336.1,368.8 L339.6,370.8 L343.1,372.8 L346.6,374.7 L350.2,376.7 L353.7,378.7 L357.2,380.7 L360.7,382.7 L364.3,384.6 L367.8,386.6 L371.3,388.6 L374.8,390.5 L378.3,392.4 L381.9,394.3 L385.4,396.1 L388.9,397.9 L392.4,399.7 L395.9,401.4 L399.5,403.1 L403.0,404.7 L406.5,406.2 L410.0,407.7 L413.6,409.1 L417.1,410.5 L420.6,411.8 L424.1,413.0 L427.6,414.2 L431.2,415.3 L434.7,416.4 L438.2,417.4 L441.7,418.4 L445.2,419.4 L448.8,420.3 L452.3,421.2 L455.8,422.1 L459.3,422.9 L462.9,423.7 L466.4,424.5 L469.9,425.3 L473.4,426.0 L476.9,426.8 L480.5,427.5 L484.0,428.2 L487.5,428.9 L491.0,429.6 L494.5,430.2 L498.1,430.9 L501.6,431.5 L505.1,432.1 L508.6,432.6 L512.1,433.2 L515.7,433.7 L519.2,434.2 L522.7,434.7 L526.2,435.2 L529.8,435.6 L533.3,436.1 L536.8,436.5 L540.3,436.9 L543.8,437.2 L547.4,437.6 L550.9,437.9 L554.4,438.2 L557.9,438.5 L561.4,438.8 L565.0,439.1 L568.5,439.3 L572.0,439.6 L575.5,439.8 L579.1,440.0 L582.6,440.2 L586.1,440.3 L589.6,440.5 L593.1,440.6 L596.7,440.7 L600.2,440.8 L603.7,440.9 L607.2,441.0 L610.7,441.0 L614.3,441.1 L617.8,441.1 L621.3,441.1 L624.8,441.1 L628.3,441.1 L631.9,441.1 L635.4,441.0 L638.9,441.0 L642.4,441.0 L646.0,440.9 L649.5,440.8 L653.0,440.7 L656.5,440.6 L660.0,440.5 L663.6,440.4 L667.1,440.3 L670.6,440.2 L674.1,440.1 L677.6,439.9 L681.2,439.8 L684.7,439.6 L688.2,439.5 L691.7,439.3 L695.3,439.1 L698.8,439.0 L702.3,438.8 L705.8,438.6 L709.3,438.4 L712.9,438.2 L716.4,438.1 L719.9,437.9 L723.4,437.7 L726.9,437.5 L730.5,437.3 L734.0,437.1 L737.5,436.9 L741.0,436.7 L744.6,436.5 L748.1,436.3 L751.6,436.1 L755.1,436.0 L758.6,435.8 L762.2,435.6 L765.7,435.4 L769.2,435.2 L772.7,435.0 L776.2,434.8 L777.6,434.8" stroke="#8FB032"/>
<path d="M17.1,87.4 L19.9,112.0 L22.7,136.2 L25.5,159.2 L28.3,180.4 L31.1,199.2 L34.0,215.8 L36.8,230.5 L39.6,243.8 L42.4,255.9 L45.2,267.1 L48.0,277.6 L50.9,287.2 L53.7,296.0 L56.5,303.8 L59.3,310.6 L62.1,316.4 L64.9,321.0 L67.8,324.6 L70.6,327.0 L73.4,328.4 L76.2,329.0 L79.0,328.6 L81.9,327.5 L84.7,325.7 L87.5,323.4 L90.3,320.5 L93.1,317.1 L95.9,313.4 L98.8,309.5 L101.6,305.2 L104.4,300.9 L107.2,296.4 L110.0,291.9 L112.8,287.5 L115.7,283.2 L118.5,279.2 L121.3,275.3 L124.1,271.7 L126.9,268.3 L129.7,265.2 L132.6,262.2 L135.4,259.6 L138.2,257.2 L141.0,255.0 L143.8,253.1 L146.6,251.5 L149.5,250.1 L152.3,248.9 L155.1,248.0 L157.9,247.4 L160.7,247.0 L163.5,246.9 L167.1,247.1 L170.6,247.6 L174.1,248.4 L177.6,249.6 L181.2,251.0 L184.7,252.8 L188.2,254.8 L191.7,257.0 L195.2,259.4 L198.8,262.0 L202.3,264.8 L205.8,267.6 L209.3,270.6 L212.8,273.7 L216.4,276.8 L219.9,280.0 L223.4,283.2 L226.9,286.3 L230.4,289.5 L234.0,292.6 L237.5,295.7 L241.0,298.8 L244.5,301.8 L248.1,304.8 L251.6,307.8 L255.1,310.7 L258.6,313.7 L262.1,316.6 L265.7,319.5 L269.2,322.4 L272.7,325.3 L276.2,328.1 L279.7,330.9 L283.3,333.6 L286.8,336.3 L290.3,339.0 L293.8,341.6 L297.4,344.2 L300.9,346.7 L304.4,349.2 L307.9,351.6 L311.4,354.0 L315.0,356.3 L318.5,358.6 L322.0,360.9 L325.5,363.0 L329.0,365.2 L332.6,367.2 L336.1,369.2 L339.6,371.2 L343.1,373.2 L346.6,375.1 L350.2,377.1 L353.7,379.0 L357.2,381.0 L360.7,382.9 L364.3,384.9 L367.8,386.8 L371.3,388.7 L374.8,390.6 L378.3,392.5 L381.9,394.3 L385.4,396.1 L388.9,397.9 L392.4,399.6 L395.9,401.2 L399.5,402.8 L403.0,404.4 L406.5,405.9 L410.0,407.3 L413.6,408.7 L417.1,410.0 L420.6,411.3 L424.1,412.5 L427.6,413.6 L431.2,414.7 L434.7,415.8 L438.2,416.8 L441.7,417.8 L445.2,418.7 L448.8,419.6 L452.3,420.4 L455.8,421.2 L459.3,422.0 L462.9,422.8 L466.4,423.6 L469.9,424.3 L473.4,425.0 L476.9,425.7 L480.5,426.4 L484.0,427.1 L487.5,427.7 L491.0,428.3 L494.5,428.9 L498.1,429.5 L501.6,430.1 L505.1,430.6 L508.6,431.2 L512.1,431.7 L515.7,432.1 L519.2,432.6 L522.7,433.1 L526.2,433.5 L529.8,433.9 L533.3,434.3 L536.8,434.7 L540.3,435.0 L543.8,435.3 L547.4,435.7 L550.9,436.0 L554.4,436.2 L557.9,436.5 L561.4,436.7 L565.0,437.0 L568.5,437.2 L572.0,437.3 L575.5,437.5 L579.1,437.7 L582.6,437.8 L586.1,437.9 L589.6,438.0 L593.1,438.1 L596.7,438.2 L600.2,438.3 L603.7,438.3 L607.2,438.4 L610.7,438.4 L614.3,438.4 L617.8,438.4 L621.3,438.4 L624.8,438.4 L628.3,438.3 L631.9,438.3 L635.4,438.2 L638.9,438.1 L642.4,438.0 L646.0,437.9 L649.5,437.8 L653.0,437.7 L656.5,437.6 L660.0,437.5 L663.6,437.3 L667.1,437.2 L670.6,437.0 L674.1,436.9 L677.6,436.7 L681.2,436.6 L684.7,436.4 L688.2,436.2 L691.7,436.0 L695.3,435.8 L698.8,435.6 L702.3,435.4 L705.8,435.2 L709.3,435.0 L712.9,434.8 L716.4,434.6 L719.9,434.4 L723.4,434.2 L726.9,434.0 L730.5,433.8 L734.0,433.5 L737.5,433.3 L741.0,433.1 L744.6,432.9 L748.1,432.7 L751.6,432.5 L755.1,432.3 L758.6,432.1 L762.2,431.9 L765.7,431.7 L769.2,431.5 L772.7,431.2 L776.2,431.0 L777.6,431.0" stroke="#EB6235"/>
<path d="M17.1,85.4 L19.9,110.2 L22.7,134.7 L25.5,158.0 L28.3,179.3 L31.1,198.2 L34.0,214.9 L36.8,229.8 L39.6,243.2 L42.4,255.3 L45.2,266.7 L48.0,277.2 L50.9,286.9 L53.7,295.7 L56.5,303.6 L59.3,310.5 L62.1,316.3 L64.9,321.0 L67.8,324.5 L70.6,327.0 L73.4,328.4 L76.2,329.0 L79.0,328.6 L81.9,327.5 L84.7,325.7 L87.5,323.3 L90.3,320.5 L93.1,317.1 L95.9,313.4 L98.8,309.4 L101.6,305.2 L104.4,300.8 L107.2,296.4 L110.0,291.9 L112.8,287.5 L115.7,283.2 L118.5,279.1 L121.3,275.3 L124.1,271.7 L126.9,268.3 L129.7,265.1 L132.6,262.2 L135.4,259.6 L138.2,257.2 L141.0,255.0 L143.8,253.1 L146.6,251.5 L149.5,250.1 L152.3,248.9 L155.1,248.0 L157.9,247.4 L160.7,247.0 L163.5,246.9 L167.1,247.1 L170.6,247.6 L174.1,248.4 L177.6,249.6 L181.2,251.1 L184.7,252.8 L188.2,254.9 L191.7,257.1 L195.2,259.5 L198.8,262.2 L202.3,264.9 L205.8,267.8 L209.3,270.8 L212.8,273.9 L216.4,277.1 L219.9,280.3 L223.4,283.5 L226.9,286.7 L230.4,289.9 L234.0,293.0 L237.5,296.1 L241.0,299.2 L244.5,302.3 L248.1,305.3 L251.6,308.3 L255.1,311.2 L258.6,314.2 L262.1,317.1 L265.7,320.0 L269.2,322.9 L272.7,325.8 L276.2,328.6 L279.7,331.4 L283.3,334.2 L286.8,336.9 L290.3,339.5 L293.8,342.2 L297.4,344.7 L300.9,347.2 L304.4,349.7 L307.9,352.1 L311.4,354.5 L315.0,356.8 L318.5,359.1 L322.0,361.3 L325.5,363.5 L329.0,365.6 L332.6,367.7 L336.1,369.7 L339.6,371.6 L343.1,373.6 L346.6,375.5 L350.2,377.5 L353.7,379.4 L357.2,381.3 L360.7,383.2 L364.3,385.1 L367.8,387.0 L371.3,388.9 L374.8,390.7 L378.3,392.5 L381.9,394.3 L385.4,396.1 L388.9,397.8 L392.4,399.4 L395.9,401.0 L399.5,402.6 L403.0,404.1 L406.5,405.6 L410.0,407.0 L413.6,408.3 L417.1,409.6 L420.6,410.8 L424.1,412.0 L427.6,413.1 L431.2,414.2 L434.7,415.2 L438.2,416.2 L441.7,417.1 L445.2,418.0 L448.8,418.8 L452.3,419.7 L455.8,420.4 L459.3,421.2 L462.9,421.9 L466.4,422.6 L469.9,423.3 L473.4,424.0 L476.9,424.6 L480.5,425.3 L484.0,425.9 L487.5,426.5 L491.0,427.1 L494.5,427.6 L498.1,428.2 L501.6,428.7 L505.1,429.2 L508.6,429.7 L512.1,430.2 L515.7,430.6 L519.2,431.0 L522.7,431.4 L526.2,431.8 L529.8,432.2 L533.3,432.5 L536.8,432.9 L540.3,433.2 L543.8,433.5 L547.4,433.7 L550.9,434.0 L554.4,434.2 L557.9,434.5 L561.4,434.7 L565.0,434.8 L568.5,435.0 L572.0,435.2 L575.5,435.3 L579.1,435.4 L582.6,435.5 L586.1,435.6 L589.6,435.7 L593.1,435.7 L596.7,435.8 L600.2,435.8 L603.7,435.8 L607.2,435.8 L610.7,435.8 L614.3,435.8 L617.8,435.8 L621.3,435.7 L624.8,435.7 L628.3,435.6 L631.9,435.5 L635.4,435.4 L638.9,435.3 L642.4,435.2 L646.0,435.1 L649.5,435.0 L653.0,434.8 L656.5,434.7 L660.0,434.5 L663.6,434.4 L667.1,434.2 L670.6,434.0 L674.1,433.8 L677.6,433.6 L681.2,433.4 L684.7,433.2 L688.2,433.0 L691.7,432.8 L695.3,432.6 L698.8,432.4 L702.3,432.2 L705.8,432.0 L709.3,431.7 L712.9,431.5 L716.4,431.3 L719.9,431.0 L723.4,430.8 L726.9,430.6 L730.5,430.3 L734.0,430.1 L737.5,429.9 L741.0,429.6 L744.6,429.4 L748.1,429.2 L751.6,429.0 L755.1,428.7 L758.6,428.5 L762.2,428.3 L765.7,428.1 L769.2,427.8 L772.7,427.6 L776.2,427.4 L777.6,427.3" stroke="#8778B3"/>
<path d="M17.1,83.5 L19.9,108.5 L22.7,133.2 L25.5,156.7 L28.3,178.2 L31.1,197.3 L34.0,214.1 L36.8,229.1 L39.6,242.6 L42.4,254.8 L45.2,266.2 L48.0,276.8 L50.9,286.6 L53.7,295.5 L56.5,303.4 L59.3,310.3 L62.1,316.2 L64.9,320.9 L67.8,324.5 L70.6,327.0 L73.4,328.4 L76.2,329.0 L79.0,328.6 L81.9,327.5 L84.7,325.7 L87.5,323.3 L90.3,320.4 L93.1,317.1 L95.9,313.4 L98.8,309.4 L101.6,305.2 L104.4,300.8 L107.2,296.3 L110.0,291.8 L112.8,287.4 L115.7,283.2 L118.5,279.1 L121.3,275.3 L124.1,271.6 L126.9,268.3 L129.7,265.1 L132.6,262.2 L135.4,259.6 L138.2,257.2 L141.0,255.0 L143.8,253.1 L146.6,251.5 L149.5,250.1 L152.3,248.9 L155.1,248.0 L157.9,247.4 L160.7,247.0 L163.5,246.9 L167.1,247.1 L170.6,247.6 L174.1,248.4 L177.6,249.6 L181.2,251.1 L184.7,252.9 L188.2,254.9 L191.7,257.2 L195.2,259.7 L198.8,262.3 L202.3,265.1 L205.8,268.0 L209.3,271.0 L212.8,274.2 L216.4,277.3 L219.9,280.5 L223.4,283.8 L226.9,287.0 L230.4,290.2 L234.0,293.4 L237.5,296.5 L241.0,299.7 L244.5,302.7 L248.1,305.8 L251.6,308.8 L255.1,311.7 L258.6,314.7 L262.1,317.6 L265.7,320.6 L269.2,323.5 L272.7,326.3 L276.2,329.2 L279.7,332.0 L283.3,334.7 L286.8,337.4 L290.3,340.1 L293.8,342.7 L297.4,345.2 L300.9,347.8 L304.4,350.2 L307.9,352.6 L311.4,355.0 L315.0,357.3 L318.5,359.6 L322.0,361.8 L325.5,364.0 L329.0,366.1 L332.6,368.1 L336.1,370.1 L339.6,372.1 L343.1,374.0 L346.6,375.9 L350.2,377.8 L353.7,379.7 L357.2,381.6 L360.7,383.5 L364.3,385.4 L367.8,387.2 L371.3,389.0 L374.8,390.8 L378.3,392.6 L381.9,394.3 L385.4,396.0 L388.9,397.7 L392.4,399.3 L395.9,400.9 L399.5,402.4 L403.0,403.8 L406.5,405.2 L410.0,406.6 L413.6,407.9 L417.1,409.1 L420.6,410.3 L424.1,411.4 L427.6,412.5 L431.2,413.6 L434.7,414.6 L438.2,415.5 L441.7,416.4 L445.2,417.3 L448.8,418.1 L452.3,418.9 L455.8,419.6 L459.3,420.3 L462.9,421.0 L466.4,421.7 L469.9,422.3 L473.4,423.0 L476.9,423.6 L480.5,424.2 L484.0,424.7 L487.5,425.3 L491.0,425.8 L494.5,426.4 L498.1,426.9 L501.6,427.3 L505.1,427.8 L508.6,428.2 L512.1,428.7 L515.7,429.1 L519.2,429.5 L522.7,429.8 L526.2,430.2 L529.8,430.5 L533.3,430.8 L536.8,431.1 L540.3,431.4 L543.8,431.6 L547.4,431.8 L550.9,432.1 L554.4,432.3 L557.9,432.5 L561.4,432.6 L565.0,432.8 L568.5,432.9 L572.0,433.0 L575.5,433.1 L579.1,433.2 L582.6,433.3 L586.1,433.3 L589.6,433.4 L593.1,433.4 L596.7,433.4 L600.2,433.4 L603.7,433.4 L607.2,433.4 L610.7,433.3 L614.3,433.3 L617.8,433.2 L621.3,433.1 L624.8,433.0 L628.3,432.9 L631.9,432.8 L635.4,432.7 L638.9,432.6 L642.4,432.5 L646.0,432.3 L649.5,432.2 L653.0,432.0 L656.5,431.8 L660.0,431.6 L663.6,431.5 L667.1,431.3 L670.6,431.1 L674.1,430.9 L677.6,430.6 L681.2,430.4 L684.7,430.2 L688.2,430.0 L691.7,429.8 L695.3,429.5 L698.8,429.3 L702.3,429.0 L705.8,428.8 L709.3,428.6 L712.9,428.3 L716.4,428.1 L719.9,427.8 L723.4,427.6 L726.9,427.3 L730.5,427.1 L734.0,426.8 L737.5,426.6 L741.0,426.3 L744.6,426.1 L748.1,425.8 L751.6,425.6 L755.1,425.3 L758.6,425.1 L762.2,424.8 L765.7,424.6 L769.2,424.4 L772.7,424.1 L776.2,423.9 L777.6,423.8" stroke="#C56E1A"/>
<path d="M17.1,81.5 L19.9,106.8 L22.7,131.7 L25.5,155.4 L28.3,177.1 L31.1,196.3 L34.0,213.3 L36.8,228.4 L39.6,242.0 L42.4,254.3 L45.2,265.8 L48.0,276.5 L50.9,286.3 L53.7,295.3 L56.5,303.2 L59.3,310.2 L62.1,316.1 L64.9,320.9 L67.8,324.5 L70.6,327.0 L73.4,328.4 L76.2,329.0 L79.0,328.6 L81.9,327.5 L84.7,325.7 L87.5,323.3 L90.3,320.4 L93.1,317.1 L95.9,313.4 L98.8,309.4 L101.6,305.1 L104.4,300.7 L107.2,296.3 L110.0,291.8 L112.8,287.4 L115.7,283.1 L118.5,279.1 L121.3,275.2 L124.1,271.6 L126.9,268.2 L129.7,265.1 L132.6,262.2 L135.4,259.6 L138.2,257.1 L141.0,255.0 L143.8,253.1 L146.6,251.5 L149.5,250.1 L152.3,248.9 L155.1,248.0 L157.9,247.4 L160.7,247.0 L163.5,246.9 L167.1,247.1 L170.6,247.6 L174.1,248.5 L177.6,249.7 L181.2,251.2 L184.7,253.0 L188.2,255.0 L191.7,257.3 L195.2,259.8 L198.8,262.4 L202.3,265.2 L205.8,268.2 L209.3,271.3 L212.8,274.4 L216.4,277.6 L219.9,280.8 L223.4,284.1 L226.9,287.3 L230.4,290.6 L234.0,293.8 L237.5,296.9 L241.0,300.1 L244.5,303.2 L248.1,306.2 L251.6,309.2 L255.1,312.2 L258.6,315.2 L262.1,318.1 L265.7,321.1 L269.2,324.0 L272.7,326.9 L276.2,329.7 L279.7,332.5 L283.3,335.3 L286.8,338.0 L290.3,340.6 L293.8,343.2 L297.4,345.8 L300.9,348.3 L304.4,350.7 L307.9,353.1 L311.4,355.5 L315.0,357.8 L318.5,360.1 L322.0,362.3 L325.5,364.4 L329.0,366.5 L332.6,368.6 L336.1,370.6 L339.6,372.5 L343.1,374.4 L346.6,376.3 L350.2,378.2 L353.7,380.1 L357.2,381.9 L360.7,383.8 L364.3,385.6 L367.8,387.4 L371.3,389.2 L374.8,391.0 L378.3,392.7 L381.9,394.4 L385.4,396.0 L388.9,397.6 L392.4,399.2 L395.9,400.7 L399.5,402.1 L403.0,403.5 L406.5,404.9 L410.0,406.2 L413.6,407.5 L417.1,408.7 L420.6,409.8 L424.1,410.9 L427.6,412.0 L431.2,413.0 L434.7,413.9 L438.2,414.9 L441.7,415.7 L445.2,416.6 L448.8,417.3 L452.3,418.1 L455.8,418.8 L459.3,419.5 L462.9,420.1 L466.4,420.7 L469.9,421.3 L473.4,421.9 L476.9,422.5 L480.5,423.1 L484.0,423.6 L487.5,424.1 L491.0,424.6 L494.5,425.1 L498.1,425.5 L501.6,426.0 L505.1,426.4 L508.6,426.8 L512.1,427.2 L515.7,427.5 L519.2,427.9 L522.7,428.2 L526.2,428.5 L529.8,428.8 L533.3,429.1 L536.8,429.3 L540.3,429.6 L543.8,429.8 L547.4,430.0 L550.9,430.2 L554.4,430.3 L557.9,430.5 L561.4,430.6 L565.0,430.7 L568.5,430.8 L572.0,430.9 L575.5,431.0 L579.1,431.0 L582.6,431.1 L586.1,431.1 L589.6,431.1 L593.1,431.1 L596.7,431.1 L600.2,431.0 L603.7,431.0 L607.2,430.9 L610.7,430.9 L614.3,430.8 L617.8,430.7 L621.3,430.6 L624.8,430.5 L628.3,430.4 L631.9,430.2 L635.4,430.1 L638.9,429.9 L642.4,429.8 L646.0,429.6 L649.5,429.4 L653.0,429.2 L656.5,429.0 L660.0,428.8 L663.6,428.6 L667.1,428.4 L670.6,428.2 L674.1,428.0 L677.6,427.8 L681.2,427.5 L684.7,427.3 L688.2,427.0 L691.7,426.8 L695.3,426.5 L698.8,426.3 L702.3,426.0 L705.8,425.8 L709.3,425.5 L712.9,425.2 L716.4,425.0 L719.9,424.7 L723.4,424.4 L726.9,424.2 L730.5,423.9 L734.0,423.6 L737.5,423.4 L741.0,423.1 L744.6,422.8 L748.1,422.6 L751.6,422.3 L755.1,422.0 L758.6,421.8 L762.2,421.5 L765.7,421.3 L769.2,421.0 L772.7,420.8 L776.2,420.5 L777.6,420.4" stroke="#5D9EC7"/>
<path d="M17.1,79.6 L19.9,105.1 L22.7,130.2 L25.5,154.1 L28.3,176.0 L31.1,195.4 L34.0,212.5 L36.8,227.7 L39.6,241.4 L42.4,253.8 L45.2,265.3 L48.0,276.1 L50.9,286.0 L53.7,295.0 L56.5,303.1 L59.3,310.1 L62.1,316.0 L64.9,320.8 L67.8,324.5 L70.6,327.0 L73.4,328.4 L76.2,329.0 L79.0,328.6 L81.9,327.5 L84.7,325.7 L87.5,323.3 L90.3,320.4 L93.1,317.1 L95.9,313.3 L98.8,309.3 L101.6,305.1 L104.4,300.7 L107.2,296.2 L110.0,291.7 L112.8,287.3 L115.7,283.1 L118.5,279.0 L121.3,275.2 L124.1,271.6 L126.9,268.2 L129.7,265.1 L132.6,262.2 L135.4,259.5 L138.2,257.1 L141.0,255.0 L143.8,253.1 L146.6,251.4 L149.5,250.1 L152.3,248.9 L155.1,248.0 L157.9,247.4 L160.7,247.0 L163.5,246.9 L167.1,247.1 L170.6,247.6 L174.1,248.5 L177.6,249.7 L181.2,251.2 L184.7,253.0 L188.2,255.1 L191.7,257.4 L195.2,259.9 L198.8,262.6 L202.3,265.4 L205.8,268.4 L209.3,271.5 L212.8,274.6 L216.4,277.8 L219.9,281.1 L223.4,284.4 L226.9,287.7 L230.4,290.9 L234.0,294.1 L237.5,297.3 L241.0,300.5 L244.5,303.6 L248.1,306.7 L251.6,309.7 L255.1,312.7 L258.6,315.7 L262.1,318.6 L265.7,321.6 L269.2,324.5 L272.7,327.4 L276.2,330.2 L279.7,333.0 L283.3,335.8 L286.8,338.5 L290.3,341.1 L293.8,343.7 L297.4,346.3 L300.9,348.8 L304.4,351.2 L307.9,353.6 L311.4,356.0 L315.0,358.3 L318.5,360.5 L322.0,362.7 L325.5,364.9 L329.0,367.0 L332.6,369.0 L336.1,371.0 L339.6,372.9 L343.1,374.8 L346.6,376.7 L350.2,378.5 L353.7,380.4 L357.2,382.2 L360.7,384.0 L364.3,385.8 L367.8,387.6 L371.3,389.4 L374.8,391.1 L378.3,392.7 L381.9,394.4 L385.4,396.0 L388.9,397.5 L392.4,399.0 L395.9,400.5 L399.5,401.9 L403.0,403.3 L406.5,404.6 L410.0,405.8 L413.6,407.1 L417.1,408.2 L420.6,409.3 L424.1,410.4 L427.6,411.4 L431.2,412.4 L434.7,413.3 L438.2,414.2 L441.7,415.0 L445.2,415.8 L448.8,416.6 L452.3,417.3 L455.8,418.0 L459.3,418.6 L462.9,419.2 L466.4,419.8 L469.9,420.4 L473.4,420.9 L476.9,421.4 L480.5,421.9 L484.0,422.4 L487.5,422.9 L491.0,423.4 L494.5,423.8 L498.1,424.2 L501.6,424.6 L505.1,425.0 L508.6,425.4 L512.1,425.7 L515.7,426.0 L519.2,426.3 L522.7,426.6 L526.2,426.9 L529.8,427.1 L533.3,427.4 L536.8,427.6 L540.3,427.8 L543.8,428.0 L547.4,428.1 L550.9,428.3 L554.4,428.4 L557.9,428.5 L561.4,428.6 L565.0,428.7 L568.5,428.8 L572.0,428.8 L575.5,428.9 L579.1,428.9 L582.6,428.9 L586.1,428.9 L589.6,428.9 L593.1,428.8 L596.7,428.8 L600.2,428.7 L603.7,428.7 L607.2,428.6 L610.7,428.5 L614.3,428.4 L617.8,428.3 L621.3,428.1 L624.8,428.0 L628.3,427.9 L631.9,427.7 L635.4,427.5 L638.9,427.4 L642.4,427.2 L646.0,427.0 L649.5,426.8 L653.0,426.6 L656.5,426.4 L660.0,426.1 L663.6,425.9 L667.1,425.7 L670.6,425.4 L674.1,425.2 L677.6,424.9 L681.2,424.7 L684.7,424.4 L688.2,424.2 L691.7,423.9 L695.3,423.6 L698.8,423.4 L702.3,423.1 L705.8,422.8 L709.3,422.5 L712.9,422.3 L716.4,422.0 L719.9,421.7 L723.4,421.4 L726.9,421.1 L730.5,420.9 L734.0,420.6 L737.5,420.3 L741.0,420.0 L744.6,419.7 L748.1,419.4 L751.6,419.2 L755.1,418.9 L758.6,418.6 L762.2,418.3 L765.7,418.1 L769.2,417.8 L772.7,417.5 L776.2,417.3 L777.6,417.2" stroke="#FFBF00"/>
<path d="M17.1,77.7 L19.9,103.4 L22.7,128.7 L25.5,152.8 L28.3,174.9 L31.1,194.5 L34.0,211.7 L36.8,227.0 L39.6,240.8 L42.4,253.3 L45.2,264.9 L48.0,275.7 L50.9,285.7 L53.7,294.8 L56.5,302.9 L59.3,310.0 L62.1,316.0 L64.9,320.8 L67.8,324.4 L70.6,327.0 L73.4,328.4 L76.2,329.0 L79.0,328.6 L81.9,327.5 L84.7,325.7 L87.5,323.3 L90.3,320.4 L93.1,317.0 L95.9,313.3 L98.8,309.3 L101.6,305.1 L104.4,300.7 L107.2,296.2 L110.0,291.7 L112.8,287.3 L115.7,283.0 L118.5,279.0 L121.3,275.2 L124.1,271.6 L126.9,268.2 L129.7,265.1 L132.6,262.2 L135.4,259.5 L138.2,257.1 L141.0,255.0 L143.8,253.1 L146.6,251.4 L149.5,250.1 L152.3,248.9 L155.1,248.0 L157.9,247.4 L160.7,247.0 L163.5,246.9 L167.1,247.1 L170.6,247.6 L174.1,248.5 L177.6,249.7 L181.2,251.2 L184.7,253.1 L188.2,255.1 L191.7,257.5 L195.2,260.0 L198.8,262.7 L202.3,265.6 L205.8,268.5 L209.3,271.6 L212.8,274.8 L216.4,278.1 L219.9,281.4 L223.4,284.7 L226.9,288.0 L230.4,291.3 L234.0,294.5 L237.5,297.7 L241.0,300.9 L244.5,304.0 L248.1,307.1 L251.6,310.1 L255.1,313.2 L258.6,316.2 L262.1,319.1 L265.7,322.1 L269.2,325.0 L272.7,327.9 L276.2,330.7 L279.7,333.5 L283.3,336.3 L286.8,339.0 L290.3,341.6 L293.8,344.2 L297.4,346.8 L300.9,349.3 L304.4,351.7 L307.9,354.1 L311.4,356.5 L315.0,358.8 L318.5,361.0 L322.0,363.2 L325.5,365.3 L329.0,367.4 L332.6,369.4 L336.1,371.4 L339.6,373.3 L343.1,375.2 L346.6,377.0 L350.2,378.9 L353.7,380.7 L357.2,382.5 L360.7,384.3 L364.3,386.1 L367.8,387.8 L371.3,389.5 L374.8,391.2 L378.3,392.8 L381.9,394.4 L385.4,395.9 L388.9,397.4 L392.4,398.9 L395.9,400.3 L399.5,401.7 L403.0,403.0 L406.5,404.3 L410.0,405.5 L413.6,406.7 L417.1,407.8 L420.6,408.8 L424.1,409.9 L427.6,410.9 L431.2,411.8 L434.7,412.7 L438.2,413.5 L441.7,414.3 L445.2,415.1 L448.8,415.8 L452.3,416.5 L455.8,417.1 L459.3,417.7 L462.9,418.3 L466.4,418.8 L469.9,419.4 L473.4,419.9 L476.9,420.3 L480.5,420.8 L484.0,421.3 L487.5,421.7 L491.0,422.1 L494.5,422.5 L498.1,422.9 L501.6,423.3 L505.1,423.6 L508.6,423.9 L512.1,424.2 L515.7,424.5 L519.2,424.8 L522.7,425.0 L526.2,425.3 L529.8,425.5 L533.3,425.7 L536.8,425.9 L540.3,426.0 L543.8,426.2 L547.4,426.3 L550.9,426.4 L554.4,426.5 L557.9,426.6 L561.4,426.7 L565.0,426.7 L568.5,426.8 L572.0,426.8 L575.5,426.8 L579.1,426.8 L582.6,426.8 L586.1,426.7 L589.6,426.7 L593.1,426.6 L596.7,426.6 L600.2,426.5 L603.7,426.4 L607.2,426.3 L610.7,426.1 L614.3,426.0 L617.8,425.9 L621.3,425.7 L624.8,425.6 L628.3,425.4 L631.9,425.2 L635.4,425.0 L638.9,424.8 L642.4,424.6 L646.0,424.4 L649.5,424.2 L653.0,424.0 L656.5,423.7 L660.0,423.5 L663.6,423.3 L667.1,423.0 L670.6,422.8 L674.1,422.5 L677.6,422.2 L681.2,422.0 L684.7,421.7 L688.2,421.4 L691.7,421.1 L695.3,420.8 L698.8,420.6 L702.3,420.3 L705.8,420.0 L709.3,419.7 L712.9,419.4 L716.4,419.1 L719.9,418.8 L723.4,418.5 L726.9,418.2 L730.5,417.9 L734.0,417.6 L737.5,417.3 L741.0,417.0 L744.6,416.7 L748.1,416.4 L751.6,416.1 L755.1,415.9 L758.6,415.6 L762.2,415.3 L765.7,415.0 L769.2,414.7 L772.7,414.4 L776.2,414.2 L777.6,414.0" stroke="#A5609D"/>
<path d="M17.1,75.7 L19.9,101.6 L22.7,127.2 L25.5,151.5 L28.3,173.8 L31.1,193.5 L34.0,210.9 L36.8,226.3 L39.6,240.2 L42.4,252.7 L45.2,264.5 L48.0,275.4 L50.9,285.4 L53.7,294.6 L56.5,302.7 L59.3,309.8 L62.1,315.9 L64.9,320.7 L67.8,324.4 L70.6,326.9 L73.4,328.4 L76.2,329.0 L79.0,328.6 L81.9,327.5 L84.7,325.7 L87.5,323.3 L90.3,320.4 L93.1,317.0 L95.9,313.3 L98.8,309.3 L101.6,305.0 L104.4,300.6 L107.2,296.1 L110.0,291.7 L112.8,287.3 L115.7,283.0 L118.5,278.9 L121.3,275.1 L124.1,271.5 L126.9,268.2 L129.7,265.0 L132.6,262.2 L135.4,259.5 L138.2,257.1 L141.0,255.0 L143.8,253.1 L146.6,251.4 L149.5,250.1 L152.3,248.9 L155.1,248.0 L157.9,247.4 L160.7,247.0 L163.5,246.9 L167.1,247.1 L170.6,247.6 L174.1,248.5 L177.6,249.7 L181.2,251.3 L184.7,253.1 L188.2,255.2 L191.7,257.6 L195.2,260.1 L198.8,262.8 L202.3,265.7 L205.8,268.7 L209.3,271.8 L212.8,275.1 L216.4,278.3 L219.9,281.6 L223.4,285.0 L226.9,288.3 L230.4,291.6 L234.0,294.9 L237.5,298.1 L241.0,301.3 L244.5,304.4 L248.1,307.5 L251.6,310.6 L255.1,313.6 L258.6,316.6 L262.1,319.6 L265.7,322.6 L269.2,325.5 L272.7,328.4 L276.2,331.3 L279.7,334.0 L283.3,336.8 L286.8,339.5 L290.3,342.1 L293.8,344.7 L297.4,347.3 L300.9,349.8 L304.4,352.2 L307.9,354.6 L311.4,356.9 L315.0,359.2 L318.5,361.5 L322.0,363.6 L325.5,365.8 L329.0,367.8 L332.6,369.8 L336.1,371.8 L339.6,373.7 L343.1,375.5 L346.6,377.4 L350.2,379.2 L353.7,381.0 L357.2,382.8 L360.7,384.6 L364.3,386.3 L367.8,388.0 L371.3,389.6 L374.8,391.3 L378.3,392.9 L381.9,394.4 L385.4,395.9 L388.9,397.4 L392.4,398.8 L395.9,400.1 L399.5,401.5 L403.0,402.7 L406.5,403.9 L410.0,405.1 L413.6,406.2 L417.1,407.3 L420.6,408.4 L424.1,409.3 L427.6,410.3 L431.2,411.2 L434.7,412.1 L438.2,412.9 L441.7,413.6 L445.2,414.4 L448.8,415.1 L452.3,415.7 L455.8,416.3 L459.3,416.9 L462.9,417.4 L466.4,417.9 L469.9,418.3 L473.4,418.8 L476.9,419.3 L480.5,419.7 L484.0,420.1 L487.5,420.5 L491.0,420.9 L494.5,421.2 L498.1,421.6 L501.6,421.9 L505.1,422.2 L508.6,422.5 L512.1,422.8 L515.7,423.0 L519.2,423.2 L522.7,423.5 L526.2,423.7 L529.8,423.8 L533.3,424.0 L536.8,424.2 L540.3,424.3 L543.8,424.4 L547.4,424.5 L550.9,424.6 L554.4,424.6 L557.9,424.7 L561.4,424.7 L565.0,424.8 L568.5,424.8 L572.0,424.8 L575.5,424.7 L579.1,424.7 L582.6,424.7 L586.1,424.6 L589.6,424.5 L593.1,424.5 L596.7,424.4 L600.2,424.2 L603.7,424.1 L607.2,424.0 L610.7,423.9 L614.3,423.7 L617.8,423.5 L621.3,423.4 L624.8,423.2 L628.3,423.0 L631.9,422.8 L635.4,422.6 L638.9,422.4 L642.4,422.2 L646.0,421.9 L649.5,421.7 L653.0,421.5 L656.5,421.2 L660.0,421.0 L663.6,420.7 L667.1,420.4 L670.6,420.2 L674.1,419.9 L677.6,419.6 L681.2,419.3 L684.7,419.0 L688.2,418.7 L691.7,418.4 L695.3,418.1 L698.8,417.8 L702.3,417.5 L705.8,417.2 L709.3,416.9 L712.9,416.6 L716.4,416.3 L719.9,416.0 L723.4,415.7 L726.9,415.4 L730.5,415.1 L734.0,414.8 L737.5,414.5 L741.0,414.1 L744.6,413.8 L748.1,413.5 L751.6,413.2 L755.1,412.9 L758.6,412.6 L762.2,412.3 L765.7,412.0 L769.2,411.8 L772.7,411.5 L776.2,411.2 L777.6,411.0" stroke="#929600"/>
<path d="M17.1,73.8 L19.9,99.9 L22.7,125.7 L25.5,150.2 L28.3,172.7 L31.1,192.6 L34.0,210.1 L36.8,225.6 L39.6,239.5 L42.4,252.2 L45.2,264.0 L48.0,275.0 L50.9,285.1 L53.7,294.3 L56.5,302.5 L59.3,309.7 L62.1,315.8 L64.9,320.7 L67.8,324.4 L70.6,326.9 L73.4,328.4 L76.2,329.0 L79.0,328.7 L81.9,327.5 L84.7,325.7 L87.5,323.3 L90.3,320.4 L93.1,317.0 L95.9,313.3 L98.8,309.2 L101.6,305.0 L104.4,300.6 L107.2,296.1 L110.0,291.6 L112.8,287.2 L115.7,283.0 L118.5,278.9 L121.3,275.1 L124.1,271.5 L126.9,268.1 L129.7,265.0 L132.6,262.1 L135.4,259.5 L138.2,257.1 L141.0,255.0 L143.8,253.1 L146.6,251.4 L149.5,250.0 L152.3,248.9 L155.1,248.0 L157.9,247.4 L160.7,247.0 L163.5,246.9 L167.1,247.1 L170.6,247.6 L174.1,248.5 L177.6,249.8 L181.2,251.3 L184.7,253.2 L188.2,255.3 L191.7,257.6 L195.2,260.2 L198.8,262.9 L202.3,265.8 L205.8,268.9 L209.3,272.0 L212.8,275.3 L216.4,278.6 L219.9,281.9 L223.4,285.2 L226.9,288.6 L230.4,291.9 L234.0,295.2 L237.5,298.5 L241.0,301.7 L244.5,304.8 L248.1,307.9 L251.6,311.0 L255.1,314.1 L258.6,317.1 L262.1,320.1 L265.7,323.1 L269.2,326.0 L272.7,328.9 L276.2,331.7 L279.7,334.5 L283.3,337.3 L286.8,340.0 L290.3,342.6 L293.8,345.2 L297.4,347.8 L300.9,350.2 L304.4,352.7 L307.9,355.1 L311.4,357.4 L315.0,359.7 L318.5,361.9 L322.0,364.1 L325.5,366.2 L329.0,368.2 L332.6,370.2 L336.1,372.2 L339.6,374.0 L343.1,375.9 L346.6,377.7 L350.2,379.5 L353.7,381.3 L357.2,383.1 L360.7,384.8 L364.3,386.5 L367.8,388.2 L371.3,389.8 L374.8,391.4 L378.3,392.9 L381.9,394.4 L385.4,395.9 L388.9,397.3 L392.4,398.6 L395.9,400.0 L399.5,401.2 L403.0,402.4 L406.5,403.6 L410.0,404.8 L413.6,405.8 L417.1,406.9 L420.6,407.9 L424.1,408.8 L427.6,409.7 L431.2,410.6 L434.7,411.4 L438.2,412.2 L441.7,412.9 L445.2,413.6 L448.8,414.3 L452.3,414.9 L455.8,415.5 L459.3,416.0 L462.9,416.5 L466.4,416.9 L469.9,417.3 L473.4,417.8 L476.9,418.2 L480.5,418.6 L484.0,418.9 L487.5,419.3 L491.0,419.6 L494.5,420.0 L498.1,420.3 L501.6,420.5 L505.1,420.8 L508.6,421.1 L512.1,421.3 L515.7,421.5 L519.2,421.7 L522.7,421.9 L526.2,422.1 L529.8,422.2 L533.3,422.3 L536.8,422.4 L540.3,422.6 L543.8,422.6 L547.4,422.7 L550.9,422.8 L554.4,422.8 L557.9,422.8 L561.4,422.8 L565.0,422.8 L568.5,422.8 L572.0,422.8 L575.5,422.7 L579.1,422.7 L582.6,422.6 L586.1,422.5 L589.6,422.4 L593.1,422.3 L596.7,422.2 L600.2,422.1 L603.7,421.9 L607.2,421.8 L610.7,421.6 L614.3,421.4 L617.8,421.3 L621.3,421.1 L624.8,420.9 L628.3,420.7 L631.9,420.5 L635.4,420.2 L638.9,420.0 L642.4,419.8 L646.0,419.5 L649.5,419.3 L653.0,419.0 L656.5,418.7 L660.0,418.5 L663.6,418.2 L667.1,417.9 L670.6,417.6 L674.1,417.3 L677.6,417.0 L681.2,416.7 L684.7,416.4 L688.2,416.1 L691.7,415.8 L695.3,415.5 L698.8,415.2 L702.3,414.9 L705.8,414.6 L709.3,414.3 L712.9,413.9 L716.4,413.6 L719.9,413.3 L723.4,413.0 L726.9,412.7 L730.5,412.3 L734.0,412.0 L737.5,411.7 L741.0,411.4 L744.6,411.1 L748.1,410.7 L751.6,410.4 L755.1,410.1 L758.6,409.8 L762.2,409.5 L765.7,409.2 L769.2,408.9 L772.7,408.6 L776.2,408.3 L777.6,408.1" stroke="#E95536"/>
<path d="M17.1,71.8 L19.9,98.2 L22.7,124.2 L25.5,148.9 L28.3,171.6 L31.1,191.6 L34.0,209.3 L36.8,224.9 L39.6,238.9 L42.4,251.7 L45.2,263.6 L48.0,274.6 L50.9,284.8 L53.7,294.1 L56.5,302.4 L59.3,309.6 L62.1,315.7 L64.9,320.6 L67.8,324.4 L70.6,326.9 L73.4,328.4 L76.2,329.0 L79.0,328.7 L81.9,327.5 L84.7,325.7 L87.5,323.3 L90.3,320.4 L93.1,317.0 L95.9,313.2 L98.8,309.2 L101.6,304.9 L104.4,300.5 L107.2,296.1 L110.0,291.6 L112.8,287.2 L115.7,282.9 L118.5,278.9 L121.3,275.1 L124.1,271.5 L126.9,268.1 L129.7,265.0 L132.6,262.1 L135.4,259.5 L138.2,257.1 L141.0,255.0 L143.8,253.1 L146.6,251.4 L149.5,250.0 L152.3,248.9 L155.1,248.0 L157.9,247.4 L160.7,247.0 L163.5,246.9 L167.1,247.1 L170.6,247.6 L174.1,248.5 L177.6,249.8 L181.2,251.3 L184.7,253.2 L188.2,255.3 L191.7,257.7 L195.2,260.3 L198.8,263.1 L202.3,266.0 L205.8,269.1 L209.3,272.2 L212.8,275.5 L216.4,278.8 L219.9,282.2 L223.4,285.5 L226.9,288.9 L230.4,292.2 L234.0,295.5 L237.5,298.8 L241.0,302.0 L244.5,305.2 L248.1,308.4 L251.6,311.5 L255.1,314.5 L258.6,317.6 L262.1,320.6 L265.7,323.5 L269.2,326.5 L272.7,329.4 L276.2,332.2 L279.7,335.0 L283.3,337.8 L286.8,340.5 L290.3,343.1 L293.8,345.7 L297.4,348.2 L300.9,350.7 L304.4,353.1 L307.9,355.5 L311.4,357.8 L315.0,360.1 L318.5,362.3 L322.0,364.5 L325.5,366.6 L329.0,368.6 L332.6,370.6 L336.1,372.5 L339.6,374.4 L343.1,376.3 L346.6,378.1 L350.2,379.9 L353.7,381.6 L357.2,383.4 L360.7,385.1 L364.3,386.7 L367.8,388.3 L371.3,389.9 L374.8,391.5 L378.3,393.0 L381.9,394.4 L385.4,395.8 L388.9,397.2 L392.4,398.5 L395.9,399.8 L399.5,401.0 L403.0,402.2 L406.5,403.3 L410.0,404.4 L413.6,405.4 L417.1,406.4 L420.6,407.4 L424.1,408.3 L427.6,409.1 L431.2,410.0 L434.7,410.8 L438.2,411.5 L441.7,412.2 L445.2,412.9 L448.8,413.5 L452.3,414.1 L455.8,414.6 L459.3,415.1 L462.9,415.5 L466.4,415.9 L469.9,416.3 L473.4,416.7 L476.9,417.1 L480.5,417.4 L484.0,417.8 L487.5,418.1 L491.0,418.4 L494.5,418.7 L498.1,418.9 L501.6,419.2 L505.1,419.4 L508.6,419.6 L512.1,419.8 L515.7,420.0 L519.2,420.2 L522.7,420.3 L526.2,420.5 L529.8,420.6 L533.3,420.7 L536.8,420.8 L540.3,420.8 L543.8,420.9 L547.4,420.9 L550.9,421.0 L554.4,421.0 L557.9,421.0 L561.4,420.9 L565.0,420.9 L568.5,420.9 L572.0,420.8 L575.5,420.7 L579.1,420.7 L582.6,420.6 L586.1,420.5 L589.6,420.4 L593.1,420.2 L596.7,420.1 L600.2,419.9 L603.7,419.8 L607.2,419.6 L610.7,419.4 L614.3,419.2 L617.8,419.0 L621.3,418.8 L624.8,418.6 L628.3,418.4 L631.9,418.2 L635.4,417.9 L638.9,417.7 L642.4,417.4 L646.0,417.2 L649.5,416.9 L653.0,416.6 L656.5,416.3 L660.0,416.1 L663.6,415.8 L667.1,415.5 L670.6,415.2 L674.1,414.9 L677.6,414.6 L681.2,414.3 L684.7,413.9 L688.2,413.6 L691.7,413.3 L695.3,413.0 L698.8,412.7 L702.3,412.3 L705.8,412.0 L709.3,411.7 L712.9,411.4 L716.4,411.0 L719.9,410.7 L723.4,410.4 L726.9,410.0 L730.5,409.7 L734.0,409.4 L737.5,409.0 L741.0,408.7 L744.6,408.4 L748.1,408.0 L751.6,407.7 L755.1,407.4 L758.6,407.1 L762.2,406.8 L765.7,406.4 L769.2,406.1 L772.7,405.8 L776.2,405.5 L777.6,405.3" stroke="#6685D9"/>
<path d="M17.1,69.9 L19.9,96.5 L22.7,122.7 L25.5,147.7 L28.3,170.5 L31.1,190.7 L34.0,208.5 L36.8,224.2 L39.6,238.3 L42.4,251.2 L45.2,263.1 L48.0,274.3 L50.9,284.5 L53.7,293.9 L56.5,302.2 L59.3,309.5 L62.1,315.6 L64.9,320.6 L67.8,324.3 L70.6,326.9 L73.4,328.4 L76.2,329.0 L79.0,328.7 L81.9,327.5 L84.7,325.7 L87.5,323.3 L90.3,320.3 L93.1,317.0 L95.9,313.2 L98.8,309.2 L101.6,304.9 L104.4,300.5 L107.2,296.0 L110.0,291.5 L112.8,287.1 L115.7,282.9 L118.5,278.8 L121.3,275.0 L124.1,271.4 L126.9,268.1 L129.7,265.0 L132.6,262.1 L135.4,259.5 L138.2,257.1 L141.0,255.0 L143.8,253.1 L146.6,251.4 L149.5,250.0 L152.3,248.9 L155.1,248.0 L157.9,247.4 L160.7,247.0 L163.5,246.9 L167.1,247.1 L170.6,247.6 L174.1,248.5 L177.6,249.8 L181.2,251.4 L184.7,253.3 L188.2,255.4 L191.7,257.8 L195.2,260.4 L198.8,263.2 L202.3,266.1 L205.8,269.2 L209.3,272.4 L212.8,275.7 L216.4,279.0 L219.9,282.4 L223.4,285.8 L226.9,289.2 L230.4,292.6 L234.0,295.9 L237.5,299.2 L241.0,302.4 L244.5,305.6 L248.1,308.8 L251.6,311.9 L255.1,315.0 L258.6,318.0 L262.1,321.0 L265.7,324.0 L269.2,327.0 L272.7,329.9 L276.2,332.7 L279.7,335.5 L283.3,338.3 L286.8,341.0 L290.3,343.6 L293.8,346.2 L297.4,348.7 L300.9,351.2 L304.4,353.6 L307.9,356.0 L311.4,358.3 L315.0,360.5 L318.5,362.7 L322.0,364.9 L325.5,367.0 L329.0,369.0 L332.6,371.0 L336.1,372.9 L339.6,374.8 L343.1,376.6 L346.6,378.4 L350.2,380.2 L353.7,381.9 L357.2,383.6 L360.7,385.3 L364.3,386.9 L367.8,388.5 L371.3,390.1 L374.8,391.6 L378.3,393.0 L381.9,394.4 L385.4,395.8 L388.9,397.1 L392.4,398.4 L395.9,399.6 L399.5,400.8 L403.0,401.9 L406.5,403.0 L410.0,404.0 L413.6,405.0 L417.1,406.0 L420.6,406.9 L424.1,407.7 L427.6,408.6 L431.2,409.4 L434.7,410.1 L438.2,410.8 L441.7,411.5 L445.2,412.1 L448.8,412.7 L452.3,413.3 L455.8,413.7 L459.3,414.2 L462.9,414.6 L466.4,415.0 L469.9,415.3 L473.4,415.7 L476.9,416.0 L480.5,416.3 L484.0,416.6 L487.5,416.9 L491.0,417.1 L494.5,417.4 L498.1,417.6 L501.6,417.8 L505.1,418.0 L508.6,418.2 L512.1,418.4 L515.7,418.5 L519.2,418.6 L522.7,418.8 L526.2,418.9 L529.8,419.0 L533.3,419.0 L536.8,419.1 L540.3,419.1 L543.8,419.2 L547.4,419.2 L550.9,419.2 L554.4,419.1 L557.9,419.1 L561.4,419.1 L565.0,419.0 L568.5,419.0 L572.0,418.9 L575.5,418.8 L579.1,418.7 L582.6,418.6 L586.1,418.4 L589.6,418.3 L593.1,418.2 L596.7,418.0 L600.2,417.8 L603.7,417.7 L607.2,417.5 L610.7,417.3 L614.3,417.1 L617.8,416.8 L621.3,416.6 L624.8,416.4 L628.3,416.2 L631.9,415.9 L635.4,415.7 L638.9,415.4 L642.4,415.1 L646.0,414.9 L649.5,414.6 L653.0,414.3 L656.5,414.0 L660.0,413.7 L663.6,413.4 L667.1,413.1 L670.6,412.8 L674.1,412.5 L677.6,412.2 L681.2,411.8 L684.7,411.5 L688.2,411.2 L691.7,410.9 L695.3,410.5 L698.8,410.2 L702.3,409.9 L705.8,409.5 L709.3,409.2 L712.9,408.9 L716.4,408.5 L719.9,408.2 L723.4,407.8 L726.9,407.5 L730.5,407.1 L734.0,406.8 L737.5,406.5 L741.0,406.1 L744.6,405.8 L748.1,405.5 L751.6,405.1 L755.1,404.8 L758.6,404.5 L762.2,404.1 L765.7,403.8 L769.2,403.5 L772.7,403.1 L776.2,402.8 L777.6,402.7" stroke="#F89F13"/>
<path d="M17.1,68.0 L19.9,94.8 L22.7,121.2 L25.5,146.4 L28.3,169.4 L31.1,189.8 L34.0,207.7 L36.8,223.5 L39.6,237.7 L42.4,250.7 L45.2,262.7 L48.0,273.9 L50.9,284.2 L53.7,293.6 L56.5,302.0 L59.3,309.3 L62.1,315.5 L64.9,320.5 L67.8,324.3 L70.6,326.9 L73.4,328.4 L76.2,329.0 L79.0,328.7 L81.9,327.5 L84.7,325.7 L87.5,323.3 L90.3,320.3 L93.1,316.9 L95.9,313.2 L98.8,309.1 L101.6,304.9 L104.4,300.5 L107.2,296.0 L110.0,291.5 L112.8,287.1 L115.7,282.8 L118.5,278.8 L121.3,275.0 L124.1,271.4 L126.9,268.1 L129.7,265.0 L132.6,262.1 L135.4,259.5 L138.2,257.1 L141.0,255.0 L143.8,253.1 L146.6,251.4 L149.5,250.0 L152.3,248.9 L155.1,248.0 L157.9,247.4 L160.7,247.0 L163.5,246.9 L167.1,247.1 L170.6,247.6 L174.1,248.6 L177.6,249.8 L181.2,251.4 L184.7,253.3 L188.2,255.5 L191.7,257.9 L195.2,260.5 L198.8,263.3 L202.3,266.3 L205.8,269.4 L209.3,272.6 L212.8,275.9 L216.4,279.3 L219.9,282.7 L223.4,286.1 L226.9,289.5 L230.4,292.9 L234.0,296.2 L237.5,299.5 L241.0,302.8 L244.5,306.0 L248.1,309.2 L251.6,312.3 L255.1,315.4 L258.6,318.5 L262.1,321.5 L265.7,324.5 L269.2,327.4 L272.7,330.3 L276.2,333.2 L279.7,336.0 L283.3,338.7 L286.8,341.4 L290.3,344.1 L293.8,346.6 L297.4,349.2 L300.9,351.6 L304.4,354.1 L307.9,356.4 L311.4,358.7 L315.0,361.0 L318.5,363.2 L322.0,365.3 L325.5,367.4 L329.0,369.4 L332.6,371.4 L336.1,373.3 L339.6,375.1 L343.1,377.0 L346.6,378.7 L350.2,380.5 L353.7,382.2 L357.2,383.9 L360.7,385.5 L364.3,387.1 L367.8,388.7 L371.3,390.2 L374.8,391.7 L378.3,393.1 L381.9,394.4 L385.4,395.8 L388.9,397.0 L392.4,398.3 L395.9,399.4 L399.5,400.6 L403.0,401.6 L406.5,402.7 L410.0,403.7 L413.6,404.6 L417.1,405.5 L420.6,406.4 L424.1,407.2 L427.6,408.0 L431.2,408.7 L434.7,409.4 L438.2,410.1 L441.7,410.8 L445.2,411.4 L448.8,411.9 L452.3,412.4 L455.8,412.9 L459.3,413.3 L462.9,413.6 L466.4,414.0 L469.9,414.3 L473.4,414.6 L476.9,414.9 L480.5,415.1 L484.0,415.4 L487.5,415.6 L491.0,415.9 L494.5,416.1 L498.1,416.3 L501.6,416.5 L505.1,416.6 L508.6,416.8 L512.1,416.9 L515.7,417.0 L519.2,417.1 L522.7,417.2 L526.2,417.3 L529.8,417.3 L533.3,417.4 L536.8,417.4 L540.3,417.4 L543.8,417.4 L547.4,417.4 L550.9,417.4 L554.4,417.4 L557.9,417.3 L561.4,417.2 L565.0,417.2 L568.5,417.1 L572.0,417.0 L575.5,416.9 L579.1,416.7 L582.6,416.6 L586.1,416.5 L589.6,416.3 L593.1,416.1 L596.7,416.0 L600.2,415.8 L603.7,415.6 L607.2,415.4 L610.7,415.2 L614.3,414.9 L617.8,414.7 L621.3,414.5 L624.8,414.2 L628.3,414.0 L631.9,413.7 L635.4,413.4 L638.9,413.2 L642.4,412.9 L646.0,412.6 L649.5,412.3 L653.0,412.0 L656.5,411.7 L660.0,411.4 L663.6,411.1 L667.1,410.8 L670.6,410.5 L674.1,410.2 L677.6,409.8 L681.2,409.5 L684.7,409.2 L688.2,408.8 L691.7,408.5 L695.3,408.2 L698.8,407.8 L702.3,407.5 L705.8,407.1 L709.3,406.8 L712.9,406.4 L716.4,406.1 L719.9,405.7 L723.4,405.4 L726.9,405.0 L730.5,404.7 L734.0,404.3 L737.5,404.0 L741.0,403.6 L744.6,403.3 L748.1,403.0 L751.6,402.6 L755.1,402.3 L758.6,401.9 L762.2,401.6 L765.7,401.2 L769.2,400.9 L772.7,400.6 L776.2,400.2 L777.6,400.1" stroke="#BC5B80"/>
<path d="M17.1,66.0 L19.9,93.0 L22.7,119.7 L25.5,145.1 L28.3,168.3 L31.1,188.8 L34.0,206.9 L36.8,222.8 L39.6,237.1 L42.4,250.1 L45.2,262.2 L48.0,273.5 L50.9,283.9 L53.7,293.4 L56.5,301.8 L59.3,309.2 L62.1,315.4 L64.9,320.5 L67.8,324.3 L70.6,326.9 L73.4,328.4 L76.2,329.0 L79.0,328.7 L81.9,327.5 L84.7,325.7 L87.5,323.3 L90.3,320.3 L93.1,316.9 L95.9,313.2 L98.8,309.1 L101.6,304.8 L104.4,300.4 L107.2,295.9 L110.0,291.5 L112.8,287.0 L115.7,282.8 L118.5,278.8 L121.3,275.0 L124.1,271.4 L126.9,268.0 L129.7,264.9 L132.6,262.1 L135.4,259.5 L138.2,257.1 L141.0,254.9 L143.8,253.1 L146.6,251.4 L149.5,250.0 L152.3,248.9 L155.1,248.0 L157.9,247.4 L160.7,247.0 L163.5,246.9 L167.1,247.1 L170.6,247.6 L174.1,248.6 L177.6,249.8 L181.2,251.5 L184.7,253.4 L188.2,255.5 L191.7,258.0 L195.2,260.6 L198.8,263.4 L202.3,266.4 L205.8,269.5 L209.3,272.8 L212.8,276.1 L216.4,279.5 L219.9,282.9 L223.4,286.4 L226.9,289.8 L230.4,293.2 L234.0,296.6 L237.5,299.9 L241.0,303.2 L244.5,306.4 L248.1,309.6 L251.6,312.7 L255.1,315.9 L258.6,318.9 L262.1,322.0 L265.7,325.0 L269.2,327.9 L272.7,330.8 L276.2,333.7 L279.7,336.5 L283.3,339.2 L286.8,341.9 L290.3,344.5 L293.8,347.1 L297.4,349.6 L300.9,352.1 L304.4,354.5 L307.9,356.8 L311.4,359.1 L315.0,361.4 L318.5,363.6 L322.0,365.7 L325.5,367.8 L329.0,369.8 L332.6,371.7 L336.1,373.6 L339.6,375.5 L343.1,377.3 L346.6,379.1 L350.2,380.8 L353.7,382.5 L357.2,384.2 L360.7,385.8 L364.3,387.3 L367.8,388.9 L371.3,390.3 L374.8,391.7 L378.3,393.1 L381.9,394.4 L385.4,395.7 L388.9,396.9 L392.4,398.1 L395.9,399.3 L399.5,400.3 L403.0,401.4 L406.5,402.4 L410.0,403.3 L413.6,404.2 L417.1,405.1 L420.6,405.9 L424.1,406.7 L427.6,407.4 L431.2,408.1 L434.7,408.8 L438.2,409.4 L441.7,410.0 L445.2,410.6 L448.8,411.1 L452.3,411.6 L455.8,412.0 L459.3,412.4 L462.9,412.7 L466.4,413.0 L469.9,413.2 L473.4,413.5 L476.9,413.7 L480.5,414.0 L484.0,414.2 L487.5,414.4 L491.0,414.6 L494.5,414.8 L498.1,414.9 L501.6,415.1 L505.1,415.2 L508.6,415.3 L512.1,415.4 L515.7,415.5 L519.2,415.6 L522.7,415.7 L526.2,415.7 L529.8,415.7 L533.3,415.8 L536.8,415.8 L540.3,415.7 L543.8,415.7 L547.4,415.7 L550.9,415.6 L554.4,415.6 L557.9,415.5 L561.4,415.4 L565.0,415.3 L568.5,415.2 L572.0,415.1 L575.5,414.9 L579.1,414.8 L582.6,414.7 L586.1,414.5 L589.6,414.3 L593.1,414.1 L596.7,413.9 L600.2,413.7 L603.7,413.5 L607.2,413.3 L610.7,413.1 L614.3,412.8 L617.8,412.6 L621.3,412.4 L624.8,412.1 L628.3,411.8 L631.9,411.6 L635.4,411.3 L638.9,411.0 L642.4,410.7 L646.0,410.4 L649.5,410.1 L653.0,409.8 L656.5,409.5 L660.0,409.2 L663.6,408.9 L667.1,408.5 L670.6,408.2 L674.1,407.9 L677.6,407.6 L681.2,407.2 L684.7,406.9 L688.2,406.5 L691.7,406.2 L695.3,405.9 L698.8,405.5 L702.3,405.2 L705.8,404.8 L709.3,404.5 L712.9,404.1 L716.4,403.7 L719.9,403.4 L723.4,403.0 L726.9,402.7 L730.5,402.3 L734.0,402.0 L737.5,401.6 L741.0,401.3 L744.6,400.9 L748.1,400.5 L751.6,400.2 L755.1,399.8 L758.6,399.5 L762.2,399.1 L765.7,398.8 L769.2,398.5 L772.7,398.1 L776.2,397.8 L777.6,397.6" stroke="#47B66D"/>
<path d="M17.1,64.1 L19.9,91.3 L22.7,118.2 L25.5,143.8 L28.3,167.2 L31.1,187.9 L34.0,206.1 L36.8,222.1 L39.6,236.5 L42.4,249.6 L45.2,261.8 L48.0,273.2 L50.9,283.6 L53.7,293.2 L56.5,301.7 L59.3,309.1 L62.1,315.4 L64.9,320.4 L67.8,324.2 L70.6,326.9 L73.4,328.4 L76.2,329.0 L79.0,328.7 L81.9,327.5 L84.7,325.7 L87.5,323.3 L90.3,320.3 L93.1,316.9 L95.9,313.1 L98.8,309.1 L101.6,304.8 L104.4,300.4 L107.2,295.9 L110.0,291.4 L112.8,287.0 L115.7,282.8 L118.5,278.7 L121.3,274.9 L124.1,271.4 L126.9,268.0 L129.7,264.9 L132.6,262.1 L135.4,259.4 L138.2,257.1 L141.0,254.9 L143.8,253.1 L146.6,251.4 L149.5,250.0 L152.3,248.9 L155.1,248.0 L157.9,247.4 L160.7,247.0 L163.5,246.9 L167.1,247.1 L170.6,247.6 L174.1,248.6 L177.6,249.9 L181.2,251.5 L184.7,253.4 L188.2,255.6 L191.7,258.1 L195.2,260.7 L198.8,263.6 L202.3,266.6 L205.8,269.7 L209.3,273.0 L212.8,276.3 L216.4,279.7 L219.9,283.2 L223.4,286.6 L226.9,290.1 L230.4,293.5 L234.0,296.9 L237.5,300.2 L241.0,303.5 L244.5,306.8 L248.1,310.0 L251.6,313.2 L255.1,316.3 L258.6,319.4 L262.1,322.4 L265.7,325.4 L269.2,328.4 L272.7,331.3 L276.2,334.1 L279.7,336.9 L283.3,339.7 L286.8,342.4 L290.3,345.0 L293.8,347.6 L297.4,350.1 L300.9,352.5 L304.4,354.9 L307.9,357.3 L311.4,359.6 L315.0,361.8 L318.5,364.0 L322.0,366.1 L325.5,368.2 L329.0,370.2 L332.6,372.1 L336.1,374.0 L339.6,375.8 L343.1,377.6 L346.6,379.4 L350.2,381.1 L353.7,382.8 L357.2,384.4 L360.7,386.0 L364.3,387.5 L367.8,389.0 L371.3,390.4 L374.8,391.8 L378.3,393.2 L381.9,394.4 L385.4,395.7 L388.9,396.9 L392.4,398.0 L395.9,399.1 L399.5,400.1 L403.0,401.1 L406.5,402.0 L410.0,402.9 L413.6,403.8 L417.1,404.6 L420.6,405.4 L424.1,406.1 L427.6,406.8 L431.2,407.5 L434.7,408.1 L438.2,408.7 L441.7,409.3 L445.2,409.8 L448.8,410.3 L452.3,410.7 L455.8,411.1 L459.3,411.4 L462.9,411.7 L466.4,411.9 L469.9,412.2 L473.4,412.4 L476.9,412.6 L480.5,412.8 L484.0,413.0 L487.5,413.2 L491.0,413.3 L494.5,413.5 L498.1,413.6 L501.6,413.7 L505.1,413.8 L508.6,413.9 L512.1,414.0 L515.7,414.0 L519.2,414.1 L522.7,414.1 L526.2,414.1 L529.8,414.1 L533.3,414.1 L536.8,414.1 L540.3,414.1 L543.8,414.0 L547.4,414.0 L550.9,413.9 L554.4,413.8 L557.9,413.7 L561.4,413.6 L565.0,413.5 L568.5,413.4 L572.0,413.2 L575.5,413.1 L579.1,412.9 L582.6,412.7 L586.1,412.6 L589.6,412.4 L593.1,412.2 L596.7,412.0 L600.2,411.7 L603.7,411.5 L607.2,411.3 L610.7,411.0 L614.3,410.8 L617.8,410.5 L621.3,410.3 L624.8,410.0 L628.3,409.7 L631.9,409.5 L635.4,409.2 L638.9,408.9 L642.4,408.6 L646.0,408.3 L649.5,408.0 L653.0,407.7 L656.5,407.3 L660.0,407.0 L663.6,406.7 L667.1,406.4 L670.6,406.0 L674.1,405.7 L677.6,405.4 L681.2,405.0 L684.7,404.7 L688.2,404.3 L691.7,404.0 L695.3,403.6 L698.8,403.3 L702.3,402.9 L705.8,402.6 L709.3,402.2 L712.9,401.8 L716.4,401.5 L719.9,401.1 L723.4,400.8 L726.9,400.4 L730.5,400.0 L734.0,399.7 L737.5,399.3 L741.0,399.0 L744.6,398.6 L748.1,398.2 L751.6,397.9 L755.1,397.5 L758.6,397.2 L762.2,396.8 L765.7,396.4 L769.2,396.1 L772.7,395.7 L776.2,395.4 L777.6,395.2" stroke="#5E81B5"/>
<path d="M17.1,62.1 L19.9,89.6 L22.7,116.7 L25.5,142.5 L28.3,166.1 L31.1,186.9 L34.0,205.2 L36.8,221.4 L39.6,235.9 L42.4,249.1 L45.2,261.4 L48.0,272.8 L50.9,283.3 L53.7,292.9 L56.5,301.5 L59.3,309.0 L62.1,315.3 L64.9,320.4 L67.8,324.2 L70.6,326.9 L73.4,328.4 L76.2,329.0 L79.0,328.7 L81.9,327.5 L84.7,325.7 L87.5,323.2 L90.3,320.3 L93.1,316.9 L95.9,313.1 L98.8,309.0 L101.6,304.8 L104.4,300.3 L107.2,295.9 L110.0,291.4 L112.8,287.0 L115.7,282.7 L118.5,278.7 L121.3,274.9 L124.1,271.3 L126.9,268.0 L129.7,264.9 L132.6,262.0 L135.4,259.4 L138.2,257.1 L141.0,254.9 L143.8,253.0 L146.6,251.4 L149.5,250.0 L152.3,248.9 L155.1,248.0 L157.9,247.4 L160.7,247.0 L163.5,246.9 L167.1,247.1 L170.6,247.6 L174.1,248.6 L177.6,249.9 L181.2,251.5 L184.7,253.5 L188.2,255.7 L191.7,258.1 L195.2,260.8 L198.8,263.7 L202.3,266.7 L205.8,269.9 L209.3,273.2 L212.8,276.5 L216.4,280.0 L219.9,283.4 L223.4,286.9 L226.9,290.4 L230.4,293.8 L234.0,297.2 L237.5,300.6 L241.0,303.9 L244.5,307.2 L248.1,310.4 L251.6,313.6 L255.1,316.7 L258.6,319.8 L262.1,322.9 L265.7,325.9 L269.2,328.8 L272.7,331.7 L276.2,334.6 L279.7,337.4 L283.3,340.1 L286.8,342.8 L290.3,345.4 L293.8,348.0 L297.4,350.5 L300.9,353.0 L304.4,355.4 L307.9,357.7 L311.4,360.0 L315.0,362.2 L318.5,364.4 L322.0,366.5 L325.5,368.5 L329.0,370.5 L332.6,372.5 L336.1,374.4 L339.6,376.2 L343.1,378.0 L346.6,379.7 L350.2,381.4 L353.7,383.0 L357.2,384.7 L360.7,386.2 L364.3,387.7 L367.8,389.2 L371.3,390.6 L374.8,391.9 L378.3,393.2 L381.9,394.4 L385.4,395.6 L388.9,396.8 L392.4,397.8 L395.9,398.9 L399.5,399.9 L403.0,400.8 L406.5,401.7 L410.0,402.6 L413.6,403.4 L417.1,404.2 L420.6,404.9 L424.1,405.6 L427.6,406.2 L431.2,406.9 L434.7,407.4 L438.2,408.0 L441.7,408.5 L445.2,409.0 L448.8,409.5 L452.3,409.9 L455.8,410.2 L459.3,410.5 L462.9,410.7 L466.4,410.9 L469.9,411.1 L473.4,411.3 L476.9,411.5 L480.5,411.6 L484.0,411.8 L487.5,411.9 L491.0,412.0 L494.5,412.2 L498.1,412.2 L501.6,412.3 L505.1,412.4 L508.6,412.5 L512.1,412.5 L515.7,412.5 L519.2,412.5 L522.7,412.6 L526.2,412.5 L529.8,412.5 L533.3,412.5 L536.8,412.4 L540.3,412.4 L543.8,412.3 L547.4,412.2 L550.9,412.1 L554.4,412.0 L557.9,411.9 L561.4,411.8 L565.0,411.7 L568.5,411.5 L572.0,411.4 L575.5,411.2 L579.1,411.0 L582.6,410.8 L586.1,410.6 L589.6,410.4 L593.1,410.2 L596.7,410.0 L600.2,409.8 L603.7,409.5 L607.2,409.3 L610.7,409.1 L614.3,408.8 L617.8,408.5 L621.3,408.3 L624.8,408.0 L628.3,407.7 L631.9,407.4 L635.4,407.1 L638.9,406.8 L642.4,406.5 L646.0,406.2 L649.5,405.9 L653.0,405.6 L656.5,405.2 L660.0,404.9 L663.6,404.6 L667.1,404.2 L670.6,403.9 L674.1,403.6 L677.6,403.2 L681.2,402.9 L684.7,402.5 L688.2,402.2 L691.7,401.8 L695.3,401.5 L698.8,401.1 L702.3,400.7 L705.8,400.4 L709.3,400.0 L712.9,399.6 L716.4,399.3 L719.9,398.9 L723.4,398.6 L726.9,398.2 L730.5,397.8 L734.0,397.5 L737.5,397.1 L741.0,396.7 L744.6,396.3 L748.1,396.0 L751.6,395.6 L755.1,395.2 L758.6,394.9 L762.2,394.5 L765.7,394.2 L769.2,393.8 L772.7,393.4 L776.2,393.1 L777.6,392.9" stroke="#E19C24"/>
<path d="M17.1,60.2 L19.9,87.9 L22.7,115.2 L25.5,141.2 L28.3,165.0 L31.1,186.0 L34.0,204.4 L36.8,220.7 L39.6,235.3 L42.4,248.6 L45.2,260.9 L48.0,272.4 L50.9,283.0 L53.7,292.7 L56.5,301.3 L59.3,308.8 L62.1,315.2 L64.9,320.3 L67.8,324.2 L70.6,326.9 L73.4,328.4 L76.2,329.0 L79.0,328.7 L81.9,327.5 L84.7,325.7 L87.5,323.2 L90.3,320.3 L93.1,316.9 L95.9,313.1 L98.8,309.0 L101.6,304.7 L104.4,300.3 L107.2,295.8 L110.0,291.3 L112.8,286.9 L115.7,282.7 L118.5,278.7 L121.3,274.9 L124.1,271.3 L126.9,268.0 L129.7,264.9 L132.6,262.0 L135.4,259.4 L138.2,257.0 L141.0,254.9 L143.8,253.0 L146.6,251.4 L149.5,250.0 L152.3,248.9 L155.1,248.0 L157.9,247.4 L160.7,247.0 L163.5,246.9 L167.1,247.1 L170.6,247.7 L174.1,248.6 L177.6,249.9 L181.2,251.6 L184.7,253.5 L188.2,255.7 L191.7,258.2 L195.2,260.9 L198.8,263.8 L202.3,266.8 L205.8,270.0 L209.3,273.3 L212.8,276.7 L216.4,280.2 L219.9,283.7 L223.4,287.2 L226.9,290.7 L230.4,294.1 L234.0,297.6 L237.5,300.9 L241.0,304.3 L244.5,307.5 L248.1,310.8 L251.6,314.0 L255.1,317.1 L258.6,320.2 L262.1,323.3 L265.7,326.3 L269.2,329.3 L272.7,332.2 L276.2,335.0 L279.7,337.8 L283.3,340.6 L286.8,343.3 L290.3,345.9 L293.8,348.5 L297.4,351.0 L300.9,353.4 L304.4,355.8 L307.9,358.1 L311.4,360.4 L315.0,362.6 L318.5,364.8 L322.0,366.9 L325.5,368.9 L329.0,370.9 L332.6,372.8 L336.1,374.7 L339.6,376.5 L343.1,378.3 L346.6,380.0 L350.2,381.7 L353.7,383.3 L357.2,384.9 L360.7,386.4 L364.3,387.9 L367.8,389.3 L371.3,390.6 L374.8,392.0 L378.3,393.2 L381.9,394.4 L385.4,395.6 L388.9,396.7 L392.4,397.7 L395.9,398.7 L399.5,399.7 L403.0,400.6 L406.5,401.4 L410.0,402.2 L413.6,403.0 L417.1,403.7 L420.6,404.4 L424.1,405.1 L427.6,405.7 L431.2,406.2 L434.7,406.8 L438.2,407.3 L441.7,407.8 L445.2,408.2 L448.8,408.6 L452.3,409.0 L455.8,409.3 L459.3,409.5 L462.9,409.7 L466.4,409.9 L469.9,410.0 L473.4,410.2 L476.9,410.3 L480.5,410.5 L484.0,410.6 L487.5,410.7 L491.0,410.8 L494.5,410.8 L498.1,410.9 L501.6,410.9 L505.1,411.0 L508.6,411.0 L512.1,411.0 L515.7,411.0 L519.2,411.0 L522.7,411.0 L526.2,411.0 L529.8,410.9 L533.3,410.8 L536.8,410.8 L540.3,410.7 L543.8,410.6 L547.4,410.5 L550.9,410.4 L554.4,410.3 L557.9,410.1 L561.4,410.0 L565.0,409.9 L568.5,409.7 L572.0,409.5 L575.5,409.3 L579.1,409.2 L582.6,409.0 L586.1,408.8 L589.6,408.5 L593.1,408.3 L596.7,408.1 L600.2,407.9 L603.7,407.6 L607.2,407.4 L610.7,407.1 L614.3,406.8 L617.8,406.6 L621.3,406.3 L624.8,406.0 L628.3,405.7 L631.9,405.4 L635.4,405.1 L638.9,404.8 L642.4,404.5 L646.0,404.2 L649.5,403.9 L653.0,403.5 L656.5,403.2 L660.0,402.9 L663.6,402.5 L667.1,402.2 L670.6,401.9 L674.1,401.5 L677.6,401.2 L681.2,400.8 L684.7,400.4 L688.2,400.1 L691.7,399.7 L695.3,399.4 L698.8,399.0 L702.3,398.6 L705.8,398.3 L709.3,397.9 L712.9,397.5 L716.4,397.1 L719.9,396.8 L723.4,396.4 L726.9,396.0 L730.5,395.7 L734.0,395.3 L737.5,394.9 L741.0,394.5 L744.6,394.1 L748.1,393.8 L751.6,393.4 L755.1,393.0 L758.6,392.7 L762.2,392.3 L765.7,391.9 L769.2,391.5 L772.7,391.2 L776.2,390.8 L777.6,390.6" stroke="#8FB032"/>
<path d="M17.1,58.3 L19.9,86.1 L22.7,113.7 L25.5,139.9 L28.3,163.9 L31.1,185.1 L34.0,203.6 L36.8,220.0 L39.6,234.7 L42.4,248.1 L45.2,260.5 L48.0,272.1 L50.9,282.7 L53.7,292.4 L56.5,301.1 L59.3,308.7 L62.1,315.1 L64.9,320.3 L67.8,324.2 L70.6,326.9 L73.4,328.4 L76.2,329.0 L79.0,328.7 L81.9,327.5 L84.7,325.7 L87.5,323.2 L90.3,320.2 L93.1,316.8 L95.9,313.0 L98.8,309.0 L101.6,304.7 L104.4,300.3 L107.2,295.8 L110.0,291.3 L112.8,286.9 L115.7,282.6 L118.5,278.6 L121.3,274.8 L124.1,271.3 L126.9,268.0 L129.7,264.9 L132.6,262.0 L135.4,259.4 L138.2,257.0 L141.0,254.9 L143.8,253.0 L146.6,251.4 L149.5,250.0 L152.3,248.9 L155.1,248.0 L157.9,247.4 L160.7,247.0 L163.5,246.9 L167.1,247.1 L170.6,247.7 L174.1,248.6 L177.6,249.9 L181.2,251.6 L184.7,253.6 L188.2,255.8 L191.7,258.3 L195.2,261.0 L198.8,263.9 L202.3,267.0 L205.8,270.2 L209.3,273.5 L212.8,276.9 L216.4,280.4 L219.9,283.9 L223.4,287.4 L226.9,290.9 L230.4,294.4 L234.0,297.9 L237.5,301.3 L241.0,304.6 L244.5,307.9 L248.1,311.2 L251.6,314.4 L255.1,317.5 L258.6,320.7 L262.1,323.7 L265.7,326.7 L269.2,329.7 L272.7,332.6 L276.2,335.5 L279.7,338.3 L283.3,341.0 L286.8,343.7 L290.3,346.3 L293.8,348.9 L297.4,351.4 L300.9,353.8 L304.4,356.2 L307.9,358.5 L311.4,360.8 L315.0,363.0 L318.5,365.2 L322.0,367.2 L325.5,369.3 L329.0,371.3 L332.6,373.2 L336.1,375.0 L339.6,376.8 L343.1,378.6 L346.6,380.3 L350.2,381.9 L353.7,383.5 L357.2,385.1 L360.7,386.6 L364.3,388.0 L367.8,389.4 L371.3,390.7 L374.8,392.0 L378.3,393.2 L381.9,394.4 L385.4,395.5 L388.9,396.6 L392.4,397.6 L395.9,398.5 L399.5,399.4 L403.0,400.3 L406.5,401.1 L410.0,401.9 L413.6,402.6 L417.1,403.3 L420.6,403.9 L424.1,404.5 L427.6,405.1 L431.2,405.6 L434.7,406.1 L438.2,406.6 L441.7,407.0 L445.2,407.4 L448.8,407.8 L452.3,408.1 L455.8,408.4 L459.3,408.6 L462.9,408.7 L466.4,408.9 L469.9,409.0 L473.4,409.1 L476.9,409.2 L480.5,409.3 L484.0,409.4 L487.5,409.5 L491.0,409.5 L494.5,409.6 L498.1,409.6 L501.6,409.6 L505.1,409.6 L508.6,409.6 L512.1,409.5 L515.7,409.5 L519.2,409.5 L522.7,409.4 L526.2,409.4 L529.8,409.3 L533.3,409.2 L536.8,409.1 L540.3,409.0 L543.8,408.9 L547.4,408.8 L550.9,408.7 L554.4,408.5 L557.9,408.4 L561.4,408.2 L565.0,408.1 L568.5,407.9 L572.0,407.7 L575.5,407.5 L579.1,407.3 L582.6,407.1 L586.1,406.9 L589.6,406.7 L593.1,406.5 L596.7,406.2 L600.2,406.0 L603.7,405.7 L607.2,405.5 L610.7,405.2 L614.3,404.9 L617.8,404.7 L621.3,404.4 L624.8,404.1 L628.3,403.8 L631.9,403.5 L635.4,403.2 L638.9,402.9 L642.4,402.6 L646.0,402.3 L649.5,401.9 L653.0,401.6 L656.5,401.3 L660.0,400.9 L663.6,400.6 L667.1,400.2 L670.6,399.9 L674.1,399.5 L677.6,399.2 L681.2,398.8 L684.7,398.4 L688.2,398.1 L691.7,397.7 L695.3,397.3 L698.8,397.0 L702.3,396.6 L705.8,396.2 L709.3,395.8 L712.9,395.4 L716.4,395.1 L719.9,394.7 L723.4,394.3 L726.9,393.9 L730.5,393.5 L734.0,393.1 L737.5,392.8 L741.0,392.4 L744.6,392.0 L748.1,391.6 L751.6,391.2 L755.1,390.8 L758.6,390.4 L762.2,390.1 L765.7,389.7 L769.2,389.3 L772.7,388.9 L776.2,388.6 L777.6,388.4" stroke="#EB6235"/>
<path d="M17.1,56.3 L19.9,84.4 L22.7,112.2 L25.5,138.6 L28.3,162.8 L31.1,184.1 L34.0,202.8 L36.8,219.3 L39.6,234.1 L42.4,247.5 L45.2,260.0 L48.0,271.7 L50.9,282.4 L53.7,292.2 L56.5,300.9 L59.3,308.6 L62.1,315.0 L64.9,320.2 L67.8,324.1 L70.6,326.8 L73.4,328.4 L76.2,329.0 L79.0,328.7 L81.9,327.5 L84.7,325.7 L87.5,323.2 L90.3,320.2 L93.1,316.8 L95.9,313.0 L98.8,308.9 L101.6,304.7 L104.4,300.2 L107.2,295.7 L110.0,291.2 L112.8,286.8 L115.7,282.6 L118.5,278.6 L121.3,274.8 L124.1,271.2 L126.9,267.9 L129.7,264.8 L132.6,262.0 L135.4,259.4 L138.2,257.0 L141.0,254.9 L143.8,253.0 L146.6,251.4 L149.5,250.0 L152.3,248.9 L155.1,248.0 L157.9,247.4 L160.7,247.0 L163.5,246.9 L167.1,247.1 L170.6,247.7 L174.1,248.6 L177.6,250.0 L181.2,251.6 L184.7,253.6 L188.2,255.9 L191.7,258.4 L195.2,261.1 L198.8,264.0 L202.3,267.1 L205.8,270.3 L209.3,273.7 L212.8,277.1 L216.4,280.6 L219.9,284.1 L223.4,287.7 L226.9,291.2 L230.4,294.7 L234.0,298.2 L237.5,301.6 L241.0,304.9 L244.5,308.3 L248.1,311.5 L251.6,314.8 L255.1,317.9 L258.6,321.1 L262.1,324.1 L265.7,327.2 L269.2,330.1 L272.7,333.0 L276.2,335.9 L279.7,338.7 L283.3,341.4 L286.8,344.1 L290.3,346.7 L293.8,349.3 L297.4,351.8 L300.9,354.2 L304.4,356.6 L307.9,358.9 L311.4,361.2 L315.0,363.4 L318.5,365.5 L322.0,367.6 L325.5,369.6 L329.0,371.6 L332.6,373.5 L336.1,375.3 L339.6,377.1 L343.1,378.9 L346.6,380.6 L350.2,382.2 L353.7,383.8 L357.2,385.3 L360.7,386.7 L364.3,388.1 L367.8,389.5 L371.3,390.8 L374.8,392.0 L378.3,393.2 L381.9,394.3 L385.4,395.4 L388.9,396.4 L392.4,397.4 L395.9,398.3 L399.5,399.2 L403.0,400.0 L406.5,400.8 L410.0,401.6 L413.6,402.2 L417.1,402.9 L420.6,403.5 L424.1,404.1 L427.6,404.6 L431.2,405.1 L434.7,405.5 L438.2,405.9 L441.7,406.3 L445.2,406.6 L448.8,406.9 L452.3,407.2 L455.8,407.4 L459.3,407.6 L462.9,407.8 L466.4,407.9 L469.9,408.0 L473.4,408.1 L476.9,408.2 L480.5,408.3 L484.0,408.3 L487.5,408.3 L491.0,408.3 L494.5,408.3 L498.1,408.3 L501.6,408.2 L505.1,408.2 L508.6,408.1 L512.1,408.1 L515.7,408.0 L519.2,407.9 L522.7,407.8 L526.2,407.7 L529.8,407.6 L533.3,407.5 L536.8,407.4 L540.3,407.3 L543.8,407.1 L547.4,407.0 L550.9,406.8 L554.4,406.7 L557.9,406.5 L561.4,406.4 L565.0,406.2 L568.5,406.0 L572.0,405.9 L575.5,405.7 L579.1,405.5 L582.6,405.3 L586.1,405.1 L589.6,404.8 L593.1,404.6 L596.7,404.4 L600.2,404.2 L603.7,403.9 L607.2,403.7 L610.7,403.4 L614.3,403.1 L617.8,402.9 L621.3,402.6 L624.8,402.3 L628.3,402.0 L631.9,401.7 L635.4,401.4 L638.9,401.1 L642.4,400.8 L646.0,400.5 L649.5,400.1 L653.0,399.8 L656.5,399.4 L660.0,399.1 L663.6,398.7 L667.1,398.4 L670.6,398.0 L674.1,397.6 L677.6,397.3 L681.2,396.9 L684.7,396.5 L688.2,396.1 L691.7,395.7 L695.3,395.4 L698.8,395.0 L702.3,394.6 L705.8,394.2 L709.3,393.8 L712.9,393.4 L716.4,393.0 L719.9,392.6 L723.4,392.2 L726.9,391.8 L730.5,391.4 L734.0,391.0 L737.5,390.6 L741.0,390.2 L744.6,389.8 L748.1,389.4 L751.6,389.0 L755.1,388.6 L758.6,388.2 L762.2,387.8 L765.7,387.4 L769.2,387.0 L772.7,386.7 L776.2,386.3 L777.6,386.1" stroke="#8778B3"/>
</g>
<line x1="1.9" y1="329.0" x2="793.2" y2="329.0" stroke="#666" stroke-width="0.8"/>
<line x1="73.5" y1="83.2" x2="73.5" y2="574.0" stroke="#666" stroke-width="0.8"/>
<line x1="17.50" y1="329.0" x2="17.50" y2="324.4" stroke="#666" stroke-width="0.75"/>
<line x1="45.50" y1="329.0" x2="45.50" y2="324.4" stroke="#666" stroke-width="0.75"/>
<line x1="101.50" y1="329.0" x2="101.50" y2="324.4" stroke="#666" stroke-width="0.75"/>
<line x1="129.50" y1="329.0" x2="129.50" y2="324.4" stroke="#666" stroke-width="0.75"/>
<line x1="157.50" y1="329.0" x2="157.50" y2="324.4" stroke="#666" stroke-width="0.75"/>
<line x1="186.50" y1="329.0" x2="186.50" y2="324.4" stroke="#666" stroke-width="0.75"/>
<line x1="214.50" y1="329.0" x2="214.50" y2="321.6" stroke="#666" stroke-width="0.75"/>
<line x1="242.50" y1="329.0" x2="242.50" y2="324.4" stroke="#666" stroke-width="0.75"/>
<line x1="270.50" y1="329.0" x2="270.50" y2="324.4" stroke="#666" stroke-width="0.75"/>
<line x1="298.50" y1="329.0" x2="298.50" y2="324.4" stroke="#666" stroke-width="0.75"/>
<line x1="326.50" y1="329.0" x2="326.50" y2="324.4" stroke="#666" stroke-width="0.75"/>
<line x1="355.50" y1="329.0" x2="355.50" y2="321.6" stroke="#666" stroke-width="0.75"/>
<line x1="383.50" y1="329.0" x2="383.50" y2="324.4" stroke="#666" stroke-width="0.75"/>
<line x1="411.50" y1="329.0" x2="411.50" y2="324.4" stroke="#666" stroke-width="0.75"/>
<line x1="439.50" y1="329.0" x2="439.50" y2="324.4" stroke="#666" stroke-width="0.75"/>
<line x1="467.50" y1="329.0" x2="467.50" y2="324.4" stroke="#666" stroke-width="0.75"/>
<line x1="495.50" y1="329.0" x2="495.50" y2="321.6" stroke="#666" stroke-width="0.75"/>
<line x1="524.50" y1="329.0" x2="524.50" y2="324.4" stroke="#666" stroke-width="0.75"/>
<line x1="552.50" y1="329.0" x2="552.50" y2="324.4" stroke="#666" stroke-width="0.75"/>
<line x1="580.50" y1="329.0" x2="580.50" y2="324.4" stroke="#666" stroke-width="0.75"/>
<line x1="608.50" y1="329.0" x2="608.50" y2="324.4" stroke="#666" stroke-width="0.75"/>
<line x1="636.50" y1="329.0" x2="636.50" y2="321.6" stroke="#666" stroke-width="0.75"/>
<line x1="664.50" y1="329.0" x2="664.50" y2="324.4" stroke="#666" stroke-width="0.75"/>
<line x1="693.50" y1="329.0" x2="693.50" y2="324.4" stroke="#666" stroke-width="0.75"/>
<line x1="721.50" y1="329.0" x2="721.50" y2="324.4" stroke="#666" stroke-width="0.75"/>
<line x1="749.50" y1="329.0" x2="749.50" y2="324.4" stroke="#666" stroke-width="0.75"/>
<line x1="777.50" y1="329.0" x2="777.50" y2="321.6" stroke="#666" stroke-width="0.75"/>
<line x1="73.5" y1="573.70" x2="80.9" y2="573.70" stroke="#666" stroke-width="0.75"/>
<line x1="73.5" y1="557.36" x2="78.1" y2="557.36" stroke="#666" stroke-width="0.75"/>
<line x1="73.5" y1="541.02" x2="78.1" y2="541.02" stroke="#666" stroke-width="0.75"/>
<line x1="73.5" y1="524.68" x2="78.1" y2="524.68" stroke="#666" stroke-width="0.75"/>
<line x1="73.5" y1="508.34" x2="78.1" y2="508.34" stroke="#666" stroke-width="0.75"/>
<line x1="73.5" y1="492.00" x2="80.9" y2="492.00" stroke="#666" stroke-width="0.75"/>
<line x1="73.5" y1="475.66" x2="78.1" y2="475.66" stroke="#666" stroke-width="0.75"/>
<line x1="73.5" y1="459.32" x2="78.1" y2="459.32" stroke="#666" stroke-width="0.75"/>
<line x1="73.5" y1="442.98" x2="78.1" y2="442.98" stroke="#666" stroke-width="0.75"/>
<line x1="73.5" y1="426.64" x2="78.1" y2="426.64" stroke="#666" stroke-width="0.75"/>
<line x1="73.5" y1="410.30" x2="80.9" y2="410.30" stroke="#666" stroke-width="0.75"/>
<line x1="73.5" y1="393.96" x2="78.1" y2="393.96" stroke="#666" stroke-width="0.75"/>
<line x1="73.5" y1="377.62" x2="78.1" y2="377.62" stroke="#666" stroke-width="0.75"/>
<line x1="73.5" y1="361.28" x2="78.1" y2="361.28" stroke="#666" stroke-width="0.75"/>
<line x1="73.5" y1="344.94" x2="78.1" y2="344.94" stroke="#666" stroke-width="0.75"/>
<line x1="73.5" y1="312.26" x2="78.1" y2="312.26" stroke="#666" stroke-width="0.75"/>
<line x1="73.5" y1="295.92" x2="78.1" y2="295.92" stroke="#666" stroke-width="0.75"/>
<line x1="73.5" y1="279.58" x2="78.1" y2="279.58" stroke="#666" stroke-width="0.75"/>
<line x1="73.5" y1="263.24" x2="78.1" y2="263.24" stroke="#666" stroke-width="0.75"/>
<line x1="73.5" y1="246.90" x2="80.9" y2="246.90" stroke="#666" stroke-width="0.75"/>
<line x1="73.5" y1="230.56" x2="78.1" y2="230.56" stroke="#666" stroke-width="0.75"/>
<line x1="73.5" y1="214.22" x2="78.1" y2="214.22" stroke="#666" stroke-width="0.75"/>
<line x1="73.5" y1="197.88" x2="78.1" y2="197.88" stroke="#666" stroke-width="0.75"/>
<line x1="73.5" y1="181.54" x2="78.1" y2="181.54" stroke="#666" stroke-width="0.75"/>
<line x1="73.5" y1="165.20" x2="80.9" y2="165.20" stroke="#666" stroke-width="0.75"/>
<line x1="73.5" y1="148.86" x2="78.1" y2="148.86" stroke="#666" stroke-width="0.75"/>
<line x1="73.5" y1="132.52" x2="78.1" y2="132.52" stroke="#666" stroke-width="0.75"/>
<line x1="73.5" y1="116.18" x2="78.1" y2="116.18" stroke="#666" stroke-width="0.75"/>
<line x1="73.5" y1="99.84" x2="78.1" y2="99.84" stroke="#666" stroke-width="0.75"/>
<line x1="73.5" y1="83.50" x2="80.9" y2="83.50" stroke="#666" stroke-width="0.75"/>

</svg>
<div id="tx"><svg width="830" height="589" viewBox="0 0 830 589">
<text x="214.2" y="356.6" text-anchor="middle" font-size="23.5">0.5</text>
<text x="355.1" y="356.6" text-anchor="middle" font-size="23.5">1.0</text>
<text x="495.9" y="356.6" text-anchor="middle" font-size="23.5">1.5</text>
<text x="636.8" y="356.6" text-anchor="middle" font-size="23.5">2.0</text>
<text x="777.6" y="356.6" text-anchor="middle" font-size="23.5">2.5</text>
<text x="66.3" y="91.9" text-anchor="end" font-size="23.5">3</text>
<text x="66.3" y="173.6" text-anchor="end" font-size="23.5">2</text>
<text x="66.3" y="255.3" text-anchor="end" font-size="23.5">1</text>
<text x="66.3" y="418.7" text-anchor="end" font-size="23.5">−1</text>
<text x="66.3" y="500.4" text-anchor="end" font-size="23.5">−2</text>
<text x="66.3" y="582.1" text-anchor="end" font-size="23.5">−3</text>
<g>
<text class="it" x="75.2" y="17.8" text-anchor="middle" font-size="22">V</text>
<rect x="41.2" y="31.1" width="62.8" height="1.4" fill="#666"/>
<text class="it" x="43.6" y="62.5" font-size="22">V</text>
<text x="57.4" y="67.6" font-size="17.5" style="fill:#666">0</text>
<text x="74.3" y="62.3" font-size="23.5" style="fill:#666">(</text>
<text class="it" x="81.3" y="62.5" font-size="23">&#945;</text>
<text x="98.4" y="62.3" font-size="23.5" style="fill:#666">)</text>
<text class="it" x="813.3" y="334.6" font-size="23.5">&#966;</text>
</g>
</svg></div>
</body></html>
